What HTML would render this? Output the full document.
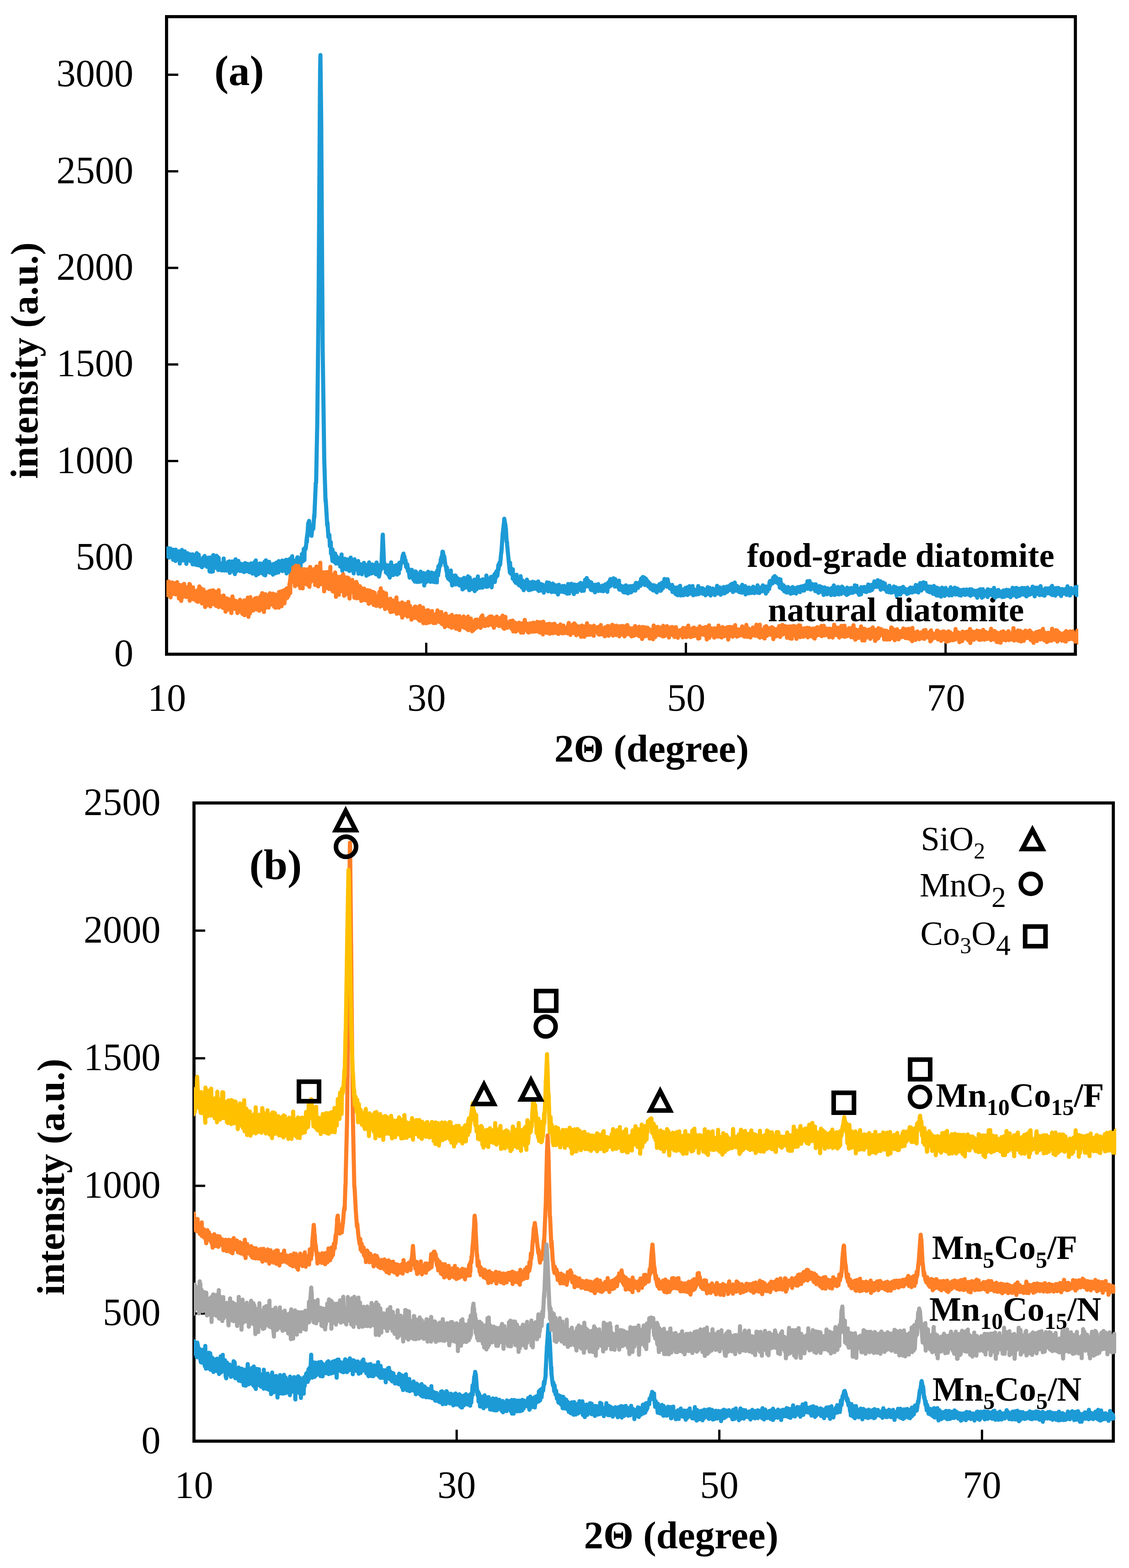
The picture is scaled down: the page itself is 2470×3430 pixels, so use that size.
<!DOCTYPE html>
<html><head><meta charset="utf-8"><title>XRD patterns</title>
<style>
html,body{margin:0;padding:0;background:#fff}
svg{display:block}
text{font-family:"Liberation Serif","DejaVu Serif",serif;fill:#000}
.t{font-size:84.3px}
.b{font-weight:bold}
.c{fill:none;stroke-width:9.0;stroke-linejoin:round;stroke-linecap:round}
.ax{fill:none;stroke:#000;stroke-width:6.8;stroke-linejoin:miter}
.tk{stroke:#000;stroke-width:5;fill:none}
.m{fill:none;stroke:#000;stroke-width:10;stroke-linejoin:miter}
</style></head><body>
<svg width="2470" height="3430" viewBox="0 0 2470 3430">
<rect width="2470" height="3430" fill="#fff"/>
<rect class="ax" x="364.4" y="36.4" width="1988.2999999999997" height="1394.6999999999998"/>
<path class="tk" d="M364.4 1219.8h25.6 M364.4 1008.5h25.6 M364.4 797.2h25.6 M364.4 586.0h25.6 M364.4 374.7h25.6 M364.4 163.4h25.6 M932.5 1431.1v-25 M1500.6 1431.1v-25 M2068.7 1431.1v-25"/>
<text class="b" x="1634" y="1240" font-size="75">food-grade diatomite</text>
<text class="b" x="1680" y="1358.5" font-size="75">natural diatomite</text>
<clipPath id="ca"><rect x="364.0" y="36.4" width="1994.9999999999998" height="1394.6999999999998"/></clipPath>
<g clip-path="url(#ca)"><polyline class="c" stroke="#1C9AD6" points="352.4,1209.9 352.8,1218.5 353.1,1217.6 353.5,1206.3 355.6,1197.7 355.9,1219.8 356.3,1209 357.3,1207.2 358,1215 359.1,1214.1 359.4,1204 360.1,1212.2 360.8,1197.2 362.2,1199.9 362.6,1209.9 363.6,1204.8 365.4,1216.6 365.7,1208.6 367.1,1217.4 368.5,1199.3 368.9,1211.4 369.9,1219.8 371.7,1202.6 372,1215.3 372.7,1200 373.8,1216.8 374.8,1214.2 375.2,1206.3 376.9,1219.5 378,1216.7 378.3,1220.9 378.7,1224.4 379,1202.6 381.1,1205.1 381.5,1217.1 383.9,1227.1 384.3,1202.5 384.6,1210.4 385.3,1224.5 386,1209.6 387.4,1210 387.8,1217.3 389.9,1223.1 390.6,1206.1 390.9,1224.2 392.7,1206.5 393.4,1232.8 393.7,1210.8 394.1,1212 394.8,1211 396.2,1223.8 396.9,1222.8 397.2,1214.2 397.9,1203.1 398.6,1222.4 399.7,1221 400,1226.1 402.5,1210.8 402.8,1214.7 403.2,1217.7 404.2,1206 405.3,1225.9 406,1214.8 406.3,1214.4 407.7,1233.3 408.1,1214.2 409.1,1223.4 409.5,1223.4 410.5,1210.3 412.3,1224.6 412.6,1226 414.7,1217.9 415.4,1221.4 415.8,1225.2 416.1,1212.8 416.5,1227.4 418.6,1218.4 418.9,1215.2 421,1212.6 421.4,1234.5 421.7,1212.9 422.1,1226.1 422.8,1213.7 423.5,1229.8 424.9,1224.7 425.2,1225.9 427.3,1217.1 428,1235.5 428.4,1230.8 430.5,1209.9 431.2,1218.5 431.5,1220.7 432.2,1215.6 433.3,1236.6 434.3,1224.2 434.7,1213.5 436.4,1230.1 437.5,1225.1 437.8,1225.3 438.9,1238.1 439.2,1224.2 440.6,1234.1 441,1224.7 441.7,1240.7 442.4,1223.5 443.4,1230.2 443.8,1224.2 444.1,1238.1 444.5,1219.8 446.6,1220.8 446.9,1232.5 447.6,1216.2 448.7,1233.1 449.7,1232.2 450.1,1227.8 451.8,1222.6 452.5,1239.7 452.9,1232 453.2,1228 455.3,1219.9 455.7,1239.1 456,1227.1 456.4,1220.1 458.5,1250 459.2,1233.3 459.5,1229.1 460.2,1219.4 461.6,1242.3 462.3,1232.9 462.7,1250.8 463.4,1226 465.5,1233.8 465.8,1249.8 466.5,1214.3 468.6,1239.2 469,1239 471.1,1231.2 471.4,1242 471.8,1235 472.1,1233.3 473.5,1215.7 474.9,1241.2 475.3,1237.3 476,1218.3 477.4,1246.9 478.1,1227.4 478.4,1220.6 479.5,1241.6 481.2,1232.7 481.6,1238 483.3,1241.1 484.4,1232.4 484.7,1247.8 486.5,1231.8 487.2,1238.6 487.5,1241 488.9,1247.8 489.3,1221.8 490.3,1240.3 490.7,1234.3 491.4,1248 492.8,1233.1 493.5,1236.7 493.8,1232.8 495.9,1247.9 496.6,1246.8 497,1242.4 498.4,1244.8 499.1,1228.9 499.8,1229.4 500.1,1239.8 501.9,1228 502.6,1253.2 502.9,1229.3 503.3,1251 504.7,1229.7 506.1,1237.5 506.4,1229.4 507.5,1228.2 508.9,1248.5 509.2,1236.6 509.6,1234.8 511.3,1251 512.4,1243.7 512.7,1227.5 513.8,1255.8 515.2,1223.6 515.5,1244.9 515.9,1251 517.3,1230.2 518.7,1240.1 519,1245.8 520.1,1247.6 521.5,1227 521.8,1240.1 522.2,1234.4 522.9,1233.2 525,1249 525.3,1242.6 526,1232.9 526.4,1248.9 528.1,1234.7 528.5,1236 530.9,1248.5 531.3,1239.8 533,1233.6 533.4,1251.3 534.1,1240.9 534.4,1232.9 535.1,1250.5 536.2,1231.8 537.2,1236 537.6,1249.7 539,1236.1 540.4,1244.8 540.7,1246.4 541.4,1233.6 543.5,1250.1 543.9,1249.9 546,1251.8 546.7,1239 547,1243 547.4,1247.1 548.8,1232.6 549.8,1237.2 550.2,1234.5 552.3,1254.8 553,1252 553.3,1245.5 555.4,1252.4 556.1,1230.2 556.5,1248.7 556.8,1253.8 559.3,1231.6 559.6,1225.9 560.3,1258.5 562.4,1254.1 562.8,1235 563.8,1233.7 564.5,1256.1 565.6,1243.5 565.9,1242 567.3,1253.1 568.7,1232.5 569.1,1250.4 570.8,1234.3 571.2,1253.6 571.9,1241.9 572.2,1241.4 572.6,1250.7 572.9,1233.2 574.7,1239.5 575,1244.1 576.4,1238.1 577.5,1257.4 577.8,1239.1 578.2,1244.4 578.9,1228.5 580.3,1258.4 581,1250.2 581.3,1240.6 581.7,1225.7 584.1,1249.5 584.5,1251.5 586.6,1233.8 587.3,1242.3 587.6,1238.8 588.7,1229 590.4,1252.8 590.8,1239.3 591.1,1233.8 591.8,1252.4 593.6,1239.1 593.9,1251.5 596.4,1238.5 596.7,1241.6 597.1,1257 598.8,1233.4 599.9,1237.3 600.2,1242.8 600.9,1235.4 603,1253.9 603.4,1236.6 603.7,1250.2 604.8,1230.7 606.2,1240.4 606.5,1248 607.2,1232.8 609,1252.2 609.3,1246.2 609.7,1227.6 611.8,1245 612.5,1236.7 612.8,1235.1 614.6,1232.6 615.3,1245.3 615.6,1239.6 616,1240.3 617.4,1226.3 617.7,1249.3 618.4,1234.7 618.8,1247.4 620.2,1227.9 621.6,1247.3 621.9,1230.7 623.3,1242.7 624.4,1225.5 624.7,1229.8 625.1,1230.6 626.5,1224.4 626.8,1254.2 627.9,1245.7 628.2,1245.2 628.9,1227.5 631,1245 631.4,1227.6 632.4,1251.2 634.2,1222.3 634.5,1238.2 634.9,1227.3 636.6,1240.5 637.3,1229.4 637.7,1240.1 639.1,1216.8 639.8,1249.4 640.5,1233.5 640.8,1240.7 643.3,1226.5 643.6,1234.8 644,1240.2 645.4,1250.5 646.8,1233 647.1,1234.2 647.8,1243.4 649.2,1223.4 649.9,1229.4 650.3,1219.4 651,1218.9 652.4,1236.8 653.1,1231 653.4,1232.7 653.8,1238.5 655.9,1222.7 656.2,1230.2 656.6,1225.8 657.6,1239.7 658,1220.7 659.4,1226.4 659.7,1225.8 660.1,1229.1 660.4,1212 662.2,1213.1 662.5,1218.4 662.9,1227.5 664.6,1200.6 665.3,1210.8 665.7,1219.9 666,1224.9 666.4,1200.7 668.5,1201.4 668.8,1195.9 669.2,1197.9 671.3,1175.4 671.6,1184.8 672,1169.4 672.3,1174.9 674.4,1143.8 674.8,1144.8 675.1,1146.5 676.2,1139.5 677.9,1157.2 678.3,1159.9 680,1153.6 680.4,1168 681.1,1160.1 681.4,1172.1 684.2,1149.2 684.6,1152.5 685.3,1157 687.4,1126.1 687.7,1131.7 690.5,1065.4 690.9,1056.2 691.6,1056.2 693.7,944.4 694,934.3 696.8,680.1 697.2,632.9 700,192.4 700.3,156.9 701,120.5 702.8,269.2 703.1,327.1 705.9,759.7 706.3,788.5 709.1,985.3 709.4,1005.4 712.2,1096 712.6,1093.2 715.4,1139.8 715.7,1149.2 716.4,1143.4 718.5,1174.6 718.9,1174 720.6,1169.9 721.7,1195 722,1189.5 723.8,1185.9 724.1,1210.9 724.8,1199 725.2,1206.6 727.3,1227 727.6,1202.4 728,1211.3 728.3,1208.3 728.7,1207.8 731.1,1228.9 731.5,1223.4 733.2,1210.6 734.3,1219.4 734.6,1218.6 735,1232.8 736.4,1216.9 737.4,1222.4 737.8,1223.8 738.1,1231.6 738.8,1219.7 740.6,1226.4 740.9,1232.3 743,1234.8 743.7,1221.3 744.1,1239.2 745.5,1224.1 746.5,1238 746.9,1231.9 747.2,1213 749,1248.6 749.7,1241.5 750,1239 750.4,1224.2 752.8,1233.2 753.2,1232.4 754.6,1222.2 756,1238.2 756.3,1235.1 757.4,1245.4 758.4,1225.8 759.1,1236.7 759.5,1230.3 760.2,1240.6 761.6,1223.7 762.3,1231.1 762.6,1244.9 763,1230.8 764,1249 765.4,1242.6 765.8,1245.8 766.1,1248 767.2,1219.8 768.6,1237.9 768.9,1234.9 770.3,1226.1 770.7,1242.2 771.7,1233.8 772.1,1235.6 772.8,1230.8 773.8,1254.3 774.9,1235.4 775.2,1232.2 775.6,1223.4 778,1242.2 778.4,1243.1 779.4,1245.9 781.2,1232.6 781.5,1244.8 783.6,1227.2 784.3,1254.9 784.7,1253.3 786.8,1235.4 787.5,1246.5 787.8,1234.2 789.6,1248.2 790.3,1242.5 790.6,1234.8 791.7,1256.2 793.4,1246.2 793.8,1248.6 796.2,1231.3 796.6,1239.5 796.9,1247 798.7,1250.6 799,1240.2 799.7,1243.3 800.1,1240 800.4,1236.1 801.5,1259.4 802.9,1257.9 803.2,1240.1 805.3,1237.5 806,1256.8 806.4,1243.4 807.4,1230.3 808.1,1254.4 809.2,1248.8 809.5,1247.6 811.3,1236 811.6,1254.5 812.3,1254.4 812.7,1254.3 814.1,1234.8 815.5,1252.4 815.8,1248.6 816.9,1237 817.2,1253.1 818.6,1246.5 819,1247.5 819.7,1235.7 820,1253.3 821.8,1238.3 822.1,1256.1 823.9,1230.4 824.6,1256.7 824.9,1255.8 825.3,1245.1 826.3,1236.9 827.4,1258 828.1,1257.7 828.4,1247.7 828.8,1237 829.1,1261.2 831.2,1251.6 831.6,1244.9 831.9,1236.1 833,1246.7 834,1245.3 834.4,1240.1 837.2,1171.2 837.5,1169.5 840.3,1237.6 840.7,1230.8 842.4,1243.3 843.5,1242.8 843.8,1242.4 844.2,1252.2 846.6,1238.7 847,1254.3 848,1236.6 849.8,1257.8 850.1,1246.4 851.5,1238.4 852.6,1263.5 852.9,1257.7 853.3,1253.6 855,1259.3 855.7,1230.3 856.1,1256.7 856.4,1242.4 858.5,1241.2 858.9,1255.6 859.2,1249.2 859.6,1246.5 860.6,1257.7 862.4,1238.1 862.7,1246.6 863.4,1253.6 864.1,1238.5 865.5,1247.6 865.9,1238.1 867.3,1236.2 868.7,1256.9 869,1253.2 869.4,1238.6 871.8,1248.1 872.2,1248.2 872.5,1254.2 873.6,1231.1 875,1241 875.3,1245 877.1,1230.8 877.8,1232.5 878.1,1231.3 878.5,1231.6 880.9,1216.4 881.3,1215.3 882.7,1210.9 883.7,1218.6 884.1,1217.3 884.4,1220.3 884.8,1217.3 886.9,1233 887.2,1225.6 887.6,1228.5 888.3,1239.8 890.4,1234.7 890.7,1243.6 891.1,1234.7 892.5,1249.6 893.5,1243.9 893.9,1246.1 896.3,1263.6 896.7,1251.7 897,1257.1 898.1,1248.4 898.4,1260 899.8,1256.9 900.2,1251.6 900.9,1246.5 902.3,1262.6 903,1255.7 903.3,1261.9 904.7,1268.6 905.8,1252.5 906.1,1263.7 906.5,1252.2 907.5,1272.3 908.9,1250.1 909.3,1259.5 909.6,1269.9 910.3,1251.2 912.1,1273 912.4,1262.7 912.8,1260.5 914.5,1271 914.9,1255.6 915.6,1265 915.9,1272.7 916.3,1260.2 918.7,1266.4 919.1,1268.1 919.8,1272.3 920.1,1250.6 921.5,1258.9 921.9,1265.1 924.3,1269.7 924.7,1256.2 925,1260.7 925.4,1267 926.1,1253.5 927.8,1257.2 928.2,1280.7 929.2,1254.5 931,1260.2 931.3,1274 932,1255.6 934.1,1263.9 934.5,1257.6 936.6,1250.7 937.3,1271.3 937.6,1258.1 938.3,1254 939.7,1262.2 940.4,1259.1 940.8,1262.4 941.8,1272.8 943.6,1256 943.9,1252.4 946.7,1272.3 947.1,1256.4 947.4,1253.6 948.1,1269.1 949.9,1267.7 950.2,1273.4 953,1253.5 953.4,1263.9 955.8,1273.9 956.2,1248.6 956.5,1257 958.6,1258.8 959,1238.8 959.3,1251.4 959.7,1251.6 961.8,1235.1 962.5,1238.2 962.8,1232.5 963.9,1236.5 964.2,1224.1 965.3,1231 965.6,1218.8 966,1224.5 968.1,1206.7 968.4,1207.1 968.8,1213.6 969.1,1207.2 971.6,1224.4 971.9,1217 974.7,1238.5 975.1,1239.3 975.8,1238.6 976.8,1249.4 977.9,1241.6 978.2,1260.3 979.3,1249.8 980,1265.2 981,1257.8 981.4,1259.1 982.4,1267.4 983.5,1252.2 984.2,1262.3 984.5,1267.9 985.2,1270 986.3,1248 987.3,1264.5 987.7,1267.6 989.1,1280.6 990.5,1259.6 990.8,1271.5 991.5,1277.5 993.3,1266.3 993.6,1268.8 994,1261.9 995.7,1258.7 996.4,1278.5 996.8,1259.5 997.1,1266 997.8,1262.9 999.6,1273.6 999.9,1263.9 1000.3,1271.6 1000.6,1277.8 1003.1,1266.4 1003.4,1275.3 1004.5,1268.7 1005.2,1280.7 1006.2,1280.5 1006.6,1272.8 1007.6,1279.4 1008.3,1270.2 1009,1273.1 1009.4,1275.8 1010.1,1266.9 1011.8,1289.3 1012.2,1280.6 1012.5,1273.7 1015,1286.9 1015.3,1264.1 1015.7,1283.7 1016.7,1273.2 1018.5,1274.7 1018.8,1272.9 1020.9,1266.1 1021.6,1285.3 1022,1281.7 1022.3,1283.4 1023.8,1260.8 1024.8,1267.3 1025.2,1264.4 1026.6,1291.1 1027.6,1263.4 1028,1277.4 1028.3,1282.7 1028.7,1267.5 1030.8,1283 1031.1,1277.5 1031.5,1281.3 1031.8,1288.4 1032.5,1271.3 1034.3,1275.7 1034.6,1282.6 1035,1273.9 1036.4,1285.2 1037.4,1282.4 1037.8,1267.9 1038.5,1292.9 1040.6,1281.2 1040.9,1275.9 1042.3,1267.8 1042.7,1289 1043.7,1283.4 1044.1,1277.2 1045.5,1260.9 1046.5,1282.8 1046.9,1273 1047.2,1275.7 1049,1271.5 1049.3,1285.8 1049.7,1271.9 1050,1277.2 1050.7,1273 1051.8,1284.8 1052.8,1281.4 1053.2,1268.7 1055.3,1285.5 1056,1267.2 1056.3,1269.4 1057,1282.6 1059.1,1273.7 1059.5,1277.3 1060.5,1279 1060.9,1270.9 1062.3,1272.2 1062.6,1281 1063.7,1283.7 1064,1258.9 1065.4,1276.6 1065.8,1277.6 1066.8,1283.3 1067.9,1267.4 1068.6,1270.6 1068.9,1270.7 1070.3,1279.4 1071,1266.3 1071.7,1272.7 1072.1,1272.2 1073.5,1262.3 1073.8,1274.9 1074.9,1274.3 1075.2,1270.3 1075.6,1284.7 1077.7,1260.9 1078,1274.4 1078.4,1263.1 1079.1,1272.1 1081.2,1260.3 1081.5,1264.3 1082.2,1255.8 1082.6,1272.9 1084.3,1260 1084.7,1253 1085,1262.8 1086.1,1249.8 1087.5,1249.9 1087.8,1251 1088.2,1259.3 1090.3,1235.7 1090.6,1245.9 1091,1242.9 1092.7,1230.7 1093.4,1236.5 1093.8,1229.8 1094.1,1235 1096.6,1208.4 1096.9,1209.2 1099.7,1168.8 1100.1,1165 1102.9,1140.8 1103.2,1134.8 1106,1149.9 1106.4,1156.1 1106.7,1155.7 1108.5,1185.6 1109.2,1185.5 1109.5,1191.3 1112.3,1220.9 1112.7,1224.7 1115.5,1252.5 1115.8,1231 1117.6,1255 1118.6,1243.7 1119,1255.6 1121.4,1249.9 1121.8,1266 1122.1,1245.5 1122.5,1266.2 1124.9,1258.3 1125.3,1268.5 1125.6,1261.8 1126,1271.8 1128.1,1266.1 1128.4,1275 1130.2,1257.2 1131.2,1273.5 1131.6,1273.5 1132.3,1264.9 1133,1277.2 1134.4,1273.3 1134.7,1274.4 1135.1,1265.4 1135.4,1280.2 1137.2,1276 1137.5,1274.1 1137.9,1281.2 1138.9,1260.5 1140.3,1271 1140.7,1278.3 1141.4,1284.9 1142.8,1269.5 1143.5,1278.1 1143.8,1273.5 1145.6,1290.9 1146.6,1278.1 1147,1275.7 1147.3,1288.2 1149.8,1272 1150.1,1277.8 1151.5,1285.2 1152.6,1268 1152.9,1279.6 1153.3,1272.8 1154.3,1284.9 1154.7,1272 1156.1,1273.1 1156.4,1290.5 1157.5,1277.3 1157.8,1291 1159.2,1286.2 1159.6,1274.5 1160.3,1286.8 1161.3,1274.1 1162.4,1276.8 1162.7,1274.5 1163.4,1289.4 1165.5,1272.6 1165.9,1282.7 1168,1273.5 1168.3,1288.1 1168.7,1279.3 1169,1283.6 1170.4,1287.3 1171.5,1274.2 1171.8,1283.2 1172.2,1277.7 1173.2,1275.7 1175,1286 1175.3,1289.1 1176.4,1290.3 1177.4,1271.9 1178.1,1283.9 1178.5,1280.4 1178.8,1292.7 1179.9,1278.2 1180.9,1280.6 1181.3,1282.5 1182.7,1277.4 1183.7,1291.5 1184.1,1283 1184.4,1285.6 1186.9,1287.2 1187.2,1279.1 1187.6,1288.7 1189.3,1281.8 1189.7,1296.4 1190.4,1287.6 1190.7,1283 1192.5,1291 1193.2,1280.8 1193.5,1290 1193.9,1284.5 1194.2,1289.1 1196.7,1273.9 1197,1285.5 1199.1,1293.5 1199.5,1280.5 1199.8,1282.4 1200.2,1283.5 1201.2,1274.8 1202.6,1290.9 1203,1284.9 1203.3,1291.8 1204.4,1292.1 1205.4,1279.4 1206.1,1289.7 1206.5,1285.8 1206.8,1295.1 1209.3,1276.5 1209.6,1279.1 1211.7,1291.1 1212.4,1285.2 1212.8,1294.7 1214.2,1279.9 1215.6,1284.9 1215.9,1288.6 1217.7,1295.9 1218.7,1286.6 1219.1,1283.3 1220.5,1280 1220.8,1300.4 1221.9,1292.8 1222.2,1282 1222.9,1279.2 1224.3,1289.6 1224.7,1286.9 1225,1294 1225.4,1294.6 1226.8,1286.3 1227.8,1286.8 1228.2,1287.3 1229.9,1294.4 1230.6,1282 1231,1287.6 1231.3,1291.5 1232,1291.9 1234.1,1281.7 1234.5,1284.2 1234.8,1283.7 1235.2,1295.8 1237.3,1292 1237.6,1286.6 1240.4,1298.6 1240.8,1283.1 1241.5,1291.3 1242.9,1277.5 1243.6,1288 1243.9,1287.7 1245,1298.3 1246,1285.8 1246.7,1286.7 1247.1,1287.4 1248.5,1291.3 1249.9,1276.9 1250.2,1292.1 1251.3,1293 1252.3,1285.9 1253,1286 1253.4,1289.1 1255.5,1299.6 1256.2,1278.7 1256.5,1284.7 1258.6,1279.3 1259,1288.1 1259.3,1284.1 1259.7,1292 1261.8,1279.8 1262.5,1295 1262.8,1286.5 1263.9,1281.6 1264.2,1290.7 1265.6,1289.8 1266,1278.2 1268.1,1289.9 1268.4,1285.7 1268.8,1284.4 1270.2,1275.1 1271.6,1290.5 1271.9,1280.6 1272.3,1292.7 1274.7,1282.8 1275.1,1288 1275.8,1276.3 1277.2,1292.2 1277.9,1282.9 1278.2,1284.7 1278.6,1285.6 1280,1268.4 1281,1282.2 1281.4,1269.1 1283.1,1281.6 1283.5,1264.5 1284.2,1275.9 1284.5,1282.4 1287,1269.8 1287.3,1277.9 1287.7,1276.1 1289.1,1273.8 1290.5,1283.9 1290.8,1284.9 1291.5,1273.6 1292.6,1290.2 1293.6,1274.1 1294,1279.7 1295,1278.4 1295.4,1291.1 1296.8,1280.7 1297.1,1287.7 1297.5,1279.1 1298.5,1288.1 1299.9,1281.2 1300.3,1286.7 1301.7,1295.7 1302.7,1279.2 1303.1,1286.8 1303.4,1282.5 1304.5,1280.4 1304.8,1289.9 1306.2,1281.6 1306.6,1287.3 1308.7,1277.7 1309,1292.7 1309.4,1286.9 1309.7,1285 1310.1,1283.1 1311.5,1290.6 1312.2,1285.3 1312.5,1288.1 1314.6,1292.5 1315,1282.4 1315.3,1285.7 1315.7,1286.1 1316.4,1292.5 1317.8,1281 1318.5,1284.3 1318.8,1286.1 1319.9,1293.3 1320.2,1283 1321.6,1285.7 1322,1287.3 1322.3,1289.1 1324.1,1278.4 1324.8,1280.3 1325.1,1290.1 1327.9,1276.8 1328.3,1286.2 1328.6,1294.5 1330.4,1275 1331.1,1279.7 1331.4,1273.7 1332.8,1283.8 1334.2,1279.2 1334.6,1268.2 1335.6,1266.8 1336,1281.6 1337.4,1268 1337.7,1266.7 1338.8,1272.6 1340.5,1267.8 1340.9,1272.5 1341.9,1278.2 1342.3,1265.1 1343.7,1272.8 1344,1274.4 1345.1,1283.2 1346.1,1266.9 1346.8,1280.3 1347.2,1273.8 1347.9,1280.3 1350,1272.5 1350.3,1281.3 1350.7,1271.3 1352.8,1285.4 1353.1,1281.2 1353.5,1273.6 1354.2,1270.2 1354.9,1289.7 1355.9,1283.6 1356.3,1284.5 1357.3,1281.1 1359.1,1289 1359.4,1281.7 1360.8,1291.8 1362.2,1283 1362.6,1289.9 1363.6,1283.3 1364.3,1295.7 1365.4,1294.6 1365.7,1282.5 1367.1,1295.7 1368.5,1287.4 1368.9,1291 1369.2,1280.5 1369.6,1296.3 1371.7,1289.4 1372,1282.3 1373.8,1298 1374.8,1289 1375.2,1290.2 1377.3,1282.6 1377.6,1295.4 1378,1287.1 1378.3,1288 1380.1,1282.1 1380.4,1295.8 1381.1,1286.3 1381.5,1284.9 1383.9,1292.7 1384.3,1282.4 1384.6,1287.9 1385.3,1281.6 1387.1,1290.8 1387.4,1287.5 1387.8,1284.7 1389.9,1291.9 1390.2,1278.8 1390.6,1279.1 1390.9,1275.4 1391.3,1288.1 1391.6,1274.9 1393.7,1285.9 1394.1,1276.3 1395.8,1286.1 1396.5,1280 1396.9,1278.3 1398.6,1282.2 1399,1273.8 1399.7,1277.5 1400,1277.2 1401.4,1281.4 1402.5,1265.8 1402.8,1273.9 1403.2,1269.1 1404.2,1274.6 1406,1262.3 1406.3,1270.1 1407.4,1277.4 1408.8,1262.9 1409.1,1273.1 1409.5,1267.1 1410.9,1279.8 1412.3,1273 1412.6,1267.5 1413,1265.6 1415.4,1275.9 1415.8,1270.1 1418.2,1282.7 1418.6,1273.2 1418.9,1283 1420.3,1277.8 1421.4,1285.1 1421.7,1280.1 1422.1,1276.8 1423.1,1287.9 1424.9,1280.1 1425.2,1282.3 1426.6,1280.4 1428,1290.8 1428.4,1286.4 1428.7,1291.6 1429.8,1280 1431.2,1287.4 1431.5,1284.5 1431.9,1281 1434.3,1292.9 1434.7,1290.3 1435.4,1282.2 1436.8,1295.8 1437.5,1286.7 1437.8,1284.6 1438.9,1281.6 1439.9,1291.1 1440.3,1283.8 1440.6,1286.8 1442,1288.5 1442.7,1277.8 1443.4,1280.7 1443.8,1282.8 1444.8,1292.4 1445.5,1280.8 1446.6,1288.6 1446.9,1290.6 1448,1274.7 1449.7,1277.5 1450.1,1283.3 1450.4,1286.5 1452.5,1272.5 1452.9,1274.7 1453.2,1273.8 1453.6,1266.6 1456,1267.6 1456.4,1271.8 1457.4,1267.5 1458.8,1283.4 1459.2,1270.7 1459.5,1271.4 1459.9,1277.9 1460.6,1267.3 1462.3,1276.4 1462.7,1280 1463.4,1277.3 1465.5,1287.2 1465.8,1282.1 1466.5,1282 1468.3,1288.9 1468.6,1288.1 1469,1288.3 1470.4,1279.5 1471.4,1295.1 1471.8,1291.9 1472.1,1293.9 1473.2,1294.5 1474.6,1286.7 1474.9,1286.9 1475.3,1284.9 1477.7,1299.1 1478.1,1293.3 1478.4,1288.8 1479.1,1299.9 1480.5,1285.3 1481.2,1291.2 1481.6,1290.8 1482.3,1302.1 1483.7,1286.2 1484,1290.5 1484.4,1293.6 1484.7,1296.5 1486.5,1282.9 1487.2,1290.5 1487.5,1290.7 1487.9,1281.5 1488.9,1302.5 1490.3,1294.4 1490.7,1290.8 1492.4,1300.4 1493.5,1294 1493.8,1297.2 1494.2,1289.4 1494.5,1302.2 1496.6,1292.8 1497,1290.8 1497.7,1300.8 1499.4,1286.1 1499.8,1286.3 1500.1,1291.2 1501.2,1296.9 1502.2,1286.5 1502.9,1293.6 1503.3,1288.6 1503.6,1284.8 1504,1301.5 1506.1,1294.7 1506.4,1296.9 1506.8,1299.7 1508.2,1282.3 1509.2,1293.7 1509.6,1293.1 1512,1297.8 1512.4,1287 1512.7,1294.7 1514.1,1299.3 1515.2,1282 1515.5,1295.3 1515.9,1294.3 1516.6,1302.2 1517.6,1291.1 1518.7,1297 1519,1296.2 1520.4,1290 1521.1,1300.5 1521.8,1294.9 1522.2,1299.5 1524.3,1300.2 1524.6,1292.6 1525,1292.7 1525.3,1292.1 1526.4,1297.7 1527.4,1282.1 1527.8,1286.5 1528.1,1299.8 1530.2,1285.8 1530.9,1294.2 1531.3,1296.8 1532.3,1288.7 1532.7,1297.2 1534.1,1292 1534.4,1291 1536.5,1286.5 1536.9,1298.7 1537.2,1293.6 1537.6,1293.2 1538.6,1287.8 1539,1297.5 1540.4,1291.8 1540.7,1292.9 1543.2,1302.2 1543.5,1290.1 1543.9,1299 1544.2,1299.6 1546,1288.9 1546.7,1289.8 1547,1292.5 1547.4,1299.6 1548.1,1284.6 1549.8,1287.4 1550.2,1298.3 1551.6,1299.6 1552.3,1285.7 1553,1290.3 1553.3,1293.1 1554.7,1302.7 1556.1,1288.6 1556.5,1295.8 1557.5,1297.7 1559.3,1287.5 1559.6,1294.5 1561,1288.8 1561.7,1295.4 1562.4,1290.7 1562.8,1294.7 1563.8,1301.7 1565.6,1288.5 1565.9,1294.3 1568,1298.5 1568.7,1281.4 1569.1,1294.2 1570.8,1289.2 1571.2,1298.1 1571.5,1294.8 1571.9,1290.4 1572.6,1296.9 1574.7,1285 1575,1296.4 1576.8,1301.1 1577.8,1287.4 1578.2,1293.1 1578.9,1298.4 1579.6,1288.4 1581,1294.7 1581.3,1293.4 1583.1,1284 1583.4,1296.5 1584.1,1294.1 1584.5,1291.6 1584.8,1298.1 1586.6,1286 1587.3,1289.6 1587.6,1292.4 1589,1295.5 1590.4,1282.9 1590.8,1288.3 1591.1,1294.3 1593.2,1283 1593.6,1286.4 1593.9,1289.7 1596,1290.9 1596.4,1281.1 1596.7,1285.7 1597.1,1286 1597.8,1290.5 1598.8,1278.8 1599.9,1284.2 1600.2,1282.6 1601.6,1276.9 1603,1287.8 1603.4,1295.1 1605.5,1278.8 1606.2,1282.9 1606.5,1277.4 1607.6,1274.2 1608.6,1289.1 1609.3,1280.2 1609.7,1288.9 1610.4,1292.2 1612.1,1281.4 1612.5,1289.5 1612.8,1287.1 1613.9,1291.6 1614.6,1285.9 1615.3,1288.3 1615.6,1286.3 1617,1295.1 1617.4,1284.5 1618.4,1286.5 1618.8,1287 1619.8,1295.8 1620.5,1285.8 1621.6,1291.3 1621.9,1286.8 1623.3,1296.5 1623.7,1279.2 1624.7,1289.3 1625.1,1286.9 1625.8,1281.8 1627.9,1291.6 1628.2,1283.8 1630,1281.9 1631,1300.3 1631.4,1293.8 1631.7,1297.5 1633.1,1286.3 1634.2,1286.8 1634.5,1296 1635.9,1297.7 1636.6,1285.7 1637.3,1294 1637.7,1292.1 1638,1285.3 1639.1,1297.8 1640.5,1288.4 1640.8,1288 1641.9,1296.9 1642.2,1287.9 1643.6,1296 1644,1290.1 1644.3,1297 1645.7,1285.7 1646.8,1291.6 1647.1,1290.5 1647.5,1283.6 1649.9,1295.6 1650.3,1288.6 1650.6,1297.4 1652,1287.4 1653.1,1295.5 1653.4,1285.8 1654.1,1293.9 1656.2,1292.2 1656.6,1294.9 1657.3,1280.4 1658.3,1296.8 1659,1284.2 1659.4,1296.7 1661.5,1297.2 1662.2,1289.8 1662.5,1285.4 1663.9,1294.3 1665.3,1290.5 1665.7,1292.9 1667.4,1293.3 1667.8,1285.3 1668.5,1287.9 1668.8,1280.5 1669.5,1293 1671.6,1287.2 1672,1290.8 1674.4,1282.9 1674.8,1290 1675.1,1286.1 1675.5,1298.4 1676.2,1283.4 1677.9,1287.3 1678.3,1284.7 1679,1293.6 1679.7,1282.7 1681.1,1288 1681.4,1282.6 1682.8,1288.2 1683.5,1273.4 1684.2,1277.3 1684.6,1271.1 1684.9,1280.8 1687,1270.6 1687.4,1275.7 1687.7,1276.1 1689.1,1269.1 1690.2,1276.2 1690.5,1272.5 1690.9,1269.4 1691.2,1271.6 1691.6,1263.3 1693.7,1263.6 1694.1,1265.8 1694.8,1260.2 1696.5,1273.5 1696.9,1272.6 1697.2,1265.4 1697.9,1262.8 1698.3,1272.4 1699.7,1270.6 1700,1269.9 1701.4,1266.5 1702.1,1276.3 1702.8,1271.7 1703.2,1276.4 1703.9,1266.4 1706,1285.4 1706.3,1275 1707.4,1267.4 1708.4,1281.1 1709.1,1275.6 1709.5,1283.6 1710.2,1278.3 1711.6,1289 1712.3,1288.6 1712.6,1284.4 1714.4,1280.3 1715.4,1293 1715.8,1293.1 1716.8,1285 1717.2,1294.3 1718.6,1286.6 1718.9,1287.9 1719.6,1284.7 1721,1296.1 1721.7,1291.1 1722.1,1295.1 1723.5,1284 1723.8,1296.1 1724.9,1293.9 1725.2,1286.9 1725.6,1285.2 1727.3,1294.9 1728,1292.6 1728.4,1290.8 1729.8,1298.8 1730.5,1288.7 1731.2,1290.5 1731.5,1297.8 1734,1284.1 1734.3,1292.3 1734.7,1297.4 1736.4,1285.8 1737.5,1290.1 1737.8,1290 1738.2,1295.1 1740.3,1288.4 1740.6,1294.9 1741,1289.4 1741.7,1298.4 1743.4,1285.2 1743.8,1290.8 1744.8,1292.5 1745.9,1284.3 1746.6,1288 1746.9,1285.1 1748.3,1293.7 1749.7,1287.3 1750.1,1295.3 1751.8,1282.9 1752.9,1288.8 1753.2,1289 1754.6,1282.7 1755.7,1291.7 1756,1285.6 1756.4,1291.7 1756.7,1282 1759.2,1291.8 1759.5,1283.4 1759.9,1288.3 1761.6,1280.3 1762.3,1286.1 1762.7,1282.2 1763.4,1280.2 1765.1,1287.7 1765.5,1281 1765.8,1280.6 1766.5,1271.5 1766.9,1288 1768.6,1284.1 1769,1273.2 1769.7,1281.4 1771.1,1270.9 1771.8,1279.5 1772.1,1281.9 1773.5,1289.5 1773.9,1279.4 1774.9,1279.4 1775.3,1277.3 1776,1277.3 1776.3,1287 1778.1,1284.6 1778.4,1287.1 1779.8,1280 1780.2,1288.2 1781.2,1281.3 1781.6,1284.2 1781.9,1278.5 1783.7,1293.1 1784.4,1282.6 1784.7,1278.2 1785.4,1291.7 1787.2,1285 1787.5,1285.7 1788.6,1284.3 1790.3,1296.7 1790.7,1293 1791.4,1296 1792.8,1282 1793.5,1290.9 1793.8,1289 1795.2,1285.3 1795.6,1291.9 1796.6,1287.5 1797,1288.7 1797.3,1283.9 1798.4,1295.2 1799.8,1293.4 1800.1,1292.1 1801.9,1301.4 1802.2,1287 1802.9,1292.4 1803.3,1285.4 1804.3,1285 1805,1294.6 1806.1,1288.3 1806.4,1288.5 1809.2,1300.1 1809.6,1290.8 1810.6,1286.9 1811.3,1296.8 1812.4,1290.8 1812.7,1293.3 1813.1,1296.1 1815.5,1288.5 1815.9,1291 1818,1301.8 1818.3,1288.5 1818.7,1292.3 1819,1299.8 1820.1,1286 1821.8,1293.3 1822.2,1291.6 1822.5,1295.3 1824.3,1280.6 1825,1295.1 1825.3,1291 1825.7,1301.4 1827.8,1286.2 1828.1,1288.2 1828.5,1300.2 1829.5,1287 1830.9,1290.1 1831.3,1291.4 1832.3,1297 1833,1284 1834.1,1295.1 1834.4,1296.5 1835.1,1300.4 1835.8,1285.2 1837.2,1285.9 1837.6,1291 1840.4,1299.2 1840.7,1293.3 1842.1,1283.3 1843.5,1295.9 1843.9,1286.2 1844.2,1285.3 1844.9,1293.8 1846.7,1289.4 1847,1294.1 1847.7,1290.1 1849.1,1298.5 1849.8,1295.2 1850.2,1295.5 1852.3,1301.4 1852.6,1288 1853,1292.2 1853.3,1285.5 1856.1,1299.3 1856.5,1295.6 1858.6,1287.4 1858.9,1296.5 1859.3,1289.4 1859.6,1291.2 1860.7,1296.8 1862.1,1286.3 1862.4,1288.1 1862.8,1292.7 1863.5,1286.7 1863.8,1297 1865.6,1293.6 1865.9,1294.6 1866.6,1296.3 1867.3,1287.9 1868.7,1291.7 1869.1,1290.2 1869.4,1294.4 1870.1,1280.4 1871.9,1287.4 1872.2,1292.4 1874,1281.5 1874.7,1295.1 1875,1287.5 1876.8,1296.9 1877.8,1293.2 1878.2,1289.7 1879.6,1301.2 1880.3,1288.1 1881,1289.1 1881.3,1290.7 1883.8,1299.9 1884.1,1284.4 1884.5,1286.2 1885.5,1294.3 1886.6,1286.1 1887.3,1288.8 1887.6,1290.1 1888,1284.7 1889.7,1293.4 1890.4,1291.2 1890.8,1285.1 1891.1,1284 1893.6,1294.6 1893.9,1292.9 1894.3,1284.5 1895.7,1295.1 1896.7,1288.7 1897.1,1286.9 1898.5,1287.7 1899.5,1278.6 1899.9,1278.8 1900.2,1290.1 1900.9,1292.4 1902,1280.7 1903,1288.3 1903.4,1292.6 1904.1,1279.7 1906.2,1282.4 1906.5,1288.5 1907.2,1279.4 1907.6,1290.5 1909.3,1286.8 1909.7,1284.6 1912.1,1275.2 1912.5,1284.5 1912.8,1271.8 1914.9,1283 1915.6,1279.1 1916,1277.1 1917.7,1283.8 1918.1,1274.3 1918.4,1283.7 1918.8,1274.8 1920.2,1269.2 1920.9,1278.9 1921.6,1273.7 1921.9,1272.1 1922.6,1270.5 1923.3,1284.4 1924.7,1283.2 1925.1,1274.8 1926.1,1271.6 1926.8,1290 1927.9,1284.8 1928.2,1283.6 1928.9,1285.8 1929.3,1278.8 1931,1280.5 1931.4,1283.6 1932.1,1274.3 1933.8,1286.7 1934.2,1282.4 1934.5,1282.4 1934.9,1289.2 1935.9,1276.5 1937.3,1288.6 1937.7,1283.3 1940.1,1294.6 1940.5,1287 1940.8,1288.3 1941.2,1291.8 1942.9,1285.7 1943.6,1290.2 1944,1287.4 1945,1295.6 1945.7,1281.2 1946.8,1289.9 1947.1,1289.9 1948.2,1285.9 1949.6,1296.4 1949.9,1294.7 1950.3,1290.4 1951,1288.2 1952,1296.1 1953.1,1292.7 1953.4,1292.7 1955.5,1282.9 1956.2,1294.5 1956.6,1289.6 1959,1295.5 1959.4,1284.4 1959.7,1294 1960.1,1290.3 1961.8,1303.3 1962.2,1292 1962.5,1288.1 1963.2,1286.6 1963.6,1300 1965.3,1287.3 1965.7,1290.2 1967.4,1289.5 1968.1,1295.6 1968.5,1292.7 1968.8,1288.8 1969.2,1286.1 1969.5,1300.7 1971.6,1294.9 1972,1293.9 1973,1288 1973.7,1295.7 1974.8,1291.1 1975.1,1292.1 1975.8,1283.7 1976.5,1294.7 1977.9,1292.1 1978.3,1290.9 1979,1295.3 1980.7,1288.1 1981.1,1290 1981.4,1293.2 1983.2,1291.3 1984.2,1299.3 1984.6,1294.3 1985.6,1297.3 1987.4,1288.8 1987.7,1294.1 1988.8,1297.5 1990.2,1286.5 1990.5,1292.7 1990.9,1288.1 1991.9,1285.3 1993.3,1295.7 1993.7,1291.7 1994,1289.6 1995.4,1296.2 1996.5,1285.7 1996.8,1295.4 1997.2,1293.6 1998.9,1294.7 1999.3,1287.8 2000,1291.2 2000.3,1286 2002.4,1293.7 2003.1,1282.3 2003.5,1279.6 2004.2,1294.4 2005.9,1291.6 2006.3,1285.4 2008,1281.5 2009.1,1296.2 2009.4,1286.1 2010.1,1291.9 2010.5,1279.3 2012.2,1287.7 2012.6,1284 2013.3,1275.3 2013.6,1290.7 2015.4,1276.9 2015.7,1291.7 2017.5,1278.3 2018.5,1286.6 2018.9,1278.5 2020.3,1273.7 2021.7,1287.6 2022,1280.7 2024.5,1287.9 2024.8,1275.2 2025.2,1284.2 2025.9,1280.3 2027.6,1287.5 2028,1282 2028.3,1290.9 2029,1293.4 2030.8,1283.1 2031.1,1287.5 2031.5,1287.4 2033.2,1283.1 2033.6,1295.4 2034.3,1292.7 2034.6,1284.3 2036.4,1283.3 2037.4,1295.6 2037.8,1290.1 2038.5,1293.4 2040.2,1285.7 2040.6,1287.8 2040.9,1298.7 2043,1281.8 2043.7,1296.7 2044.1,1288.9 2045.1,1287.4 2045.8,1300.2 2046.5,1294.8 2046.9,1289.1 2049,1302.6 2049.7,1285.6 2050,1295.3 2050.7,1287.4 2052.8,1302.9 2053.2,1287.3 2056,1296.6 2056.3,1297 2056.7,1291.2 2058.8,1305.2 2059.1,1294.7 2059.5,1290.5 2060.5,1298.7 2060.9,1285.5 2062.3,1294.4 2062.6,1297.2 2063,1289 2065.4,1297 2065.8,1290.3 2066.5,1303.5 2068.2,1289.1 2068.6,1294.6 2068.9,1286.1 2071.4,1300.2 2071.7,1296.9 2072.1,1296.9 2073.8,1299.3 2074.5,1291.1 2074.9,1291.8 2075.2,1294.7 2076.3,1302.5 2077.7,1290.1 2078,1298.3 2078.4,1297.1 2079.8,1284.7 2081.2,1290.8 2081.5,1295.3 2082.2,1302.3 2084.3,1289.7 2084.7,1294.7 2085,1299.4 2087.1,1287.3 2087.5,1295.8 2087.8,1295.4 2088.9,1285.4 2090.3,1300.6 2090.6,1296.2 2091.3,1288.2 2093.1,1299.8 2093.4,1292.4 2093.8,1297 2094.1,1287.6 2094.8,1298.3 2096.6,1289.1 2096.9,1295 2098,1293.9 2098.3,1302 2099.7,1301.6 2100.1,1301.5 2102.5,1302.8 2102.9,1290.8 2103.2,1295.3 2103.6,1291.2 2104.6,1301 2106,1296.4 2106.4,1296.8 2107.8,1297.4 2108.1,1289.8 2109.2,1295.3 2109.5,1292.8 2110.6,1290.8 2111.6,1301.5 2112.3,1297.5 2112.7,1295.5 2113.7,1297.8 2114.8,1289.4 2115.5,1294.3 2115.8,1291.2 2116.5,1290.1 2118.3,1300.7 2118.6,1293.5 2119,1292.8 2120.7,1300.4 2121.8,1288.9 2122.1,1296.9 2123.2,1303.3 2124.9,1290.5 2125.3,1292.3 2126,1289.4 2126.7,1300.8 2128.1,1296 2128.4,1299.3 2129.1,1292.5 2131.2,1300.3 2131.6,1295.2 2132.6,1292.1 2133.3,1301.9 2134,1301.7 2134.4,1295.1 2135.4,1293.9 2136.5,1299.3 2137.2,1295.3 2137.5,1293.2 2137.9,1307.5 2138.9,1291.5 2140.3,1291.9 2140.7,1296 2141,1293.3 2143.5,1301.8 2143.8,1294.8 2144.2,1288.9 2146.3,1302.6 2146.6,1296.5 2147,1294.8 2147.7,1291.9 2148,1307.5 2149.8,1292.3 2150.1,1288.7 2151.2,1305.3 2152.9,1293.2 2153.3,1296.7 2154,1293.7 2154.3,1300.7 2156.1,1298 2156.4,1299 2158.5,1302.5 2159.2,1292 2159.6,1297 2160.6,1306.1 2161,1289 2162.4,1293.2 2162.7,1301.9 2165.5,1293.2 2165.9,1297.6 2167.3,1290.4 2168,1301.3 2168.7,1291.3 2169,1294.2 2169.7,1291.4 2171.8,1303 2172.2,1298.2 2174.3,1300.2 2174.6,1286 2175,1295.9 2175.3,1297.9 2177.1,1307.4 2177.8,1293.1 2178.1,1292.5 2178.5,1291.7 2180.2,1302.9 2180.9,1300.5 2181.3,1293.8 2182,1291.3 2183.7,1304.4 2184.1,1295.7 2184.4,1290.4 2187.2,1300.4 2187.6,1294.5 2187.9,1303.7 2188.3,1293.9 2190.4,1300.9 2190.7,1297.8 2192.5,1295.5 2192.8,1306.2 2193.5,1298.2 2193.9,1295.3 2195.3,1291.5 2196.3,1302.6 2196.7,1299 2197,1302.6 2197.4,1305.4 2199.1,1292.2 2199.8,1301.6 2200.2,1297.9 2201.9,1290.1 2202.3,1300.2 2203,1295.4 2203.3,1290.4 2204,1303.7 2206.1,1296.7 2206.5,1292.4 2207.2,1290.8 2209.3,1304.9 2209.6,1297.2 2210.7,1306.4 2212.1,1293.4 2212.4,1298.1 2212.8,1293.4 2213.8,1300.8 2215.2,1285.8 2215.6,1294.7 2215.9,1294.5 2216.6,1302.2 2217.3,1288.3 2218.7,1294.9 2219.1,1287.6 2220.1,1287 2221.2,1299.3 2221.5,1294.5 2221.9,1292.5 2223.6,1285.9 2224,1305.8 2224.7,1295 2225,1304.5 2225.4,1290.3 2227.8,1299.9 2228.2,1296.5 2228.5,1288.1 2230.3,1303.5 2231,1288.1 2231.3,1295 2232,1301.8 2234.1,1288.9 2234.5,1290.5 2235.9,1286.1 2236.2,1300 2237.3,1296.6 2237.6,1296 2239.7,1300.9 2240.1,1286.6 2240.4,1294.7 2240.8,1293.1 2241.1,1286.5 2241.8,1296.7 2243.6,1293.1 2243.9,1295.2 2245.3,1304.6 2246.7,1293.7 2247.1,1292.7 2247.8,1285.4 2248.5,1302.3 2249.9,1295.1 2250.2,1290.1 2251.3,1298.5 2253,1289.2 2253.4,1300.6 2256.2,1292.8 2256.5,1299.1 2259,1283.2 2259.3,1286.1 2259.7,1294.7 2261.1,1296.9 2261.8,1289.1 2262.5,1292.3 2262.8,1288.6 2263.5,1304.5 2264.6,1285.4 2265.3,1292.6 2265.6,1294.5 2267,1297.8 2268.1,1285.8 2268.4,1289.8 2268.8,1287.5 2269.8,1299.4 2271.6,1288.7 2271.9,1299.7 2272.6,1285.6 2274.7,1301.9 2275.1,1290.4 2276.5,1282.1 2277.2,1296.5 2277.9,1292.5 2278.2,1289.3 2278.9,1301 2279.3,1288.9 2281,1295.8 2281.4,1297.2 2282.8,1291.5 2283.5,1302.5 2284.2,1296.4 2284.5,1299 2285.2,1303.1 2287.3,1286.9 2287.7,1292.4 2289.4,1288.8 2290.5,1298.1 2290.8,1293.2 2291.2,1294.3 2291.5,1287.2 2293.6,1288.8 2294,1294.1 2294.7,1297.8 2296.1,1288.3 2296.8,1290.2 2297.1,1296.1 2298.2,1285.6 2299.6,1300.3 2299.9,1293 2300.3,1288.5 2301.7,1281.6 2302,1301.8 2303.1,1294.3 2303.4,1288.3 2303.8,1296.8 2305.2,1288.3 2306.2,1293.6 2306.6,1292.2 2308.7,1303 2309,1286.7 2309.4,1294 2310.1,1298.3 2310.8,1286.3 2312.2,1290.3 2312.5,1290.7 2315,1299.3 2315.3,1285.9 2315.7,1296.5 2316.4,1299.4 2317.1,1287.7 2318.5,1295.2 2318.8,1290.8 2320.9,1290.4 2321.6,1303.8 2322,1294.4 2323.4,1288.4 2323.7,1295.1 2324.8,1295.1 2325.1,1292.4 2327.6,1298.4 2327.9,1292.7 2328.3,1298.3 2329.3,1289.1 2331.1,1293.7 2331.4,1289.5 2331.8,1288.5 2333.2,1301.3 2334.2,1295.5 2334.6,1293.6 2335.3,1282.6 2337,1297.1 2337.4,1296.9 2337.7,1294 2339.1,1302.1 2339.5,1289.6 2340.5,1291.4 2340.9,1302.6 2343,1286.5 2343.7,1296.5 2344,1293.1 2344.4,1293.8 2345.8,1288.6 2346.8,1292.2 2347.2,1296.3 2347.9,1297.7 2349.6,1288.4 2350,1296.2 2350.3,1287.7 2351.4,1286.4 2352.8,1295.6 2353.1,1284.2 2355.9,1302 2356.3,1301.7 2358.7,1283.6 2359.1,1298.4 2359.4,1289.7 2361.5,1301.5 2361.9,1289.2 2362.2,1290.7 2362.6,1288.7 2364,1297.5 2364.7,1297.4"/>
<polyline class="c" stroke="#FF7F27" points="352.4,1286.6 352.8,1295.2 353.1,1292.7 353.5,1292.6 353.8,1299.9 354.9,1276 355.9,1286.5 356.3,1290.7 356.6,1271.2 357.7,1301.1 359.1,1291.7 359.4,1292.1 361.9,1280.8 362.2,1292.9 362.6,1273.7 362.9,1293.4 365.4,1282.6 365.7,1287.7 366.1,1301.8 366.8,1282.5 368.5,1284.4 368.9,1271.9 371.7,1301.4 372,1297 373.1,1306.8 374.8,1276.2 375.2,1281.7 376.6,1273.9 378,1294.9 378.3,1299.5 379.7,1280.3 381.1,1294.9 381.5,1296.6 382.2,1276.1 383.9,1300.2 384.3,1287.2 384.6,1288.9 386,1299.2 387.4,1273.6 387.8,1286.2 388.5,1285.8 389.9,1300.2 390.6,1289.9 390.9,1296.5 391.3,1309.1 392.3,1279.6 393.7,1292.2 394.1,1284.3 395.5,1281.1 396.5,1314.5 396.9,1288.3 397.2,1289.1 397.9,1280 398.6,1307.1 399.7,1283.5 400,1298.7 402.5,1299.5 402.8,1277.3 403.2,1284.1 404.9,1303.6 406,1301.9 406.3,1298.5 406.7,1286 407.4,1306 409.1,1287.6 409.5,1296.7 410.5,1284.3 411.6,1304 412.3,1303.2 412.6,1305.5 414.4,1277.5 415.1,1314 415.4,1288 415.8,1278.9 416.5,1309.7 418.6,1304.2 418.9,1297.1 421,1292.8 421.4,1307.7 421.7,1297 422.1,1293.4 422.4,1284.9 423.1,1311.1 424.9,1303.9 425.2,1292.8 427.7,1310.3 428,1304.1 428.4,1293.7 429.8,1315.1 430.8,1293 431.2,1298 431.5,1295.8 432.9,1316.5 433.3,1290.1 434.3,1305.9 434.7,1299.2 435.7,1308 436.1,1282.8 437.5,1287.4 437.8,1300.3 438.9,1313.9 439.6,1287.1 440.6,1308.7 441,1317 441.7,1320 443.4,1293.1 443.8,1313.4 445.2,1289.8 446.2,1319.5 446.6,1298.2 446.9,1298.7 448,1295.3 448.7,1327.8 449.7,1303.2 450.1,1306.9 452.5,1295.3 452.9,1324.2 453.2,1304 453.6,1316.1 455,1297 456,1315.3 456.4,1312.7 457.8,1293 458.5,1321.9 459.2,1315.9 459.5,1307.8 460.2,1326.4 462,1292 462.3,1311.1 462.7,1297.7 463,1292.5 463.4,1320.8 465.5,1312.6 465.8,1312 466.5,1291.6 467.9,1321.6 468.6,1318.6 469,1318.6 470.4,1294.2 471.8,1299.6 472.1,1309.6 472.5,1325.2 473.5,1306.6 474.9,1310.8 475.3,1318.7 476,1294 478.1,1327.9 478.4,1291 478.8,1327.7 481.2,1317.2 481.6,1314.5 481.9,1323.8 484.4,1305.3 484.7,1314.3 485.8,1303.9 487.2,1329.6 487.5,1312.4 489.3,1302.6 490.3,1327.3 490.7,1309.4 493.5,1338.1 493.8,1323.3 495.9,1309 496.3,1329.7 496.6,1311.3 497,1322.2 497.3,1309.8 498,1333.7 499.8,1324.1 500.1,1315.6 501.5,1311.1 501.9,1329 502.9,1325.9 503.3,1313.4 506.1,1340.9 506.4,1319.2 507.1,1329.1 508.5,1304.7 509.2,1314.4 509.6,1309.8 510.6,1329.8 512.4,1326.1 512.7,1327.5 513.1,1332 515.5,1314.2 515.9,1323.9 516.2,1331 517.3,1315.9 518.7,1328.7 519,1325.6 519.4,1341 520.4,1320.8 521.8,1330.8 522.2,1323.8 523.6,1337.3 525,1311.9 525.3,1333.3 527.4,1322.5 527.8,1338.7 528.1,1330.2 528.5,1331 529.2,1325.3 530.2,1342.8 530.9,1331.7 531.3,1325.1 532.3,1339.7 534.1,1313.5 534.4,1335.9 534.8,1345.8 536.9,1321.3 537.2,1326 537.6,1338.3 538.3,1318.7 538.6,1339.6 540.4,1320.7 540.7,1314.3 542.1,1307.3 543.5,1349.3 543.9,1338.9 546,1318.4 546.7,1342.1 547,1325.4 547.7,1306.2 548.8,1336.9 549.8,1314 550.2,1329 551.9,1330.1 552.6,1314 553,1323.1 553.3,1319.1 553.7,1335.5 554.4,1312.5 556.1,1314.1 556.5,1321.9 557.9,1323.5 558.2,1308.8 559.3,1320.6 559.6,1325.3 561,1333.3 562.1,1307.9 562.4,1324.8 562.8,1330.7 565.6,1312.2 565.9,1322 567.3,1336 567.7,1307.5 568.7,1319.9 569.1,1322 569.8,1330.2 570.8,1303 571.9,1304.8 572.2,1311.2 573.6,1297.4 574.3,1333.2 574.7,1313.6 575,1320.8 576.8,1309.7 577.5,1338.7 577.8,1319 578.2,1330.9 580.6,1299.7 581,1329.7 581.3,1321.7 582.7,1307.8 583.4,1322.9 584.1,1314.8 584.5,1310.7 584.8,1326.3 586.2,1302.2 587.3,1322.6 587.6,1329 590.4,1297.8 590.8,1308.8 591.5,1319.2 592.9,1307.7 593.6,1311.3 593.9,1307.1 594.3,1322.6 596.7,1316.3 597.1,1298.8 599.9,1327.6 600.2,1304.9 602.3,1300.4 602.7,1329.6 603,1310.2 603.4,1310.6 603.7,1305.6 605.5,1327.8 606.2,1311.9 606.5,1306.4 607.6,1311.8 609,1300.4 609.3,1310.6 609.7,1329.3 610.4,1295.1 612.5,1301.6 612.8,1294.8 613.5,1312.9 614.2,1294.3 615.6,1306.5 616,1326.1 617.7,1292.8 618.4,1305.2 618.8,1292.9 619.8,1314.5 620.2,1292.2 621.6,1294.2 621.9,1297 622.3,1319.7 623,1290.5 624.7,1310.4 625.1,1297.2 626.8,1307.6 627.2,1286.9 627.9,1299.4 628.2,1306 628.9,1307.3 631,1289.3 631.4,1302.7 633.5,1276.4 634.2,1282.2 634.5,1269.1 634.9,1297.2 635.6,1258.9 637.3,1270.4 637.7,1263.2 638,1269.8 638.7,1254.3 640.5,1258.1 640.8,1258.3 641.9,1241.2 642.6,1274 643.6,1262 644,1251.8 645.4,1282.2 646.8,1258.8 647.1,1237.5 647.8,1270.9 649.9,1265.1 650.3,1272.4 653.1,1238.3 653.4,1243.2 653.8,1280.3 656.2,1264.2 656.6,1277.8 656.9,1286.6 658,1252.1 659.4,1260.1 659.7,1269.9 660.8,1245.1 662.2,1287 662.5,1265.3 663.9,1253.6 665,1276.6 665.3,1256.4 665.7,1262.4 666,1245.2 668.1,1267 668.5,1246.1 668.8,1259 669.9,1247.2 670.6,1278.2 671.6,1257.7 672,1273.5 672.3,1245.6 673.4,1279.5 674.8,1256.4 675.1,1274.3 676.5,1255.2 676.9,1283.6 677.9,1268.7 678.3,1242.2 678.6,1240.2 679.7,1272.6 681.1,1254.2 681.4,1251.2 682.8,1267 684.2,1247.8 684.6,1249.8 685.6,1245.4 687.4,1271.2 687.7,1260.3 689.5,1279.7 690.5,1245.1 690.9,1246 692.3,1239.2 693.7,1278.4 694,1260.3 695.1,1246.4 696.1,1282.8 696.8,1263.6 697.2,1257.9 697.9,1240.4 698.6,1268.8 700,1268.8 700.3,1268.8 700.7,1230.9 701.7,1278.1 702.8,1276 703.1,1265.4 704.9,1271.6 705.2,1251.8 705.9,1271.4 706.3,1274.6 708.4,1262.2 709.1,1293.5 709.4,1257 710.1,1251.9 712.2,1286.5 712.6,1282.3 714.3,1251.5 715.4,1269.6 715.7,1268.3 716.4,1251.7 717.5,1279.8 718.5,1270.2 718.9,1263.1 719.6,1288.5 721,1252.2 721.7,1283.9 722,1264.8 722.7,1240 723.1,1280 724.8,1259.9 725.2,1263 727.3,1258 727.6,1293.5 728,1274.7 728.3,1261.1 729.7,1294 730.1,1257.3 731.1,1282.3 731.5,1291.3 733.2,1252.3 734.3,1269.2 734.6,1279.8 735,1305.4 735.7,1271.7 737.4,1278.2 737.8,1285.8 739.2,1261.7 740.6,1276.1 740.9,1272.9 741.3,1301.1 742.3,1266.7 743.7,1268.7 744.1,1291.2 745.1,1261.6 746.5,1285.7 746.9,1293 748.6,1271.1 749.7,1271.3 750,1279 750.7,1256.2 752.8,1303.2 753.2,1267.2 754.9,1290.9 755.3,1262.7 756,1279.2 756.3,1275.4 757.4,1300 759.1,1279.3 759.5,1291.8 760.9,1263.4 762.3,1287.3 762.6,1280.8 763,1265.6 764.7,1309.3 765.4,1277.3 765.8,1270.9 766.1,1297.9 768.6,1290.2 768.9,1288.6 770.7,1268.5 771,1294.2 771.7,1291.7 772.1,1277.8 774.9,1297.4 775.2,1307.6 778,1285.4 778.4,1302.8 779.4,1273.1 779.8,1308.7 781.2,1286.6 781.5,1277.8 783.3,1308.2 784.3,1297.2 784.7,1288.2 786.8,1304.3 787.5,1282.4 787.8,1307.7 788.9,1285.8 790.3,1314.4 790.6,1296.8 791,1305.9 793.1,1287.8 793.4,1300.9 793.8,1308.2 795.9,1289.8 796.6,1296.9 796.9,1287.7 797.3,1312.8 799.7,1298.7 800.1,1303.7 800.4,1293.7 802.5,1313.7 802.9,1298.5 803.2,1296.1 804.3,1291 805,1314.1 806,1310.9 806.4,1294.6 806.7,1320.8 809.2,1303.6 809.5,1292 812,1318.2 812.3,1303.3 812.7,1308.3 814.4,1318.4 814.8,1297.3 815.5,1299.7 815.8,1299.7 816.2,1294.7 817.6,1323.3 818.6,1312 819,1311.5 819.7,1296.9 820.4,1315.6 821.8,1311 822.1,1324.4 823.2,1325.4 823.5,1304 824.9,1311.2 825.3,1311.5 827,1316.3 827.7,1306.6 828.1,1310.7 828.4,1309.7 829.1,1323.8 829.8,1294.9 831.2,1311.1 831.6,1327 833,1287 834,1308.5 834.4,1305.2 835.4,1320.8 836.5,1294.9 837.2,1311.6 837.5,1311.6 837.9,1295.1 838.6,1325.3 840.3,1321.6 840.7,1320.1 841.7,1305.6 842.4,1332.3 843.5,1326.7 843.8,1315.2 844.5,1298.1 846.3,1325.4 846.6,1316.2 847,1328.2 849.8,1312.2 850.1,1322.7 852.2,1333.9 852.6,1318.8 852.9,1320 853.3,1329.5 854,1309.8 854.3,1338.9 856.1,1323.5 856.4,1317.1 857.5,1325.7 857.8,1316.7 859.2,1318.9 859.6,1321 859.9,1338 860.3,1313.7 862.4,1317.8 862.7,1326.8 865.2,1320.4 865.5,1337.3 865.9,1333.5 867.3,1306.9 868,1342.6 868.7,1325.4 869,1334.1 870.1,1323.8 870.8,1340.9 871.8,1324.6 872.2,1333.6 872.9,1320 874.3,1337.8 875,1328.1 875.3,1335.7 875.7,1324.3 877.4,1343.8 877.8,1338.9 878.1,1330.6 879.5,1317.8 879.9,1351 880.9,1337.6 881.3,1322.3 883.4,1342.4 884.1,1329.7 884.4,1327.5 884.8,1320.7 885.8,1345.4 887.2,1331.4 887.6,1323.4 890.4,1346.7 890.7,1343.6 891.4,1348.7 893.2,1316.7 893.5,1346.1 893.9,1338.1 894.6,1326.6 895.6,1345.7 896.7,1332.5 897,1325.2 898.1,1348.8 899.8,1339.7 900.2,1355.4 902.3,1331.7 903,1339.4 903.3,1336.4 905.1,1351.8 905.4,1334.8 906.1,1344 906.5,1329.7 906.8,1351.1 907.9,1326.9 909.3,1327 909.6,1335.4 911.7,1352.3 912.4,1350 912.8,1331.4 913.1,1331 913.5,1352.4 915.6,1347.2 915.9,1355.1 917.7,1357.6 918.4,1325.6 918.7,1344.6 919.1,1345.6 920.1,1336.1 920.8,1358 921.5,1354 921.9,1348.5 922.6,1338.9 924.3,1353.3 924.7,1341.5 925,1343.7 925.4,1329.3 926.1,1363.2 927.8,1342.3 928.2,1343.9 929.2,1337.6 930.6,1362.9 931,1347.2 931.3,1346.1 932.4,1335.7 933.1,1363.2 934.1,1341.2 934.5,1353.5 935.9,1362.1 936.6,1334.7 937.3,1354.5 937.6,1353.8 939.7,1339.4 940.1,1361.4 940.4,1343.8 940.8,1359.3 941.5,1342 943.6,1343.6 943.9,1342.3 945,1336.7 946.7,1356.5 947.1,1353.6 948.5,1363 949.5,1348.7 949.9,1356.7 950.2,1350.4 952.7,1345 953,1362.8 953.4,1356.9 953.7,1343.2 954.1,1361.1 956.2,1358.6 956.5,1359.1 956.9,1335.3 959.3,1339 959.7,1347.3 962.1,1361 962.5,1354.6 962.8,1355.3 964.2,1359.6 965.3,1338.8 965.6,1357.7 966.3,1344.1 967,1365.3 968.4,1349.6 968.8,1354.3 969.1,1347.5 971.2,1366 971.6,1359.3 971.9,1360.2 972.3,1352.4 973,1371.7 974.7,1363.8 975.1,1342.2 977.9,1368.3 978.2,1356.9 979.3,1349.3 980,1364.1 981,1352.7 981.4,1368.3 982.1,1370.2 983.1,1348.4 984.2,1358.9 984.5,1366.7 985.9,1350.6 987.3,1354.3 987.7,1370.3 988,1373.2 988.4,1345 990.5,1362 990.8,1353.6 991.2,1349.7 992.6,1370 993.6,1353.6 994,1363.8 994.7,1349.3 996.4,1366.6 996.8,1365 997.1,1375 998.2,1347.6 999.9,1355.6 1000.3,1363.7 1001.7,1375.6 1002.4,1350.2 1003.1,1371.9 1003.4,1360.3 1004.8,1347.7 1005.2,1378.4 1006.2,1354.7 1006.6,1365 1008.7,1371.5 1009,1351.3 1009.4,1355.9 1009.7,1353.8 1012.2,1371.2 1012.5,1359.6 1014.3,1348.4 1015,1369.2 1015.3,1357.5 1015.7,1372.3 1016,1373.4 1017.4,1352.7 1018.5,1364.2 1018.8,1366.5 1019.9,1354.6 1021.3,1375.9 1021.6,1365.1 1022,1366.7 1023.8,1348.7 1024.5,1378.5 1024.8,1378.1 1025.2,1363.6 1026.9,1353.1 1027.3,1364 1028,1356.5 1028.3,1356.1 1029.7,1368.8 1030.1,1353.2 1031.1,1367.3 1031.5,1370.9 1031.8,1362.5 1032.5,1380.7 1034.3,1364.1 1034.6,1367.2 1035,1379.2 1035.7,1360.2 1037.4,1370 1037.8,1366.6 1038.1,1376.1 1039.9,1355.8 1040.6,1373.2 1040.9,1361.9 1042.7,1372.8 1043.4,1355.3 1043.7,1358.7 1044.1,1360.8 1046.2,1356.4 1046.9,1370.7 1047.2,1367.9 1049.3,1369.7 1049.7,1357.3 1050,1362.7 1051.4,1373.4 1052.1,1350.8 1052.8,1368.3 1053.2,1348.8 1054.9,1368.3 1055.3,1346.2 1056,1355 1056.3,1354.8 1058.4,1368.9 1059.1,1364.5 1059.5,1355.7 1061.2,1369.6 1061.9,1353.9 1062.3,1356.2 1062.6,1362.6 1063,1364.1 1064.4,1355 1065.4,1360.5 1065.8,1359.3 1067.9,1353.8 1068.2,1368.3 1068.6,1359.4 1068.9,1350.9 1069.3,1363.7 1071.4,1348.8 1071.7,1358.2 1072.1,1357.7 1073.5,1348.7 1074.5,1366.4 1074.9,1363 1075.2,1348.4 1076.3,1365.2 1078,1357 1078.4,1359.9 1080.5,1373.2 1080.8,1351.4 1081.2,1360 1081.5,1359.1 1081.9,1351.8 1083.6,1362.4 1084.3,1355.5 1084.7,1357.9 1086.4,1367.3 1086.8,1348.7 1087.5,1353.4 1087.8,1353.3 1090.6,1365.1 1091,1359.1 1091.7,1369.5 1092.4,1353.7 1093.4,1363.1 1093.8,1352.6 1094.8,1363.7 1095.2,1351.5 1096.6,1363 1096.9,1367.3 1098.3,1369.7 1099.4,1346.8 1099.7,1362.4 1100.1,1366.7 1101.1,1373.6 1102.9,1354.2 1103.2,1375.5 1105.7,1349.4 1106,1367.1 1106.4,1358.9 1108.5,1367.3 1109.2,1361.8 1109.5,1364.2 1109.9,1373.2 1110.6,1363 1112.3,1368.2 1112.7,1363.4 1114.1,1369.8 1115.1,1359.1 1115.5,1367.1 1115.8,1364 1117.2,1358.6 1118.3,1373.7 1118.6,1367.3 1119,1375.4 1121.4,1357.5 1121.8,1377.4 1122.1,1370 1122.8,1381.3 1123.5,1364 1124.9,1371.7 1125.3,1369.7 1126.3,1361.6 1128.1,1381.6 1128.4,1368.6 1129.1,1364.2 1131.2,1379.9 1131.6,1368.3 1133.3,1373.8 1134.4,1365.7 1134.7,1365.7 1135.1,1362.1 1135.4,1374.7 1137.2,1369.2 1137.5,1374 1139.3,1363.7 1139.6,1383.7 1140.3,1375.7 1140.7,1375.5 1142.4,1363.5 1143.1,1380 1143.5,1373.2 1143.8,1374.4 1144.5,1383.9 1146.3,1363.2 1146.6,1370.4 1147,1365.6 1147.3,1378.7 1148,1355.9 1149.8,1367.9 1150.1,1366.2 1151.5,1376.1 1151.9,1364.1 1152.9,1368.6 1153.3,1368.2 1153.6,1364.5 1155,1383.1 1156.1,1368.5 1156.4,1377.8 1157.1,1383.6 1159.2,1365.1 1159.6,1363.6 1162.4,1381.5 1162.7,1370.7 1163.1,1363.4 1164.8,1381.8 1165.5,1372.7 1165.9,1370.3 1166.9,1362 1168.7,1381.4 1169,1381.6 1169.4,1381.8 1169.7,1368.3 1171.8,1368.7 1172.2,1370.1 1173.2,1368.2 1174.3,1381.1 1175,1374.9 1175.3,1360.2 1177.8,1381.3 1178.1,1368.2 1178.5,1373.5 1179.5,1368.7 1180.6,1383.6 1180.9,1371.2 1181.3,1361.6 1181.6,1380.4 1184.1,1368 1184.4,1378.4 1185.1,1381.5 1185.8,1360.9 1187.2,1368.1 1187.6,1387.8 1188.6,1359.9 1190.4,1371.1 1190.7,1377.4 1191.8,1369 1192.1,1378.6 1193.5,1372.6 1193.9,1371.4 1194.9,1367.9 1195.6,1384.2 1196.7,1382.4 1197,1365.3 1197.7,1381.8 1199.8,1377 1200.2,1385.2 1201.6,1364.6 1203,1385.8 1203.3,1386.2 1206.1,1367.9 1206.5,1372.1 1207.9,1365.5 1208.9,1383.8 1209.3,1371.9 1209.6,1380.8 1210,1385.2 1212.4,1366.2 1212.8,1380.2 1213.1,1364.5 1215.6,1382.9 1215.9,1384.3 1217.3,1369 1218.7,1377.5 1219.1,1369.7 1221.5,1386.8 1221.9,1382.4 1222.2,1369.2 1222.9,1379.4 1224.7,1377.1 1225,1373.1 1226.1,1366 1226.4,1383.6 1227.8,1382.5 1228.2,1375.2 1229.2,1385.3 1230.3,1370.7 1231,1376.6 1231.3,1375.8 1232.7,1368.5 1233.8,1385.2 1234.1,1378 1234.5,1381.3 1234.8,1374.8 1235.2,1383.5 1237.3,1380.7 1237.6,1375.4 1239.4,1372.7 1240.1,1382.8 1240.4,1378.1 1240.8,1379.3 1241.5,1385.5 1243.6,1365.3 1243.9,1375.4 1244.3,1362.7 1246.7,1384.8 1247.1,1386.9 1248.1,1388.9 1249.9,1368 1250.2,1369.4 1251.3,1382.6 1253,1371.3 1253.4,1366.3 1254.4,1384.8 1256.2,1363.7 1256.5,1378.9 1257.6,1384.5 1258.6,1366.3 1259.3,1381.1 1259.7,1372.3 1260.7,1389.6 1262.1,1371.3 1262.5,1372.6 1262.8,1379.9 1263.5,1385.6 1263.9,1369.9 1265.6,1371.6 1266,1373.7 1268.4,1388.1 1268.8,1370.3 1271.2,1393.1 1271.6,1379.7 1271.9,1391.3 1273.3,1368.4 1274.7,1377.2 1275.1,1385 1277.5,1372.5 1277.9,1393.1 1278.2,1374.7 1278.6,1370.6 1280.7,1389.9 1281,1379.3 1281.4,1383.1 1282.8,1387.5 1284.2,1363.5 1284.5,1383.6 1285.2,1388.7 1286.6,1372.1 1287.3,1374.9 1287.7,1378.7 1288.4,1370.3 1289.8,1388.6 1290.5,1377.7 1290.8,1386.1 1291.5,1369.8 1293.6,1377 1294,1379.8 1294.7,1387.8 1296.4,1371.9 1296.8,1373 1297.1,1378.9 1298.9,1390.7 1299.2,1368.7 1299.9,1378.8 1300.3,1380.3 1301.7,1373.7 1303.1,1382.6 1303.4,1373.5 1304.1,1372.6 1305.2,1382.7 1306.2,1378.1 1306.6,1377.2 1308,1371.5 1309,1387.1 1309.4,1375.9 1309.7,1380.6 1311.1,1388.3 1311.8,1376.3 1312.2,1387.2 1312.5,1381.5 1313.6,1384.3 1314.3,1367.2 1315.3,1373.5 1315.7,1385.9 1316.7,1387.7 1317.1,1377.8 1318.5,1383 1318.8,1377.2 1320.2,1375.7 1321.6,1387.7 1322,1379.4 1323,1391.9 1324.1,1372 1324.8,1380.4 1325.1,1373.3 1325.5,1373.1 1327.9,1389.3 1328.3,1382.4 1329.7,1369.3 1330.4,1384.5 1331.1,1374.6 1331.4,1390.8 1334.2,1370.8 1334.6,1382.2 1336,1373.9 1336.3,1387.1 1337.4,1383.1 1337.7,1381.6 1339.5,1366.7 1340.2,1384.3 1340.5,1374.1 1340.9,1390.3 1341.9,1368.3 1343.7,1372.9 1344,1383.1 1346.5,1370.2 1346.8,1385.4 1347.2,1386.6 1347.9,1389.2 1348.6,1368.7 1350,1381.7 1350.3,1376.7 1350.7,1383 1353.1,1373.6 1353.5,1381.6 1354.9,1391.9 1355.9,1375.6 1356.3,1369.7 1359.1,1388 1359.4,1382.8 1361.2,1386.9 1361.9,1369.3 1362.2,1383.7 1362.6,1376.7 1363.6,1385.7 1364.7,1374.7 1365.4,1376.3 1365.7,1379.6 1366.1,1392 1368.5,1369.8 1368.9,1386.6 1369.9,1372.1 1370.3,1388 1371.7,1378.1 1372,1385 1372.4,1367.2 1374.8,1385 1375.2,1382.2 1376.6,1373.5 1377.3,1387.7 1378,1374.8 1378.3,1375.5 1380.4,1386.4 1381.1,1374.7 1381.5,1392.1 1382.2,1376.8 1384.3,1380 1384.6,1374.6 1387.1,1390.7 1387.4,1381.3 1387.8,1389.2 1389.5,1369.6 1390.6,1381 1390.9,1381.1 1392.3,1388.5 1393.7,1373.8 1394.1,1380.7 1395.1,1374.5 1396.2,1386.9 1396.5,1381.1 1396.9,1377.3 1397.9,1391.6 1398.3,1371.1 1399.7,1379.6 1400,1380.1 1401.4,1383.8 1402.1,1372.6 1402.8,1377.3 1403.2,1387.8 1404.6,1397.7 1406,1371.5 1406.3,1379.9 1406.7,1394.2 1407.4,1373.8 1409.1,1378.4 1409.5,1372.7 1410.5,1372.2 1411.6,1391 1412.3,1377.6 1412.6,1376.2 1413,1391.4 1414.4,1373.8 1415.4,1381.4 1415.8,1387.5 1416.5,1373.1 1417.5,1388.5 1418.6,1376.6 1418.9,1377.4 1419.3,1375.9 1421.4,1396.8 1421.7,1379.1 1422.1,1378.4 1423.5,1395 1424.5,1377.8 1424.9,1378.7 1425.2,1385.5 1427,1379.9 1427.3,1393.7 1428,1385.9 1428.4,1377.4 1428.7,1398.2 1430.1,1368.2 1431.2,1373.8 1431.5,1389.7 1432.2,1377.2 1433.3,1393.6 1434.3,1379.8 1434.7,1378.7 1435.4,1389.9 1436.4,1372 1437.5,1375.9 1437.8,1384.8 1438.5,1385.6 1439.2,1371.2 1440.3,1381.8 1440.6,1377 1442,1389.2 1443.4,1372.8 1443.8,1379.8 1445.2,1374.8 1446.6,1390.3 1446.9,1380.5 1447.3,1388.2 1448.3,1377.8 1449.7,1382.2 1450.1,1380.2 1450.4,1392.2 1450.8,1369 1452.9,1385.4 1453.2,1386.2 1453.9,1391.4 1454.3,1372.3 1456,1375.9 1456.4,1382.1 1458.1,1388.1 1459.2,1369.7 1459.5,1373.9 1461.6,1389.8 1462,1372.8 1462.3,1383.3 1462.7,1385.7 1463.4,1394.6 1464.1,1375.9 1465.5,1378.5 1465.8,1379.1 1467.6,1385.2 1468.6,1372 1469,1384.9 1470,1371.5 1471.8,1389.5 1472.1,1384.5 1472.8,1388 1473.2,1375.9 1474.9,1380.1 1475.3,1372.9 1475.6,1393.5 1478.1,1389.1 1478.4,1387.9 1478.8,1372 1481.2,1391.1 1481.6,1380.8 1482.6,1380.3 1483,1395.2 1484,1384.3 1484.4,1382.4 1485.1,1379.3 1485.8,1390.3 1487.2,1387 1487.5,1388.5 1487.9,1389.2 1488.9,1378.3 1490.3,1382.6 1490.7,1385.3 1492.8,1377.9 1493.5,1394.3 1493.8,1383.5 1494.2,1373.7 1495.9,1392.9 1496.6,1382.1 1497,1390 1499.4,1374.3 1499.8,1381.3 1500.1,1388.6 1501.5,1393.7 1501.9,1374.1 1502.9,1386.8 1503.3,1373.3 1505,1389.7 1505.7,1368.6 1506.1,1379.3 1506.4,1381.5 1507.1,1391.7 1508.9,1379.5 1509.2,1380.5 1509.6,1379.7 1510.6,1375.4 1511,1393.6 1512.4,1382.7 1512.7,1390.1 1513.4,1377.8 1514.5,1390.8 1515.5,1383.5 1515.9,1383.2 1516.9,1391.8 1517.3,1372.9 1518.7,1373.2 1519,1383.3 1519.4,1381.8 1519.7,1390.8 1521.8,1390 1522.2,1384.2 1522.9,1389.1 1524.3,1378 1525,1380 1525.3,1375.3 1527.4,1396.8 1527.8,1382.1 1528.1,1385.3 1529.9,1396.2 1530.9,1370.2 1531.3,1384 1531.6,1375.1 1533.4,1387.9 1534.1,1381.3 1534.4,1374.7 1537.2,1388.3 1537.6,1380.3 1537.9,1388.1 1539,1373 1540.4,1381.5 1540.7,1381.4 1541.4,1376 1543.2,1390.3 1543.5,1382.1 1543.9,1371.6 1546.3,1398.8 1546.7,1386.8 1547,1381.4 1547.7,1385.8 1548.1,1375.5 1549.8,1383 1550.2,1376.5 1551.2,1368 1551.9,1394.9 1553,1379.5 1553.3,1385.1 1554,1389.7 1555.4,1374.4 1556.1,1388.8 1556.5,1378.2 1559.3,1390.2 1559.6,1383.4 1562.1,1374.4 1562.4,1394.7 1562.8,1384.7 1565.2,1389.4 1565.6,1375.1 1565.9,1375.4 1566.6,1375 1568.4,1392.3 1568.7,1383.2 1569.1,1380.8 1569.4,1375.3 1571.2,1388.1 1571.5,1383.8 1571.9,1368.6 1572.2,1392.4 1574.7,1377.7 1575,1385.2 1576.1,1375.9 1577.1,1391 1577.8,1387.2 1578.2,1377.1 1578.5,1394.5 1580.6,1371.7 1581,1386 1581.3,1376.2 1583.4,1391.8 1584.1,1377.2 1584.5,1381.5 1585.2,1391.4 1585.9,1373.7 1587.3,1376.9 1587.6,1375.2 1589,1387.6 1590.4,1373.9 1590.8,1384.3 1591.5,1372.1 1593.2,1399 1593.6,1391.8 1593.9,1381.7 1594.3,1394.3 1595.3,1371.4 1596.7,1380.9 1597.1,1384.5 1597.4,1371.4 1598.5,1388.9 1599.9,1387.2 1600.2,1379.3 1600.9,1372.1 1603,1392.8 1603.4,1388.4 1604.8,1390 1605.8,1376.8 1606.2,1382.6 1606.5,1375.8 1608.3,1367.5 1609,1388.7 1609.3,1377.4 1609.7,1384.2 1610,1377.5 1612.1,1392.6 1612.5,1384.6 1612.8,1383.6 1614.2,1376.7 1614.6,1391.6 1615.3,1384.3 1615.6,1383 1616.3,1389.9 1617.4,1379.7 1618.4,1380.3 1618.8,1380.9 1619.1,1390.1 1621.6,1374.8 1621.9,1386.5 1623.7,1370.2 1624.4,1389.9 1624.7,1381.3 1625.1,1387.5 1626.5,1391.2 1626.8,1376.3 1627.9,1387.3 1628.2,1386.5 1628.6,1392.8 1630,1376.3 1631,1376.9 1631.4,1389.8 1632.8,1366.9 1634.2,1393.1 1634.5,1380.2 1636.3,1393.1 1637,1377.4 1637.3,1384.1 1637.7,1375 1639.8,1391.5 1640.5,1383.8 1640.8,1383.6 1641.9,1394.4 1642.6,1377.5 1643.6,1380.7 1644,1380.7 1644.3,1390.6 1646.4,1375.3 1646.8,1376.5 1647.1,1372.8 1649.2,1386.7 1649.9,1379.2 1650.3,1380 1650.6,1378.7 1651.7,1390.7 1653.1,1385.1 1653.4,1377.2 1654.8,1366.5 1655.2,1388.6 1656.2,1385.4 1656.6,1381.4 1657.3,1376.4 1658.7,1392.2 1659,1382.9 1659.4,1386.2 1661.5,1390.6 1662.2,1366.5 1662.5,1394.7 1662.9,1375.8 1665.3,1382.2 1665.7,1383.8 1668.1,1377.5 1668.5,1391.2 1668.8,1382.4 1670.6,1394.9 1671.6,1375.3 1672,1385.6 1672.7,1396.6 1673,1371.4 1674.8,1385.4 1675.1,1380.9 1676.2,1369.8 1677.6,1390.8 1677.9,1390.8 1678.3,1385.1 1679,1375.4 1681.1,1386.1 1681.4,1379.5 1681.8,1373.9 1682.1,1385.9 1684.2,1377.9 1684.6,1382 1686,1388.8 1686.3,1376.5 1687.4,1380.7 1687.7,1384.2 1688.4,1372 1689.8,1388.7 1690.5,1384.2 1690.9,1374.7 1691.2,1373.5 1691.9,1398 1693.7,1378.3 1694.1,1389.7 1694.4,1376.2 1696.9,1378 1697.2,1378.7 1697.6,1391.9 1698.6,1376.1 1699.7,1384.2 1700,1380.5 1701.4,1376.4 1702.8,1389 1703.2,1379.9 1704.6,1369.4 1704.9,1392.1 1706,1381.7 1706.3,1377 1706.7,1393.4 1709.1,1383.4 1709.5,1377.5 1710.9,1388.6 1711.6,1367 1712.3,1371.9 1712.6,1375.8 1714.4,1386.9 1715.4,1373.4 1715.8,1385.2 1717.5,1369.5 1718.6,1378.1 1718.9,1386.3 1721.4,1375.8 1721.7,1395.1 1722.1,1387 1723.5,1370.5 1724.5,1390 1724.9,1378.8 1725.2,1381.8 1726.6,1373.2 1728,1396.5 1728.4,1379.9 1729.4,1369.9 1730.5,1392.6 1731.2,1392.4 1731.5,1380.5 1732.2,1397.3 1733.6,1376.7 1734.3,1387.5 1734.7,1382.7 1736.4,1369.1 1737.1,1382.8 1737.5,1382.7 1737.8,1389.8 1740.6,1370.8 1741,1387.8 1741.3,1379 1742.4,1397.5 1743.4,1382 1743.8,1381 1744.8,1388.6 1745.2,1376.2 1746.6,1388.2 1746.9,1381.8 1747.3,1367.9 1749,1392.6 1749.7,1378 1750.1,1393.8 1750.4,1368.4 1752.9,1392.5 1753.2,1383.4 1754.6,1391 1755.7,1375.5 1756,1382.4 1756.4,1385.5 1757.8,1393 1759.2,1374.5 1759.5,1379.2 1760.9,1388.4 1762.3,1383.1 1762.7,1383.1 1764.1,1390.8 1765.5,1373.2 1765.8,1383.5 1766.2,1376.9 1767.2,1394.3 1768.6,1392.2 1769,1383.7 1769.7,1392.4 1770.7,1373.8 1771.8,1378.4 1772.1,1385.7 1772.8,1376.5 1774.6,1391.4 1774.9,1383.2 1775.3,1382.4 1776.3,1378.1 1776.7,1390.7 1778.1,1386.3 1778.4,1385.1 1779.1,1374.7 1779.8,1394.9 1781.2,1381.1 1781.6,1386.8 1782.3,1396.9 1783,1375.7 1784.4,1378.5 1784.7,1377.7 1785.1,1391.6 1787.2,1372.6 1787.5,1389.5 1788.2,1372.1 1790.3,1381.6 1790.7,1378.5 1791,1389.1 1793.1,1373.3 1793.5,1389.1 1793.8,1385.9 1795.6,1373.9 1796.6,1390.5 1797,1368.9 1797.7,1391.6 1799.8,1380.1 1800.1,1386.7 1800.8,1388.2 1802.2,1369.1 1802.9,1378.7 1803.3,1376.2 1804,1390.1 1805,1375.4 1806.1,1379.4 1806.4,1384.4 1808.2,1387.4 1808.5,1375.1 1809.2,1386.4 1809.6,1383.6 1809.9,1377.1 1811,1389.2 1812.4,1386.9 1812.7,1386.7 1813.8,1393.8 1815.2,1375 1815.5,1386.8 1815.9,1382.3 1816.9,1378.7 1818,1385.8 1818.7,1380.7 1819,1376.4 1821.8,1394.7 1822.2,1383.7 1822.9,1384.7 1825,1366.6 1825.3,1383.3 1827.1,1373.3 1828.1,1388.9 1828.5,1385.4 1829.2,1372.2 1830.9,1381 1831.3,1385.2 1832,1379.7 1832.7,1390.6 1834.1,1384.6 1834.4,1391.1 1836.2,1394.8 1836.5,1373.1 1837.2,1377.5 1837.6,1383.8 1838.3,1392.4 1839.7,1373.5 1840.4,1381.9 1840.7,1369 1843.5,1386.1 1843.9,1380.6 1844.2,1369.3 1845.3,1392.2 1846.7,1373.8 1847,1374.2 1847.7,1368.8 1848.4,1393.1 1849.8,1386.5 1850.2,1377.4 1850.9,1388.5 1851.2,1377.2 1853,1387.8 1853.3,1389.5 1854,1391.5 1856.1,1375.8 1856.5,1383.4 1857.5,1373.9 1858.2,1389.8 1859.3,1379.4 1859.6,1387.4 1860.7,1374.3 1862.1,1394 1862.4,1380.3 1862.8,1379.3 1864.5,1382.5 1865.2,1372.5 1865.6,1379.7 1865.9,1376.6 1867.3,1367.6 1868.7,1392.9 1869.1,1396 1870.8,1377 1871.2,1399.2 1871.9,1386 1872.2,1381.4 1872.6,1377.3 1874.3,1388.9 1874.7,1386.6 1875,1388.1 1875.4,1378.4 1875.7,1395.5 1877.8,1386.8 1878.2,1386.5 1878.5,1395.3 1879.6,1379.2 1881,1384.5 1881.3,1376.7 1881.7,1389.5 1883.8,1370.2 1884.1,1386.3 1884.5,1393.2 1886.2,1378.1 1886.6,1401.1 1887.3,1385.8 1887.6,1389.2 1888,1399.2 1888.3,1375.4 1890.4,1386.2 1890.8,1381.9 1891.1,1401.1 1891.8,1375.6 1893.6,1384.7 1893.9,1392 1894.6,1395.2 1895.3,1381.6 1896.7,1384.1 1897.1,1389.2 1899.2,1392.4 1899.9,1377.3 1900.2,1385.8 1900.9,1390.9 1902,1380 1903,1382.4 1903.4,1395.3 1903.7,1397.4 1904.8,1376.3 1906.2,1384 1906.5,1384.2 1909,1393.3 1909.3,1372.6 1909.7,1387.9 1912.1,1389.7 1912.5,1377.2 1912.8,1384.4 1914.6,1402.1 1915.6,1396.4 1916,1398.5 1918.4,1377.5 1918.8,1393.2 1919.5,1397.3 1921.6,1374.1 1921.9,1395.5 1922.6,1380.5 1924.7,1390 1925.1,1390.4 1927.2,1376 1927.9,1383.8 1928.2,1386.7 1929.3,1381.3 1930.3,1389.3 1931,1384 1931.4,1387.4 1933.5,1378.9 1934.2,1398.8 1934.5,1391.9 1935.6,1398.2 1937,1379.9 1937.3,1396.7 1937.7,1385.1 1939.4,1379.7 1940.1,1399 1940.5,1388.6 1940.8,1381.1 1941.2,1394.8 1943.6,1389.9 1944,1387 1945.4,1383.6 1946.1,1399 1946.8,1393.9 1947.1,1396.2 1949.9,1372.5 1950.3,1381.4 1950.6,1395.8 1952.7,1375.1 1953.1,1380.3 1953.4,1382.4 1955.2,1396.8 1956.2,1389.3 1956.6,1385.5 1957.3,1400.4 1958,1382.7 1959.4,1393 1959.7,1387.5 1960.1,1377.6 1961.1,1394.2 1962.2,1382.6 1962.5,1376.6 1964.3,1398.1 1965.3,1386.6 1965.7,1385.9 1966,1398.5 1966.7,1380.4 1968.5,1391.7 1968.8,1387.4 1969.9,1390.7 1971.3,1380.7 1971.6,1389.2 1972,1385.1 1972.3,1394.1 1974.8,1383 1975.1,1381 1975.5,1388.2 1976.2,1374.8 1977.9,1387.2 1978.3,1391 1980,1383.2 1980.4,1395.5 1981.1,1388.5 1981.4,1380.8 1982.1,1376.4 1983.9,1392.6 1984.2,1390.8 1984.6,1390.9 1985.3,1396.3 1986,1385.5 1987.4,1388.9 1987.7,1391 1988.1,1375.6 1988.8,1391.6 1990.5,1390.7 1990.9,1381.1 1991.2,1398.1 1993,1380.3 1993.7,1389.6 1994,1389.4 1995.4,1402.6 1996.1,1373.5 1996.8,1383.7 1997.2,1390.1 1997.5,1391.2 1997.9,1385.6 2000,1388.1 2000.3,1396.8 2002.8,1399.9 2003.1,1384.4 2003.5,1388.2 2004.2,1382.9 2005.6,1396.4 2005.9,1384.5 2006.3,1387.2 2007,1381.3 2008,1393.8 2009.1,1383.4 2009.4,1385.7 2011.2,1398.4 2012.2,1391.6 2012.6,1393.4 2015,1383.3 2015.4,1384.9 2015.7,1387.8 2017.5,1384.7 2018.5,1395.4 2018.9,1384.9 2019.6,1396.9 2021,1379 2021.7,1389.8 2022,1394.7 2022.4,1397.5 2024.8,1378.1 2025.2,1393 2025.5,1394.5 2026.9,1383.8 2028,1390.2 2028.3,1393.7 2029.4,1394 2029.7,1386.1 2031.1,1389.6 2031.5,1390.3 2032.9,1395.5 2033.6,1382.6 2034.3,1385.6 2034.6,1390.5 2035.3,1403 2036.7,1379.1 2037.4,1400.8 2037.8,1383 2038.5,1391.9 2040.6,1388.1 2040.9,1391.3 2041.6,1396.4 2043.7,1386.1 2044.1,1390.5 2044.4,1390.4 2045.5,1395.2 2046.5,1391.8 2046.9,1390.5 2049,1393.8 2049.7,1379.8 2050,1383.9 2051.8,1379.7 2052.1,1398.7 2052.8,1386.8 2053.2,1397.6 2055.3,1383.7 2056,1387.1 2056.3,1386.6 2058.1,1382.9 2058.8,1401.8 2059.1,1387.3 2059.5,1390 2060.9,1397.6 2061.6,1387.9 2062.3,1396.8 2062.6,1391.2 2063,1381.2 2064,1398.5 2065.4,1389.9 2065.8,1381.5 2066.8,1394.8 2068.6,1393.8 2068.9,1395.3 2070.3,1403.8 2070.7,1386.4 2071.7,1396.1 2072.1,1393.9 2072.8,1402.6 2074.9,1381 2075.2,1401 2076.3,1402.2 2078,1387.4 2078.4,1384.2 2078.7,1383 2080.5,1397.3 2081.2,1388.8 2081.5,1391.7 2082.9,1400.3 2083.6,1386.5 2084.3,1394.6 2084.7,1397 2086.1,1400.4 2087.1,1385.7 2087.5,1387.6 2087.8,1395.7 2089.2,1388.3 2090.3,1394.4 2090.6,1375.9 2091,1398.5 2093.4,1394.9 2093.8,1389.7 2094.8,1393.5 2096.2,1383.2 2096.6,1393.1 2096.9,1389.6 2098,1384.4 2099,1404.7 2099.7,1391.8 2100.1,1385.6 2102.9,1399.8 2103.2,1390.7 2105,1402.3 2105.7,1381.8 2106,1392 2106.4,1387 2106.7,1382.4 2107.4,1394.1 2109.2,1386.5 2109.5,1389.6 2110.9,1396.8 2112,1382.8 2112.3,1396.5 2112.7,1394.3 2115.5,1381.9 2115.8,1392 2118.3,1400.8 2118.6,1386.6 2119,1393.1 2120,1393.7 2121.4,1378.2 2121.8,1388.2 2122.1,1376.1 2122.8,1406.6 2124.9,1386.9 2125.3,1384.3 2126.3,1398.6 2127.7,1381.6 2128.1,1390.1 2128.4,1391.9 2130.2,1399.7 2130.5,1384.4 2131.2,1388.1 2131.6,1392.8 2131.9,1386.4 2134,1390.9 2134.4,1382 2135.8,1396.1 2137.2,1392.1 2137.5,1379.6 2140,1398.1 2140.3,1393 2140.7,1387.9 2142.4,1380.5 2142.8,1399.8 2143.5,1394.9 2143.8,1382.6 2146.6,1399.4 2147,1388.9 2148,1386.6 2148.7,1396.6 2149.8,1392.7 2150.1,1393 2150.8,1377.8 2151.9,1394.1 2152.9,1393.9 2153.3,1392.4 2153.6,1399.2 2156.1,1382.2 2156.4,1390.7 2157.8,1386.4 2158.9,1398.1 2159.2,1394.7 2159.6,1393.7 2160.3,1396.3 2161.3,1384.7 2162.4,1395.6 2162.7,1395.9 2165.2,1389.4 2165.5,1393.1 2165.9,1382.1 2168,1400.2 2168.3,1375.6 2168.7,1393.3 2169,1380.3 2169.7,1392.3 2171.8,1389.6 2172.2,1391 2173.2,1382 2175,1398.9 2175.3,1392.3 2175.7,1380.2 2176.4,1396.9 2177.8,1393.8 2178.1,1395.3 2179.9,1383.4 2180.6,1404.3 2180.9,1393.7 2181.3,1393.1 2182.3,1389.1 2183.7,1404.4 2184.1,1392.3 2184.4,1386.3 2184.8,1384.9 2187.2,1405.2 2187.6,1394.4 2189,1405.9 2190.4,1382.5 2190.7,1393.2 2191.8,1397.7 2193.2,1385.9 2193.5,1390.1 2193.9,1395.8 2194.2,1399.7 2194.9,1381.1 2196.7,1395.4 2197,1391.4 2199.5,1384.3 2199.8,1399.7 2200.2,1400.9 2202.3,1388.2 2203,1389.6 2203.3,1391 2204.4,1392 2206.1,1380.7 2206.5,1387.9 2207.5,1400.2 2207.9,1385 2209.3,1390.3 2209.6,1392.6 2210,1385.5 2212.1,1398.7 2212.4,1390.4 2212.8,1394.6 2215.2,1398.3 2215.6,1382.6 2215.9,1390.5 2217.3,1374 2218.7,1401.3 2219.1,1394.8 2219.8,1396.5 2220.8,1386.6 2221.5,1392.1 2221.9,1382.5 2224,1398.7 2224.7,1388.9 2225,1383.5 2227.1,1379.1 2227.5,1401.6 2227.8,1389.6 2228.2,1400.5 2228.5,1384.7 2231,1389.8 2231.3,1385.8 2232,1379.9 2233.8,1403.3 2234.1,1395.3 2234.5,1392.6 2235.2,1400 2236.6,1382.7 2237.3,1389.8 2237.6,1388.2 2239.7,1401.8 2240.1,1386 2240.4,1394.4 2240.8,1392.3 2242.2,1397.3 2243.2,1379.6 2243.6,1385.7 2243.9,1387.5 2244.3,1393.9 2245,1383.4 2246.7,1389 2247.1,1394.2 2248.8,1387.6 2249.2,1395.7 2249.9,1389.3 2250.2,1380.7 2251.6,1394.2 2252.7,1379.3 2253,1393.8 2253.4,1390.4 2255.1,1400.2 2255.8,1382.6 2256.2,1393.6 2256.5,1384.5 2257.9,1396.8 2259.3,1385.6 2259.7,1387.5 2261.1,1406.2 2261.4,1387 2262.5,1392.3 2262.8,1387.6 2263.5,1393.4 2265.3,1387.5 2265.6,1383.8 2268.1,1382.4 2268.4,1402.2 2268.8,1392.3 2269.5,1393.4 2270.9,1388.7 2271.6,1390.1 2271.9,1390.6 2272.6,1394.8 2273.3,1380.8 2274.7,1387.7 2275.1,1393 2275.8,1398.9 2276.1,1382 2277.9,1387.1 2278.2,1388.3 2278.9,1379.8 2279.3,1395.5 2281,1380.4 2281.4,1393 2281.7,1375.7 2284.2,1400.6 2284.5,1389.9 2285.2,1383.8 2287.3,1396 2287.7,1384.9 2289.8,1404.5 2290.5,1388.2 2290.8,1404.2 2292.9,1383.9 2293.6,1390.4 2294,1397.4 2295,1400 2296.8,1389.7 2297.1,1401.5 2297.8,1384.3 2299.9,1385.5 2300.3,1399 2300.6,1401.4 2301.7,1375.6 2303.1,1390.3 2303.4,1389.4 2304.8,1385.5 2305.5,1394.7 2306.2,1391.1 2306.6,1390.5 2307.3,1399.2 2308.7,1386.4 2309,1397 2309.4,1397.3 2309.7,1378.6 2311.8,1397.3 2312.2,1391.3 2312.5,1394.5 2312.9,1379.4 2313.2,1403.4 2315.3,1383.6 2315.7,1397.1 2317.1,1383.7 2317.4,1397.8 2318.5,1387.8 2318.8,1390 2320.2,1399.5 2320.6,1386.3 2321.6,1388.4 2322,1394.8 2322.7,1386.3 2323,1401.5 2324.8,1397 2325.1,1395.2 2326.5,1397.6 2327.6,1384.9 2327.9,1395.2 2328.3,1388 2329,1402.4 2330.4,1382.9 2331.1,1397.9 2331.4,1403 2331.8,1403.5 2332.5,1380.6 2334.2,1398.2 2334.6,1398.1 2336.3,1388.7 2337.4,1391.3 2337.7,1390.6 2339.1,1398.7 2340.2,1383.7 2340.5,1397.9 2340.9,1381.3 2342.3,1396 2343.7,1394.9 2344,1392.7 2344.4,1397.4 2346.8,1387.4 2347.2,1381.1 2348.9,1399.1 2350,1394.2 2350.3,1387.3 2352.4,1403.6 2352.8,1402.3 2353.1,1389.1 2353.5,1397.6 2355.9,1388.8 2356.3,1390.9 2357,1379.6 2357.3,1398.5 2359.1,1395.7 2359.4,1394.4 2359.8,1406.2 2362.2,1383.4 2362.6,1389.8 2362.9,1394.7 2364.7,1385.1"/></g>
<text class="t" x="292" y="1457.1" text-anchor="end">0</text>
<text class="t" x="292" y="1245.8" text-anchor="end">500</text>
<text class="t" x="292" y="1034.5" text-anchor="end">1000</text>
<text class="t" x="292" y="823.2" text-anchor="end">1500</text>
<text class="t" x="292" y="612.0" text-anchor="end">2000</text>
<text class="t" x="292" y="400.7" text-anchor="end">2500</text>
<text class="t" x="292" y="189.4" text-anchor="end">3000</text>
<text class="t" x="365.1" y="1554.8" text-anchor="middle">10</text>
<text class="t" x="933.2" y="1554.8" text-anchor="middle">30</text>
<text class="t" x="1501.3" y="1554.8" text-anchor="middle">50</text>
<text class="t" x="2069.4" y="1554.8" text-anchor="middle">70</text>
<text class="t b" x="1425.5" y="1666" text-anchor="middle" style="font-size:85px">2Θ (degree)</text>
<text class="t b" transform="translate(81.8 788.6) rotate(-90)" text-anchor="middle">intensity (a.u.)</text>
<text class="b" x="469" y="186" font-size="93">(a)</text>
<rect class="ax" x="424.4" y="1756.5" width="2011.2999999999997" height="1396.0"/>
<path class="tk" d="M424.4 2873.3h24.5 M424.4 2594.1h24.5 M424.4 2314.9h24.5 M424.4 2035.7h24.5 M999.1 3152.5v-25 M1573.7 3152.5v-25 M2148.4 3152.5v-25"/>
<text class="b" x="2047.5" y="2420.8" font-size="74.2">Mn<tspan dy="18.5" font-size="50">10</tspan><tspan dy="-18.5">Co</tspan><tspan dy="18.5" font-size="50">15</tspan><tspan dy="-18.5">/F</tspan></text>
<text class="b" x="2039" y="2754" font-size="74.2">Mn<tspan dy="18.5" font-size="50">5</tspan><tspan dy="-18.5">Co</tspan><tspan dy="18.5" font-size="50">5</tspan><tspan dy="-18.5">/F</tspan></text>
<text class="b" x="2033" y="2888.5" font-size="74.2">Mn<tspan dy="18.5" font-size="50">10</tspan><tspan dy="-18.5">Co</tspan><tspan dy="18.5" font-size="50">15</tspan><tspan dy="-18.5">/N</tspan></text>
<text class="b" x="2040" y="3063.5" font-size="74.2">Mn<tspan dy="18.5" font-size="50">5</tspan><tspan dy="-18.5">Co</tspan><tspan dy="18.5" font-size="50">5</tspan><tspan dy="-18.5">/N</tspan></text>
<clipPath id="cb"><rect x="424.0" y="1756.5" width="2017.9999999999998" height="1396.0"/></clipPath>
<g clip-path="url(#cb)">
<polyline class="c" stroke="#1C9AD6" points="412.4,2949.8 412.7,2962 413.1,2927 413.4,2963.9 415.5,2954.8 415.9,2952.2 416.6,2928 418,2969.1 418.7,2935.1 419,2959.6 420.1,2937.3 421.8,2962.8 422.2,2937.7 423.6,2933.4 423.9,2956.7 425,2950.9 425.3,2940 426.7,2959.4 427.8,2939.3 428.1,2947.6 428.5,2936.7 430.6,2968.9 430.9,2941.4 431.3,2967.1 431.6,2936.9 434.1,2950.9 434.4,2951.9 435.1,2969.4 437.2,2951.2 437.6,2969.5 439.3,2979.8 440,2961.5 440.4,2968.3 440.7,2957.7 441.1,2980.5 443.5,2967.2 443.9,2952.8 445.3,2981.5 446.7,2970.2 447,2983.8 448.4,2989.2 449.1,2944.2 449.8,2977.9 450.2,2983.9 450.5,2993.9 451.2,2967.7 453,2990.7 453.3,2968 453.7,2967 455.8,2993.2 456.1,2986.8 456.5,2986.8 456.8,2992.9 457.2,2959.1 459.3,2968 459.6,2977 460,2960.5 460.7,2996.5 462.4,2989.6 462.8,2986 463.1,2991.3 463.8,2969.4 465.6,2980.9 465.9,2983.3 467,3001.3 467.3,2972.8 468.7,2977.1 469.1,2985 469.4,2978.9 469.8,2995.3 471.5,2986.2 471.9,2987.7 473.6,2999.1 474.3,2972.3 474.7,2982.8 475,2990.1 477.1,2978.4 477.5,2999.6 477.8,2986.2 478.2,2977.7 479.2,3005.6 479.9,2971.9 481,2996.5 481.3,2993.6 482.7,2967.1 484.1,3001.9 484.5,2980.1 486.6,2993.1 487.3,2963.7 487.6,2991.7 489,2980.7 489.4,2998.4 490.4,2995.8 490.8,2992.7 492.2,2975.4 493.6,3008.5 493.9,3011.6 495,3015 496.4,2980.5 496.7,2980.9 497.1,2997.2 498.1,3000.4 499.9,2987.2 500.2,2999.3 501.6,3006.9 502,2985 503,2998.2 503.4,3006.7 503.7,2987.1 505.1,3011.8 506.2,2989.5 506.5,3006.8 508.3,3008.7 508.6,2990.7 509.3,3000 509.7,2999.2 511.1,2977.7 511.8,3010.7 512.5,2993.3 512.8,3009.2 513.5,2980.6 514.6,3014.7 515.3,2993.5 515.6,3001.1 517,2999.8 517.4,3015 518.4,3003.1 518.8,3000.9 520.5,3012.9 520.9,2999.8 521.6,3011.6 521.9,2991.4 522.6,3020.2 524.7,2997.4 525.1,3000 525.4,2998.3 527.2,3021.3 527.9,3008.1 528.2,2994.1 530,3013.3 531,3009.3 531.4,3009.1 533.1,3030.3 533.8,2995.9 534.2,3003.3 534.5,2998.4 535.6,2997.9 537,3026.4 537.3,3018.1 537.7,3031.2 538,3003 540.5,3022 540.8,3012.6 541.2,3014 541.9,2984 543.6,3005.4 544,3028.1 546.4,3006.9 546.8,3014 547.1,3002.3 548.9,3026.4 549.9,3009.1 550.3,3000.8 551.3,2992.3 552.4,3028 553.1,3012.9 553.4,3019.7 554.5,3030.9 555.2,2989.3 556.2,3024.2 556.6,3015.3 557.3,3034.1 559,3024.7 559.4,3004 559.7,3038.4 561.5,2994.6 562.2,3003.5 562.5,3006.4 562.9,2997.8 563.6,3022.6 565.3,3010.1 565.7,3004.7 566.4,2995.2 567.4,3030.1 568.5,3008.1 568.8,3027.5 569.9,3006.5 570.6,3033.2 571.6,3024.8 572,3019.4 572.7,3028.1 574.4,3010.2 574.8,3025.2 575.1,3014.5 576.9,3037.8 577.2,2996.2 577.9,3035.5 578.3,3023.1 580,3012 580.7,3035.4 581.1,3024.3 581.4,3016.3 583.9,3038.2 584.2,3022.2 584.6,3027.1 585.3,3004.8 587.4,3037.1 587.7,3023.9 588.8,3040.7 590.2,3012.9 590.5,3022.5 590.9,3022.7 592.6,3009.6 593,3049.6 593.7,3032 594,3013.7 595.4,3002.5 595.8,3038.6 596.8,3016 597.2,3029.8 598.2,3045.8 599.6,3017.3 600,3027.7 600.3,3038 600.7,3042.4 602.1,3010.6 602.8,3031.4 603.1,3023.8 603.8,3010 604.5,3042 605.9,3020.7 606.3,3030.5 607,3057.1 608,3013.2 609.1,3032.7 609.4,3015.1 611.2,3048.2 612.2,3042.5 612.6,3008.1 614,3040 615.4,3018.4 615.7,3041.9 616.1,3025.1 616.8,3048.1 618.5,3030.2 618.9,3030 619.9,3048.6 621.3,3007.6 621.7,3039.8 622,3032.5 623.8,3045.9 624.8,3013.3 625.2,3035.7 625.5,3047.3 626.6,3016.7 628,3028.5 628.3,3037.6 629,3021 629.4,3038.3 631.1,3037.4 631.5,3031 633.9,3018 634.3,3052 634.6,3011.2 635,3047.9 637.4,3036.9 637.8,3025.4 638.5,3021.1 639.9,3044 640.6,3023.5 640.9,3020.9 643.4,3012.4 643.7,3038.2 644.1,3041.5 645.1,3023.5 646.2,3061.3 646.5,3030.6 646.9,3024.1 647.6,3020.4 649.7,3045.5 650,3038.3 652.1,3010.7 652.5,3043.8 652.8,3029.9 653.2,3040.1 655.6,3048.3 656,3014.2 656.3,3024.4 657.4,3020.4 658.4,3057.9 659.1,3029.1 659.5,3037.6 661.6,3044.3 662.3,3023 662.6,3019.4 664.4,3048.6 665.1,3012.7 665.4,3024.8 665.8,3019.7 666.5,3032.1 668.6,3012 668.9,3022.8 669.6,3005.1 671.7,3010.3 672.1,3002.4 673.1,3023 674.9,2995.2 675.2,2998 675.6,3017.5 677.3,2991.8 678,2998.9 678.4,2993.9 679.1,2999.1 680.8,2963.5 681.2,2986 681.5,2980.5 682.9,3013.5 684,2979.5 684.3,3000.7 684.7,2987.4 686.4,3005.2 687.5,2982.1 687.8,2999.9 688.2,3011.9 689.9,2980.8 690.3,3003.3 690.6,3005.2 692.4,3008.1 693.1,2983.3 693.4,2996.9 693.8,2998.3 695.2,3005 695.5,2982.5 696.6,3002 696.9,2991.3 697.3,2979.9 698.7,3003.8 699.7,2985.7 700.1,3002.8 701.1,3010.2 702.2,2979.2 702.9,3008.9 703.2,2994 704.6,2982.4 705.3,3010.8 706,3010.5 706.4,2994.9 707.1,3002 708.5,2984.9 709.2,3000.1 709.5,3003.1 710.6,2986.9 712.3,2997 712.7,3003.9 715.5,2980 715.8,2995.3 717.9,2997.5 718.3,2977.8 718.6,2986.5 719,3005.7 720.4,2983.3 721.8,3002.9 722.1,2997.1 723.2,3004.4 724.9,2980.7 725.3,3003.5 725.6,3004.1 728.1,2978.5 728.4,2987.4 729.8,3002.6 730.9,2982.7 731.2,2988.5 731.6,2999.6 731.9,2977.3 733.3,3000 734,2989.1 734.4,3001.5 734.7,2979.4 736.5,3013.7 737.2,2985 737.5,2974.5 739.6,2997.8 740.3,2989.5 740.7,2974 741.7,2996.6 743.5,2994.9 743.8,2994.1 744.2,2998.7 745.2,2979.7 746.6,2990.1 747,2998 748,3000.8 749.1,2982.8 749.8,2989.4 750.1,2994.6 751.5,3001.8 752.9,2979.1 753.3,2997.2 755,2973.6 756.1,2988.5 756.4,2981.1 758.9,3001.5 759.2,2993.3 759.6,2976.5 761.7,2976.1 762,2998.6 762.4,2986.7 762.7,2995.2 764.5,2996.3 765.5,2971.6 765.9,2980.1 766.9,2991.7 767.6,2978.4 768.7,2987.9 769,2987.8 770.4,2979.1 771.8,3006.1 772.2,2983.6 772.9,2975.4 773.6,2998.7 775,2990.8 775.3,2977 777.8,2997.9 778.1,2979.6 779.2,2998.8 780.9,2997.2 781.3,2991.3 782,2991.8 782.7,2978.2 784.1,2989.5 784.4,2994.4 784.8,3004.9 786.2,2981.8 787.2,2991.2 787.6,2984.9 789,3003.3 789.3,2982 790.4,2985.2 790.7,2991.4 792.5,2977.1 792.8,2998.4 793.5,2995.2 793.9,2994 794.9,2974 796,2996.7 796.7,2988.3 797,2994 798.8,2982.9 799.1,2999.4 799.8,2990.2 800.2,2996.5 801.2,2986.5 801.6,3004.2 803,2993.3 803.3,2993.8 803.7,2985.4 806.1,3010.4 806.5,2985.5 808.6,2984.3 809.3,3008.9 809.6,3002.5 811,2983.9 812.4,3010.1 812.8,2993.6 813.5,2989 814.5,3004.9 815.6,2997.4 815.9,3008.8 816.6,3010.6 818.4,2991.4 818.7,2998.9 819.1,2987 820.8,3007 821.5,3000.5 821.9,2996.6 822.2,2988.6 823.3,3004.6 824.7,2995.5 825,2990 825.4,3007.2 827.1,2979.7 827.8,2997 828.2,3003.3 828.5,2990.9 829.6,3011.5 831,3005.7 831.3,3011 832.4,3014.1 832.7,2987.9 834.1,3002.6 834.5,3002.6 834.8,2995.2 836.9,3014.1 837.3,3007.5 837.6,3008.1 840.1,3013.2 840.4,2997.7 840.8,3002.2 841.8,2997.6 843.6,3018.3 843.9,3023.8 844.3,2999 846.7,3006.1 847.1,2998.5 848.8,2993 849.9,3014.8 850.2,3010.7 850.9,2992.3 853,3016.8 853.4,3014.2 854.1,3000.8 855.8,3019.1 856.2,3015.2 856.5,3006.2 857.9,3021.7 858.6,3003.6 859.3,3015.6 859.7,3011.8 860.7,3004.4 861.4,3018.5 862.5,3012.9 862.8,3013.2 863.9,3026.3 864.2,3013.1 865.3,3018.4 865.6,3025.9 866.3,3011.8 868.4,3017.1 868.8,3020.7 869.1,3012.6 871.6,3027.7 871.9,3019 873.3,3004.9 874.7,3024.2 875.1,3019.9 875.4,3028.8 876.8,3007.8 877.9,3025 878.2,3021.6 879.3,3034.5 879.6,3009 881,3033.6 881.4,3025.2 881.7,3040.7 883.5,3015.9 884.2,3030.8 884.5,3020.3 885.6,3034.2 887.3,3030.7 887.7,3023 888,3006.3 890.5,3041.4 890.8,3030.1 891.2,3037.4 892.6,3020.6 893.6,3021.7 894,3027.6 895.4,3016.6 896.1,3043.2 896.8,3023.9 897.1,3039.4 897.8,3028 899.9,3035.5 900.3,3034.5 901.3,3041.2 902.4,3024.4 903.1,3035.6 903.4,3033.5 904.8,3021.9 905.5,3042.1 906.2,3033.2 906.6,3039.3 907.6,3029.6 908.7,3040.8 909,3039.7 909.4,3035.4 909.7,3050.1 911.5,3026.8 912.2,3037.2 912.5,3038 913.6,3047.2 914.3,3029.8 915.3,3047 915.7,3042.9 917.4,3030.5 918.5,3049.9 918.8,3035.2 920.2,3033.6 921.6,3053.2 922,3040.9 922.3,3027.8 924.1,3049.1 924.8,3042.9 925.1,3055 925.8,3032.3 927.9,3037.5 928.3,3045.2 928.6,3033.1 929.3,3052.2 931.1,3042.2 931.4,3054 931.8,3036.4 932.1,3056.6 934.2,3046.9 934.6,3049.9 934.9,3038 937,3050.8 937.4,3043.2 937.7,3051.5 938.4,3056.9 940.5,3039.1 940.9,3053.3 942.3,3056.8 943.7,3032.2 944,3045.8 945.1,3058.5 946.1,3043.4 946.8,3046.6 947.2,3053.3 949.3,3059.6 949.6,3045.6 950,3050.3 950.3,3051.6 951.7,3048.8 952.1,3064 952.8,3057.9 953.1,3049.5 955.2,3047.1 955.9,3059.7 956.3,3050.2 958.4,3065.2 959.1,3058.4 959.4,3062.7 961.2,3057.2 962.2,3067.3 962.6,3055.8 964,3065.7 964.7,3044.2 965.4,3053.2 965.7,3044.8 967.5,3043.6 968.5,3071.7 968.9,3057.3 970.3,3055 970.6,3062 971.7,3059.4 972,3053.3 972.4,3070 972.7,3051.4 974.8,3061.4 975.2,3065.8 975.5,3071.1 976.6,3043.2 978,3059.2 978.3,3057.9 978.7,3046.6 980.1,3065.4 981.1,3060.2 981.5,3055.2 983.2,3052.7 984.3,3070 984.6,3051.7 985,3066.8 986.4,3048.8 987.4,3054.5 987.8,3067.1 989.9,3055.7 990.2,3070.1 990.6,3056.8 990.9,3050.9 991.6,3074.2 992,3050.9 993.7,3052.6 994.1,3067.5 995.5,3072.4 996.5,3048.3 996.9,3064.2 999,3053.9 999.7,3072.5 1000,3053.6 1002.1,3069.8 1002.8,3065.3 1003.2,3053.8 1003.9,3066.6 1004.9,3049.9 1006,3060.4 1006.3,3076 1007.7,3053.7 1009.1,3078.7 1009.5,3060.9 1010.2,3053.4 1010.9,3078.7 1012.3,3066.2 1012.6,3066 1013.3,3053.2 1015.1,3074.1 1015.4,3062.5 1015.8,3052.7 1017.9,3069.6 1018.6,3064.3 1018.9,3060.1 1019.3,3049.7 1020.3,3064.5 1021.7,3058.9 1022.1,3055.1 1023.5,3072.5 1024.9,3054 1025.2,3064.1 1026.3,3064.2 1027.3,3051.4 1028,3052.2 1028.4,3055.4 1028.7,3075 1030.8,3048.7 1031.2,3067.6 1031.5,3050 1031.9,3058.2 1034,3030.1 1034.3,3051 1034.7,3033.7 1035.4,3040.8 1037.5,3011.5 1037.8,3015.2 1039.6,3000.9 1040.3,3005.2 1040.6,3009.8 1041,3006.8 1043.4,3037.9 1043.8,3046.4 1044.1,3040.3 1044.8,3052.1 1046.6,3045.5 1046.9,3065.9 1048,3048.4 1049.7,3054.4 1050.1,3076.5 1052.2,3055.6 1052.9,3076.6 1053.2,3063.4 1054.3,3055.4 1055.3,3075.9 1056,3070.8 1056.4,3069.9 1057.8,3080.5 1058.1,3057.9 1059.2,3065.7 1059.5,3073.9 1060.2,3052.3 1062.3,3072.4 1062.7,3055.9 1063.4,3076.5 1065.5,3058.8 1065.8,3070.8 1066.2,3060.8 1066.9,3071.5 1068.6,3063.9 1069,3056.3 1069.7,3075 1071.8,3074.7 1072.1,3083.1 1073.9,3068.1 1074.9,3073.9 1075.3,3082.7 1076,3083.8 1078.1,3059 1078.4,3069.7 1079.5,3062.1 1080.9,3085 1081.2,3073.9 1081.6,3074.1 1082.3,3067 1083.3,3082 1084,3074 1084.4,3079.3 1085.1,3059.6 1085.4,3085.3 1087.2,3084.7 1087.5,3073.3 1089.6,3076.9 1090.3,3065.1 1090.7,3069.6 1091,3079.6 1092.4,3062 1093.5,3076.1 1093.8,3081 1095.2,3067.7 1095.9,3083.7 1096.6,3072.7 1097,3074.8 1098,3086.9 1099.4,3064.8 1099.8,3083.3 1100.1,3082.9 1100.5,3089.3 1102.6,3068 1102.9,3074.8 1103.3,3069 1104.7,3079.8 1106.1,3076.6 1106.4,3077 1108.2,3086.8 1108.9,3063.5 1109.2,3076.1 1109.6,3072.9 1110.3,3080.7 1111.3,3065.3 1112.4,3077 1112.7,3082.2 1114.1,3065.1 1115.5,3074.7 1115.9,3073.1 1117.6,3087.3 1118,3072.9 1118.7,3077.4 1119,3081.9 1119.4,3062.5 1120.1,3092.2 1121.8,3089.9 1122.2,3075.6 1123.6,3092.3 1125,3062.6 1125.3,3075.8 1125.7,3085.5 1126,3069.4 1127.8,3077.3 1128.1,3079.9 1130.6,3064 1130.9,3087.2 1131.3,3078.9 1133,3083.1 1134.1,3063.9 1134.4,3070.2 1136.5,3067.5 1137.2,3087.1 1137.6,3072.4 1137.9,3064 1139.3,3086.3 1140.4,3083 1140.7,3075.7 1142.5,3085.3 1142.8,3062.3 1143.5,3068.3 1143.9,3070.5 1144.9,3063.2 1145.6,3081.1 1146.7,3066.4 1147,3074.8 1148.1,3076.7 1149.8,3070.7 1150.2,3073.9 1151.2,3064.5 1151.6,3075.3 1153,3066 1153.3,3065.2 1154.4,3076.7 1155.4,3058.4 1156.1,3064.2 1156.5,3078.5 1157.9,3066 1158.2,3083.8 1159.3,3081.1 1159.6,3069.6 1160,3055 1162.4,3076.1 1162.8,3072.8 1163.1,3064.2 1163.8,3078.1 1165.6,3065 1165.9,3067.1 1166.6,3058.4 1168.4,3071.6 1168.7,3063 1169.1,3066.8 1169.4,3056.5 1170.1,3078.8 1171.5,3063.4 1171.9,3069.9 1173.6,3054.2 1174.7,3057.3 1175,3054.5 1177.1,3066.2 1177.8,3062.7 1178.2,3065.8 1178.9,3043.6 1181,3057.9 1181.3,3041.3 1181.7,3063.2 1183.4,3039.2 1184.1,3050 1184.5,3047.8 1184.8,3056.4 1186.9,3036.8 1187.3,3039.7 1187.6,3041.3 1188.3,3042.2 1190.1,3022.4 1190.4,3027.1 1190.8,3028.2 1193.6,3010.3 1193.9,2999 1196.7,2943.1 1197.1,2940.3 1199.9,2898.1 1200.2,2900 1203,2938.5 1203.4,2945.5 1205.8,2996 1206.2,2991.1 1206.5,3004.8 1209,3026.6 1209.3,3025.7 1209.7,3030.7 1210.7,3024.6 1212.5,3043.6 1212.8,3042.2 1213.2,3030.4 1215.3,3050.5 1215.6,3049.5 1216.7,3042.3 1218.4,3059.8 1218.8,3050.5 1221.6,3067.7 1221.9,3052.1 1222.3,3068.5 1224.7,3063.4 1225.1,3056.3 1225.4,3053.7 1227.2,3072.3 1227.9,3066.6 1228.2,3073.1 1229.3,3055.6 1231,3080.6 1231.4,3063.6 1232.1,3055.5 1232.8,3074.6 1234.2,3070.2 1234.5,3080.7 1235.6,3060.3 1237.3,3070.8 1237.7,3073.3 1238.4,3075.7 1238.7,3062 1240.5,3071.6 1240.8,3072.2 1241.2,3083.2 1241.5,3065.9 1243.6,3076.2 1244,3069 1244.3,3088.5 1246.8,3076.9 1247.1,3078.7 1248.9,3091.5 1249.2,3068.4 1249.9,3082.7 1250.3,3073.6 1251,3067.6 1252,3086.4 1253.1,3080.6 1253.4,3087.5 1254.8,3094.8 1255.9,3067.1 1256.2,3086 1256.6,3086.5 1258.7,3071.2 1259,3081 1259.4,3094.2 1262.2,3072.7 1262.5,3079.4 1263.9,3070.6 1264.3,3092 1265.3,3081.5 1265.7,3078.8 1266.7,3087.7 1267.8,3064.9 1268.5,3073.2 1268.8,3079.8 1269.2,3074.6 1269.5,3089.2 1271.6,3084.1 1272,3083.9 1272.7,3085.1 1274.1,3065.4 1274.8,3079.7 1275.1,3095.3 1277.9,3072.8 1278.3,3081.6 1279.3,3099.8 1279.7,3078.9 1281.1,3081.6 1281.4,3078.8 1282.1,3088 1283.9,3072.6 1284.2,3078.5 1284.6,3095.1 1284.9,3077.5 1287.4,3083.6 1287.7,3078.2 1288.1,3086.6 1290.5,3080.2 1290.9,3069.4 1293.3,3093 1293.7,3082.3 1294,3090 1294.4,3070.7 1295.1,3093.6 1296.8,3082.3 1297.2,3083.8 1297.5,3075.6 1298.6,3089.5 1300,3079.5 1300.3,3075.9 1301.4,3097.3 1302.4,3075.5 1302.8,3083.6 1303.1,3089.7 1305.6,3076.3 1305.9,3090.6 1306.3,3078.3 1307.3,3094.5 1309.1,3088.6 1309.4,3076.6 1312.2,3093.4 1312.6,3093.4 1312.9,3068.7 1315.4,3081.2 1315.7,3070.5 1316.4,3091.4 1318.5,3087 1318.9,3089 1319.2,3082 1321,3097.7 1321.7,3084.8 1322,3093.6 1324.5,3078.3 1324.8,3088 1325.2,3090.6 1326.6,3069.5 1327.3,3092.7 1328,3082.8 1328.3,3084.9 1328.7,3076.3 1330.1,3095.6 1331.1,3088 1331.5,3082.8 1332.2,3075.4 1333.9,3095.7 1334.3,3087 1334.6,3087.7 1335.7,3077.5 1337.4,3078.4 1337.8,3081.6 1338.8,3081 1340.6,3098.9 1340.9,3087.8 1343,3080.1 1343.7,3095 1344.1,3080.1 1344.8,3091.3 1346.2,3078.3 1346.5,3086.8 1346.9,3090.9 1347.9,3094.9 1349,3082.4 1349.7,3090 1350,3087.3 1351.4,3100.2 1351.8,3084.7 1352.8,3088.8 1353.2,3092 1353.9,3077.9 1355.3,3096.4 1356,3087.3 1356.3,3090.6 1357,3091.3 1358.8,3075.8 1359.1,3084.1 1359.5,3083.2 1360.2,3100.9 1361.2,3080.7 1362.3,3083.8 1362.6,3086 1364.7,3076.8 1365.4,3097.3 1365.8,3076.5 1366.5,3096.1 1368.6,3086.2 1368.9,3075.4 1369.6,3094.2 1371.7,3086.6 1372.1,3079.8 1374.5,3096.9 1374.9,3083.4 1375.2,3080.5 1375.6,3080.2 1378,3094.4 1378.4,3081.6 1378.7,3096 1380.8,3075.3 1381.2,3085.9 1381.5,3084.9 1383.6,3082.2 1384.3,3090.6 1384.7,3088.2 1385,3082 1387.1,3092.1 1387.5,3090.2 1387.8,3104.2 1389.2,3084.7 1390.3,3095.7 1390.6,3087.4 1393.1,3084.3 1393.4,3097.4 1393.8,3087.4 1395.5,3078.6 1396.2,3092.5 1396.6,3081.1 1396.9,3081.6 1397.6,3099.6 1398.3,3079.4 1399.7,3085.4 1400.1,3094.2 1401.5,3081.6 1402.2,3094.7 1402.9,3083.4 1403.2,3093.5 1405,3082.9 1406,3084.3 1406.4,3072.8 1407.4,3092 1409.2,3084.2 1409.5,3079.7 1410.9,3075.5 1411.6,3090.1 1412.3,3082.7 1412.7,3069.7 1414.1,3084.8 1415.5,3075.1 1415.8,3069.1 1416.2,3080.6 1417.2,3068.8 1418.6,3071.9 1419,3067.2 1420.4,3071.7 1421.1,3059.3 1421.8,3062 1422.1,3062.1 1422.8,3062.1 1424.9,3051.3 1425.3,3050.2 1425.6,3054.5 1426.7,3044.8 1428.1,3052 1428.4,3049.2 1430.5,3061.2 1430.9,3048.2 1431.2,3057.5 1431.6,3061.8 1433.3,3077.4 1434.4,3065 1434.7,3071.6 1435.1,3066.8 1435.4,3075.6 1437.2,3071.8 1437.5,3075 1438.9,3090.4 1439.3,3070.6 1440.3,3076.9 1440.7,3082.2 1443.1,3076.6 1443.5,3091.5 1443.8,3085.8 1444.5,3091.9 1446.3,3078 1446.6,3086.8 1447,3088.8 1448,3073.2 1449.8,3094.3 1450.1,3090.2 1451.5,3097.1 1451.9,3075.6 1452.9,3094.1 1453.3,3091.4 1454.3,3093.6 1455.7,3083.8 1456.1,3085.6 1456.4,3088 1457.8,3080.2 1458.2,3096.8 1459.2,3086.6 1459.6,3087.1 1460.6,3095.8 1461.3,3077.3 1462.4,3092 1462.7,3094.3 1464.8,3086.8 1465.2,3095.2 1465.5,3093.7 1465.9,3081.7 1467.3,3077.9 1468,3102.5 1468.7,3092.1 1469,3102.3 1470.4,3084.7 1471.8,3091.1 1472.2,3088.2 1472.9,3077 1473.2,3096.8 1475,3090.2 1475.3,3094.7 1476.4,3087.7 1478.1,3099.1 1478.5,3104.6 1480.9,3088.4 1481.3,3099.5 1483,3085 1483.7,3102.8 1484.1,3098.2 1484.4,3098 1485.1,3103.9 1485.5,3089.2 1487.2,3090.3 1487.6,3095 1488.3,3098 1489.3,3081.2 1490.4,3093 1490.7,3088.6 1492.8,3088.1 1493.2,3098.4 1493.5,3094.7 1493.9,3097.3 1496.7,3085.6 1497,3092.9 1497.4,3100.3 1498.4,3090.6 1499.8,3094.4 1500.2,3105.6 1501.2,3086.2 1503,3101.9 1503.3,3093.3 1504.4,3085.4 1505.4,3097.5 1506.1,3090.6 1506.5,3092.4 1507.2,3098.8 1508.9,3081 1509.3,3096 1509.6,3092.9 1510.3,3090.7 1512.4,3099.5 1512.8,3092.5 1514.5,3102.7 1514.9,3089.7 1515.6,3095.9 1515.9,3101.2 1518.7,3086.8 1519.1,3103 1520.1,3078 1521.9,3093.6 1522.2,3095.2 1522.9,3086.7 1524,3107.6 1524.7,3090.1 1525,3092.8 1525.4,3084.6 1526.8,3105.2 1527.8,3093.7 1528.2,3095.3 1529.2,3091.9 1531,3104.4 1531.3,3096.8 1532,3102.3 1533.1,3086.7 1534.1,3093.9 1534.5,3086.1 1536.9,3106.9 1537.3,3087.3 1537.6,3086.2 1539,3085.8 1540.1,3102.1 1540.4,3100.4 1540.8,3083.7 1541.1,3099.4 1543.6,3095.1 1543.9,3091.1 1545.7,3084.9 1546,3099.2 1546.7,3093.1 1547.1,3094.7 1548.1,3083.6 1549.9,3098.3 1550.2,3103.2 1551.3,3103.9 1552.3,3082.5 1553,3091.5 1553.4,3097.7 1553.7,3099.4 1556.2,3086.7 1556.5,3088.2 1557.9,3084.1 1559.3,3105.3 1559.7,3098 1560.4,3102.9 1561.8,3089.3 1562.5,3093.1 1562.8,3090.6 1563.2,3104.2 1565.6,3095.2 1566,3085.9 1568.1,3098 1568.4,3091 1568.8,3090.3 1569.1,3102.9 1571.6,3088.2 1571.9,3086.4 1574.7,3101.1 1575.1,3097.6 1576.5,3090.2 1577.5,3108.7 1577.9,3092.1 1578.2,3091.8 1578.9,3103.9 1579.3,3086.3 1581,3098.7 1581.4,3086.6 1583.5,3083.7 1584.2,3102.1 1584.5,3094.6 1586.3,3084.9 1587.3,3098.7 1587.7,3091.8 1588,3099.4 1589.8,3086 1590.5,3089.2 1590.8,3097.2 1591.5,3087.8 1593.6,3092.5 1594,3090.7 1594.7,3084.7 1596.1,3095.7 1596.8,3095.7 1597.1,3093 1597.8,3098 1598.2,3088.7 1599.9,3090.5 1600.3,3095.1 1602,3087.8 1602.4,3104.7 1603.1,3100.1 1603.4,3088.4 1604.1,3084 1605.5,3100.6 1606.2,3085.7 1606.6,3103.8 1606.9,3090.9 1609.4,3095.5 1609.7,3081.1 1611.1,3100.8 1612.2,3092.3 1612.5,3091.2 1613.2,3100.3 1614.6,3089.3 1615.3,3089.9 1615.7,3094.2 1616.4,3106.7 1616.7,3090.8 1618.5,3092.4 1618.8,3094.7 1619.9,3081.1 1620.2,3103.4 1621.6,3095.1 1622,3089.2 1622.7,3086.5 1623.4,3097.1 1624.8,3088 1625.1,3089.6 1625.5,3084.6 1627.2,3103.3 1627.9,3100.7 1628.3,3093.2 1630.7,3084.8 1631.1,3099.7 1631.4,3091.5 1632.5,3088.4 1634.2,3099.5 1634.6,3093.4 1637,3090.1 1637.4,3100.1 1637.7,3097.7 1639.1,3087.5 1640.5,3102 1640.9,3095.8 1641.2,3090.8 1641.9,3105.2 1643.7,3096.5 1644,3088.6 1645.1,3101.3 1645.8,3084.1 1646.8,3090.5 1647.2,3101.2 1647.5,3089.6 1650,3096.1 1650.3,3087.6 1651.4,3102.7 1652.8,3086.6 1653.1,3091.3 1653.5,3094.6 1654.2,3091.3 1655.2,3097.5 1655.9,3092.6 1656.3,3097.8 1657.7,3084.9 1658,3102.2 1659.1,3099.7 1659.4,3094.7 1659.8,3099.3 1660.5,3087.2 1662.2,3091 1662.6,3091.2 1663.3,3086 1664.3,3098.1 1665.4,3092.8 1665.7,3092.2 1667.1,3102.2 1668.2,3080.4 1668.5,3092 1668.9,3093.6 1670.6,3088.6 1671.3,3105 1671.7,3092.2 1672,3087.3 1673.4,3098.6 1674.1,3083.4 1674.8,3093.2 1675.2,3098.7 1676.6,3101.4 1676.9,3090.3 1678,3092.8 1678.3,3101.9 1679.4,3091.3 1681.1,3092.7 1681.5,3096.6 1681.8,3099.8 1682.9,3086.4 1684.3,3093.7 1684.6,3098.9 1686,3104 1686.7,3085.2 1687.4,3096.7 1687.8,3088.5 1689.5,3104.1 1690.2,3084.3 1690.6,3091.7 1690.9,3106.2 1691.3,3081.4 1693.7,3091.4 1694.1,3098.8 1694.4,3102 1696.5,3087.6 1696.9,3090 1697.2,3090 1698.6,3086.9 1699.3,3098.2 1699.7,3090.7 1700,3089 1701.4,3101.2 1702.1,3083.6 1702.8,3085.3 1703.2,3092.8 1703.9,3086.1 1704.2,3099.8 1706,3094.6 1706.3,3098.1 1708.8,3085.5 1709.1,3106.2 1709.5,3090.7 1711.6,3094.7 1712.3,3084.1 1712.6,3098.6 1715.1,3084 1715.4,3096.1 1715.8,3087.6 1717.2,3086.3 1718.2,3098.1 1718.6,3095.6 1718.9,3085.8 1719.3,3097.9 1721,3080.1 1721.7,3090.7 1722.1,3088 1723.8,3083.9 1724.9,3099.9 1725.2,3084.7 1725.6,3081.8 1727,3093.9 1728,3086.5 1728.4,3088.4 1729.1,3101.5 1730.8,3083.5 1731.2,3087.5 1731.5,3084.2 1732.6,3081 1733.3,3097.7 1734.3,3090.5 1734.7,3087.6 1735,3074.3 1737.1,3095.3 1737.5,3090.8 1737.8,3083.3 1738.9,3098.6 1740.6,3089.1 1741,3090.5 1743.1,3080.1 1743.4,3090.8 1743.8,3078.8 1744.5,3077.7 1744.8,3094.4 1746.6,3087.7 1746.9,3086.8 1748.3,3078.8 1749,3089.1 1749.7,3085.3 1750.1,3084.1 1750.4,3078.6 1751.1,3099.1 1752.9,3088.7 1753.2,3084.2 1754.3,3086 1756,3072.1 1756.4,3085.4 1757.4,3095 1757.8,3077.9 1759.2,3087.2 1759.5,3085.1 1760.2,3089.7 1762.3,3069.8 1762.7,3085.2 1763.4,3077.9 1764.1,3089 1765.5,3081.6 1765.8,3079 1768.3,3089.9 1768.6,3084.9 1769,3087.2 1770.7,3082.6 1771.1,3090.2 1771.8,3086.3 1772.1,3081.5 1773.2,3078.1 1773.9,3093.2 1774.9,3089.9 1775.3,3096.6 1776.3,3077.3 1778.1,3092.5 1778.4,3086.4 1778.8,3076.2 1779.8,3089.3 1781.2,3083.9 1781.6,3095.7 1783,3099.6 1784.4,3078.7 1784.7,3095.6 1786.1,3096.3 1786.5,3078.9 1787.2,3090.3 1787.5,3090.9 1788.2,3083.8 1790.3,3084.2 1790.7,3088.6 1791.4,3082.9 1792.1,3092.8 1793.5,3087.1 1793.8,3088.5 1794.9,3080.8 1796.3,3097.6 1796.6,3091.4 1797,3081.9 1797.3,3092.9 1799.8,3087.2 1800.1,3095 1801.2,3084.8 1802.9,3102.2 1803.3,3093.4 1805,3082.3 1805.4,3096.1 1806.1,3085.6 1806.4,3087.3 1806.8,3096 1808.2,3078.9 1809.2,3088.2 1809.6,3092.2 1810.3,3096.8 1811.3,3078.7 1812.4,3096.4 1812.7,3086.5 1814.5,3078.2 1815.5,3096 1815.9,3103.7 1816.6,3077.9 1818.7,3088 1819,3076.2 1820.1,3095.8 1821.8,3095.7 1822.2,3092.1 1822.5,3087.4 1823.2,3100.7 1825,3088.6 1825.3,3087.9 1826.7,3091.6 1828.1,3081.3 1828.5,3084.4 1828.8,3079.2 1830.9,3090.3 1831.3,3081.8 1831.6,3073.7 1834.1,3088.9 1834.4,3088.8 1836.9,3077.9 1837.2,3088.8 1837.6,3080.7 1837.9,3085 1839.7,3063.5 1840.4,3069.6 1840.7,3064.3 1841.1,3073.1 1843.5,3053.6 1843.9,3057.8 1846.7,3043.4 1847,3045.5 1848.1,3042.5 1849.8,3049 1850.2,3049.6 1852.6,3062.4 1853,3058.2 1853.3,3064.7 1854.4,3060.6 1856.1,3074 1856.5,3070.1 1856.8,3068.2 1859.3,3081.7 1859.6,3086.8 1860.3,3075.2 1861.4,3096.5 1862.4,3081.2 1862.8,3071.4 1865.2,3094 1865.6,3090 1865.9,3083 1867,3099.3 1868,3076.3 1868.7,3090.7 1869.1,3091.7 1870.1,3102.4 1871.2,3086.7 1871.9,3087 1872.2,3093.3 1872.6,3075.8 1874.7,3087.9 1875,3087.2 1875.4,3098.7 1875.7,3083.4 1877.8,3090.8 1878.2,3084.5 1878.5,3100.2 1879.9,3084.5 1881,3095.9 1881.3,3084 1883.1,3081.2 1883.8,3097.8 1884.1,3097 1884.5,3092 1886.2,3086.9 1886.6,3104.8 1887.3,3094.6 1887.6,3090.7 1888,3097.9 1888.7,3082.1 1890.4,3093.3 1890.8,3085.7 1893.2,3100.2 1893.6,3084.9 1893.9,3089.8 1895,3086.2 1896.7,3096.4 1897.1,3096.6 1898.5,3085.8 1898.8,3102.1 1899.9,3090.7 1900.2,3089.7 1900.6,3083.7 1902.7,3096.6 1903,3091.2 1903.4,3086.9 1903.7,3085.8 1904.8,3100.3 1906.2,3085.9 1906.5,3089.1 1907.2,3088 1909.3,3099.1 1909.7,3084.2 1911.8,3102.3 1912.5,3096.5 1912.8,3095.3 1913.2,3082.6 1914.2,3101.2 1915.6,3097.8 1916,3087.4 1917,3084.6 1917.7,3096.3 1918.4,3087.8 1918.8,3090.3 1920.5,3084.1 1921.2,3093.5 1921.6,3092.1 1921.9,3087 1924,3096.4 1924.7,3092.7 1925.1,3089.2 1926.1,3097.4 1927.2,3088.5 1927.9,3095.2 1928.2,3090.5 1929.6,3086.7 1930.7,3101.5 1931,3097.8 1931.4,3093.4 1932.1,3096.9 1932.4,3080.6 1934.2,3095.9 1934.5,3085.5 1935.2,3095.7 1937.3,3088.5 1937.7,3086.6 1938,3086.2 1939.1,3100.1 1940.5,3087.7 1940.8,3097.7 1941.2,3099.5 1942.6,3089.8 1943.6,3096.5 1944,3093.5 1945,3083.7 1946.1,3097 1946.8,3093.2 1947.1,3094.6 1948.5,3099.9 1949.2,3086.3 1949.9,3088.1 1950.3,3092.1 1951.7,3086.7 1953.1,3100.3 1953.4,3090.4 1953.8,3084.1 1955.2,3099.3 1956.2,3089.4 1956.6,3088.2 1956.9,3106 1959.4,3090.3 1959.7,3090 1960.4,3099 1962.2,3092.9 1962.5,3096.4 1964.6,3081.7 1965.3,3097.1 1965.7,3088.6 1966,3088.2 1968.5,3100.8 1968.8,3094.2 1970.2,3081.6 1971.6,3101.9 1972,3096.3 1972.3,3101.7 1974.1,3085 1974.8,3100.5 1975.1,3086.4 1975.8,3103.9 1977.9,3082.9 1978.3,3093.6 1978.6,3101.8 1980.7,3083.2 1981.1,3087.1 1981.4,3093.2 1983.2,3096.7 1983.9,3084.2 1984.2,3089 1984.6,3082.1 1987.4,3101.1 1987.7,3089.7 1988.8,3096.2 1990.5,3087.6 1990.9,3102.3 1991.6,3083.3 1993.7,3088.9 1994,3090 1995.1,3078.9 1995.4,3097.7 1996.8,3091.6 1997.2,3084.3 1999.3,3093.9 1999.6,3079.6 2000,3085.3 2000.3,3087.4 2001,3088.5 2001.7,3074.6 2003.1,3083.2 2003.5,3081.4 2003.8,3073.8 2004.2,3086.3 2005.9,3085 2006.3,3076.5 2006.6,3080 2008.4,3065 2009.1,3068.3 2009.4,3065.8 2012.2,3042.1 2012.6,3040.9 2012.9,3045.7 2015.4,3026 2015.7,3023.3 2016.4,3021.1 2018.5,3032.3 2018.9,3033.6 2019.6,3033.6 2021.7,3058.1 2022,3055.8 2022.4,3055.3 2024.8,3072.8 2025.2,3065.2 2027.6,3085.3 2028,3073.1 2028.3,3077.8 2028.7,3074.6 2031.1,3085.7 2031.5,3092.7 2033.6,3082 2034.3,3088.3 2034.6,3087.8 2035.7,3081.9 2037.1,3095.2 2037.4,3090.2 2037.8,3094.2 2038.5,3083.9 2040.6,3087.2 2040.9,3096.9 2041.3,3098.4 2043.4,3080.3 2043.7,3086.3 2044.1,3095.4 2045.1,3100.9 2046.5,3083.1 2046.9,3090.6 2047.2,3091.8 2048.3,3084.6 2049.3,3100.1 2049.7,3090.4 2050,3090.9 2050.7,3080.3 2052.5,3104 2052.8,3095.9 2053.2,3107.2 2055.3,3085 2056,3099.2 2056.3,3091.4 2059.1,3104.4 2059.5,3091 2060.2,3088.9 2060.9,3102.9 2062.3,3097.3 2062.6,3090.1 2064.4,3096.8 2064.7,3089.2 2065.4,3093.9 2065.8,3097.3 2066.1,3101.4 2067.2,3087.7 2068.6,3097.2 2068.9,3087.5 2069.6,3086.3 2070.7,3100.9 2071.7,3092 2072.1,3104.4 2073.8,3086.9 2074.9,3101.4 2075.2,3090.9 2075.9,3103.9 2076.6,3086.6 2078,3090.9 2078.4,3090.4 2078.7,3103.7 2081.2,3096.9 2081.5,3101.3 2082.2,3088.5 2084.3,3101.7 2084.7,3097.8 2086.4,3095.3 2087.5,3101.8 2087.8,3097.4 2088.2,3085.3 2090.6,3088.5 2091,3093 2092.4,3088.4 2093.1,3100.2 2093.4,3098.4 2093.8,3092.9 2095.9,3090.5 2096.2,3103.1 2096.6,3092.7 2096.9,3096.4 2098.3,3093.1 2099.4,3102.4 2099.7,3096.6 2100.1,3097.3 2100.8,3091.8 2102.2,3107.8 2102.9,3094 2103.2,3093.6 2104.6,3106.1 2106,3091.9 2106.4,3102.3 2108.5,3092.5 2109.2,3098.9 2109.5,3101.5 2110.2,3101.8 2110.6,3091.2 2112.3,3096.6 2112.7,3101.2 2113,3106.7 2114.4,3088.6 2115.5,3093.8 2115.8,3096 2116.2,3089.3 2116.5,3100.1 2118.6,3089.8 2119,3096.9 2119.3,3102.6 2121.4,3089.3 2121.8,3092.7 2122.1,3098 2123.9,3104 2124.2,3094.8 2124.9,3099.5 2125.3,3103 2126.3,3096.8 2128.1,3098.2 2128.4,3092 2130.9,3100.7 2131.2,3095.8 2131.6,3103.5 2131.9,3107.4 2134,3093.6 2134.4,3097.3 2134.7,3099.8 2135.1,3101.5 2136.5,3089 2137.2,3090.1 2137.5,3092.7 2138.6,3087.8 2140,3104.2 2140.3,3091 2140.7,3088.8 2143.1,3105.9 2143.5,3093.9 2143.8,3091.5 2144.2,3104 2145.9,3088.2 2146.6,3098.4 2147,3097.9 2147.7,3090.3 2149.8,3100.1 2150.1,3093.6 2151.2,3099.2 2152.6,3087.6 2152.9,3093.1 2153.3,3090.1 2154.3,3104.9 2155.7,3087.4 2156.1,3101.5 2156.4,3099.3 2156.8,3088.4 2157.8,3102.5 2159.2,3100.4 2159.6,3099.2 2160.6,3103.8 2161,3087.8 2162.4,3097.2 2162.7,3100.7 2164.5,3089.5 2165.5,3092.6 2165.9,3097.6 2166.2,3090.4 2166.9,3102 2168.7,3099 2169,3097 2170.4,3103.5 2171.8,3089.9 2172.2,3099.5 2172.5,3087 2172.9,3101.6 2175,3094.6 2175.3,3098.5 2175.7,3086.1 2177.4,3105.7 2178.1,3096.7 2178.5,3093.1 2179.9,3104.5 2180.6,3091.3 2180.9,3101.9 2181.3,3092.3 2182,3104.8 2182.3,3090.7 2184.1,3098.6 2184.4,3105.8 2187.2,3088 2187.6,3099.9 2190,3102.5 2190.4,3091.3 2190.7,3101.5 2191.1,3105.2 2192.5,3093.9 2193.5,3100.2 2193.9,3102.1 2194.2,3102.2 2196.7,3091.4 2197,3095.1 2198.1,3102.9 2198.4,3091.7 2199.8,3097.8 2200.2,3090.1 2201.2,3098.2 2202.3,3084.8 2203,3096 2203.3,3093.6 2205.4,3100.3 2205.8,3089 2206.1,3090.3 2206.5,3093.7 2207.9,3104.3 2208.2,3091.3 2209.3,3096.5 2209.6,3097.2 2211,3093.6 2211.4,3101.7 2212.4,3097.3 2212.8,3092.1 2213.8,3105.1 2215.2,3088 2215.6,3095 2215.9,3095.1 2216.3,3104.1 2217.3,3094.7 2218.7,3099 2219.1,3102.4 2220.5,3087.3 2221.2,3105.1 2221.9,3093.9 2222.2,3098.4 2222.9,3093.6 2223.6,3101.4 2224.7,3095.6 2225,3094.2 2225.4,3105 2225.7,3085.9 2227.8,3099.9 2228.2,3096.3 2229.2,3108.9 2231,3088.7 2231.3,3094.5 2231.7,3106.6 2232.7,3089.1 2234.1,3101.2 2234.5,3095.2 2236.9,3102.9 2237.3,3088.9 2237.6,3093.7 2239.4,3103.2 2240.4,3096.8 2240.8,3094.5 2241.8,3104.1 2242.5,3091.9 2243.6,3102.1 2243.9,3096 2244.3,3091.2 2245.7,3102.8 2246.7,3093.1 2247.1,3096.4 2247.8,3091.1 2249.2,3100.4 2249.9,3094.5 2250.2,3097.3 2252.7,3087.4 2253,3100.7 2253.4,3095.4 2253.7,3103.7 2255.8,3090.7 2256.2,3099.8 2256.5,3089.1 2257.6,3104.5 2259.3,3090.3 2259.7,3095.1 2260,3089.2 2260.4,3098.7 2262.5,3090.8 2262.8,3102.9 2265.6,3092.1 2266,3094.1 2266.3,3087.6 2266.7,3103.2 2268.4,3096.6 2268.8,3098.2 2270.5,3100.6 2271.2,3087.9 2271.6,3094.2 2271.9,3100.2 2273.3,3093.1 2274,3105.8 2274.7,3096 2275.1,3097.9 2276.1,3090.1 2277.5,3105.1 2277.9,3098.4 2278.2,3096.9 2280,3101.1 2281,3088.3 2281.4,3110.1 2283.5,3093.4 2284.2,3093.7 2284.5,3101.3 2285.2,3103.2 2285.9,3091.3 2287.3,3097.8 2287.7,3091.8 2289.4,3100 2290.5,3090.4 2290.8,3103 2292.6,3088.9 2293.6,3091.7 2294,3091.6 2296.4,3101 2296.8,3088.4 2297.1,3103.3 2297.5,3093.1 2299.9,3094.4 2300.3,3090.2 2302.7,3105.7 2303.1,3100.3 2303.4,3095.4 2304.8,3091.1 2305.9,3101.3 2306.2,3099.8 2306.6,3100.9 2309,3091.1 2309.4,3091.6 2309.7,3104.5 2310.1,3092.2 2310.4,3105.5 2312.2,3099.2 2312.5,3091.3 2314.6,3106.9 2315.3,3093.8 2315.7,3095.1 2316.7,3087.9 2317.8,3107 2318.5,3103.2 2318.8,3105.6 2319.9,3093.2 2321.6,3095.3 2322,3106 2324.4,3091.2 2324.8,3095.7 2325.1,3094.2 2326.9,3092.5 2327.2,3106.5 2327.9,3097.2 2328.3,3098.4 2330.4,3094 2331.1,3100.2 2331.4,3105.7 2332.8,3094 2334.2,3096.3 2334.6,3103.8 2336.3,3087.8 2337.4,3089.3 2337.7,3097.8 2338.1,3089.6 2340.5,3104.5 2340.9,3097.3 2342.3,3099.2 2343,3089.2 2343.7,3098.3 2344,3091.9 2344.4,3101 2345.8,3087.1 2346.8,3094.8 2347.2,3092.2 2350,3106.4 2350.3,3093.5 2352.4,3104.4 2353.1,3088.4 2353.5,3096.1 2354.9,3105.6 2355.2,3094.9 2355.9,3099.2 2356.3,3097 2358,3103.4 2358.4,3087 2359.1,3098.1 2359.4,3101.8 2360.1,3090.2 2362.2,3095.8 2362.6,3109.9 2363.6,3095.3 2365.4,3098.8 2365.7,3100.5 2366.4,3109.9 2367.5,3093.3 2368.5,3096.1 2368.9,3094.9 2369.6,3099.6 2371.7,3093.2 2372,3098.1 2373.4,3089.6 2373.8,3103.6 2374.8,3096.1 2375.2,3097.8 2376.9,3103 2377.6,3090.7 2378,3097.1 2378.3,3092.3 2379.4,3101.3 2380.4,3088 2381.1,3100.6 2381.5,3091.3 2381.8,3104.7 2382.2,3084 2384.3,3103.4 2384.6,3100.9 2385.7,3090.1 2387.4,3093.9 2387.8,3095.7 2389.2,3102.3 2389.5,3091.7 2390.6,3093.7 2390.9,3100.4 2391.6,3104.4 2392.7,3092.3 2393.7,3100.6 2394.1,3100.7 2394.4,3102.4 2396.5,3088 2396.9,3099.7 2397.2,3093.3 2398.6,3091.6 2399,3100.8 2399.7,3096.2 2400,3096.2 2401.1,3104.2 2402.5,3084 2402.8,3098.9 2403.2,3099 2404.2,3086.1 2404.9,3106.4 2406,3098.2 2406.3,3098.2 2407.4,3107.5 2409.1,3085.5 2409.5,3097.2 2410.2,3089.5 2411.9,3105.3 2412.3,3096 2412.6,3092 2413.7,3101.7 2415.4,3101 2415.8,3101.3 2417.5,3104.2 2418.6,3091.5 2418.9,3095.7 2419.6,3093.2 2420.7,3102.4 2421.7,3097 2422.1,3096.1 2423.1,3094.3 2424.2,3099.6 2424.9,3098.9 2425.2,3108 2425.6,3093.7 2428,3100.9 2428.4,3086.5 2431.2,3104 2431.5,3098 2432.2,3101.2 2432.6,3092.6 2434.3,3095.8 2434.7,3095 2435.7,3102.6"/>
<polyline class="c" stroke="#FF7F27" points="412.4,2661.5 412.7,2662.9 413.8,2682 414.1,2660 415.5,2666.5 415.9,2675 416.6,2687.1 418.3,2659.2 418.7,2663.2 419,2668.9 419.7,2662.1 421.5,2686.1 421.8,2672.8 422.2,2665.1 422.9,2684.8 424.3,2654.8 425,2670.8 425.3,2664.9 427.8,2686.6 428.1,2689.5 429.2,2692.7 429.5,2683.1 430.9,2686 431.3,2667.9 432.3,2666.4 433,2693.8 434.1,2686.5 434.4,2680.8 434.8,2678.5 437.2,2699.4 437.6,2693.5 439.7,2682.8 440,2696.6 440.4,2695.8 440.7,2694.8 441.4,2674.1 441.8,2704 443.5,2700.6 443.9,2695.4 446,2688.9 446.3,2706.9 446.7,2703.6 447,2695 449.5,2707.4 449.8,2705.4 450.2,2712.3 451.2,2719.6 453,2698.6 453.3,2701.6 453.7,2691 455.4,2709.7 456.1,2695.8 456.5,2707.2 457.2,2696 458.9,2713.1 459.3,2701.6 459.6,2705.4 461,2701.4 462.1,2717.9 462.4,2717.1 462.8,2706.1 465.2,2729.2 465.6,2704.2 465.9,2711.4 467.3,2719.4 468.7,2699.7 469.1,2714.1 469.4,2703.6 471.5,2725.6 471.9,2714.4 473.3,2707.5 474,2718.9 474.7,2711.1 475,2709.7 476.1,2703.8 477.5,2727.5 477.8,2711.5 478.2,2719.1 479.2,2720.2 480.3,2704.8 481,2709.2 481.3,2720.7 482.7,2721.6 483.4,2709.8 484.1,2714.2 484.5,2715.2 485.5,2724.2 487.3,2712 487.6,2715.2 488,2712 489,2735 490.4,2717.4 490.8,2718.9 491.1,2732.4 493.6,2712 493.9,2727.6 495,2712.9 496,2737 496.7,2722.4 497.1,2723.4 498.5,2726.8 498.8,2716.1 499.9,2718.6 500.2,2712.1 501.6,2728.5 503,2725.9 503.4,2719.9 503.7,2716 504.4,2739 506.2,2721.2 506.5,2732.7 507.6,2712.4 508.6,2741.5 509.3,2727.3 509.7,2716.4 511.4,2708.3 512.1,2730.9 512.5,2718.5 512.8,2727.8 513.5,2732.9 513.9,2714.3 515.3,2726 515.6,2717.2 516.3,2729.6 518.4,2713.6 518.8,2715.5 520.5,2739.5 521.6,2722.2 521.9,2730.4 524.4,2736 524.7,2717.6 525.1,2733.2 525.4,2727.6 526.1,2741.7 527.9,2739.9 528.2,2730.6 528.9,2742 529.6,2719.7 531,2726.7 531.4,2740.2 532.4,2726.6 533.8,2745 534.2,2743.7 534.5,2739 535.6,2711.9 537.3,2751.9 537.7,2728.5 538.4,2722.2 539.1,2742 540.5,2741.8 540.8,2721.5 542.6,2741.5 543.6,2732.5 544,2728.4 544.7,2728.1 546.1,2742.9 546.8,2741.4 547.1,2728 548.9,2746.9 549.2,2726.1 549.9,2740.5 550.3,2735.5 550.6,2727.9 551.7,2750.7 553.1,2731.9 553.4,2737.5 554.1,2751.7 554.5,2730 556.2,2737.3 556.6,2740.2 558.3,2752.7 558.7,2731.4 559,2744.6 559.4,2750.8 559.7,2730.5 561.5,2750.9 562.2,2742.6 562.5,2733.8 563.9,2752.8 564.6,2733.7 565.3,2748.5 565.7,2745 566.4,2737.2 567.1,2753.2 568.5,2740.9 568.8,2737 570.6,2732 571.3,2748.1 571.6,2734.9 572,2736.3 572.3,2733.2 574.1,2759.9 574.8,2740.2 575.1,2741.7 576.5,2731.8 577.2,2752.7 577.9,2748.9 578.3,2746.3 578.6,2754.1 580.7,2742.8 581.1,2743.4 581.4,2752 581.8,2757.5 582.5,2740 584.2,2753.9 584.6,2741.8 584.9,2755.7 585.6,2733.1 587.4,2743.5 587.7,2746.4 589.1,2764.2 589.8,2741.8 590.5,2751.8 590.9,2743 591.9,2735 593,2754.5 593.7,2746.4 594,2752.1 595.1,2759.8 596.5,2741.4 596.8,2755.8 597.2,2755 598.2,2761.8 600,2739.5 600.3,2746.5 600.7,2738.1 601.7,2752.5 602.8,2750 603.1,2736.2 604.5,2764.5 605.2,2735.3 605.9,2747.8 606.3,2752.4 607.7,2735.4 608.4,2761.8 609.1,2760.2 609.4,2763.2 610.8,2750 611.2,2768.2 612.2,2759.6 612.6,2763.2 612.9,2744.1 615.4,2758.5 615.7,2751.7 618.2,2760.3 618.5,2744.9 618.9,2742.4 619.2,2757.6 621.7,2735.7 622,2758.2 622.4,2742.1 624.8,2759.9 625.2,2755.3 626.9,2761 627.6,2746.7 628,2748.6 628.3,2748.1 628.7,2762.5 631.1,2749.9 631.5,2761.3 632.5,2747.4 633.9,2766.1 634.3,2753.1 634.6,2755.7 635.3,2767.5 635.7,2745.2 637.4,2749.9 637.8,2747.2 640.6,2770 640.9,2751.1 641.6,2767 643,2742.1 643.7,2759.3 644.1,2746.2 644.4,2767.5 646.5,2763.8 646.9,2766 647.2,2743 649,2773 649.7,2763.8 650,2758.5 651.1,2750.3 652.1,2777.5 652.8,2751.7 653.2,2749.5 654.6,2765.6 655.6,2747 656,2753.7 656.3,2757.1 656.7,2742.2 657.4,2764.1 659.1,2758.3 659.5,2754.2 660.9,2749 661.6,2769.5 662.3,2756.2 662.6,2752.8 663.7,2745.6 664.4,2768.7 665.4,2752.1 665.8,2756.6 666.8,2739.5 667.5,2756.8 668.6,2752.2 668.9,2771.1 670,2747.5 671.7,2755.3 672.1,2757.5 673.5,2762.6 674.5,2747.5 674.9,2749.9 675.2,2763 676.3,2766.1 677.7,2732.9 678,2742.9 678.4,2742.3 679.4,2737.2 680.5,2754.2 681.2,2743.1 681.5,2733.9 681.9,2745.7 684,2706.9 684.3,2709.3 684.7,2700.7 686.4,2679.5 687.5,2689.4 687.8,2701.5 688.5,2701 690.3,2733.3 690.6,2723 693.4,2749.2 693.8,2748.7 694.5,2763.9 695.5,2742.1 696.6,2755.4 696.9,2743 699.4,2759.1 699.7,2750.7 700.1,2756.7 700.8,2761.1 701.8,2749 702.9,2751.4 703.2,2761.6 704.3,2762.8 704.6,2741.4 706,2754.9 706.4,2744.5 706.7,2755.8 707.4,2742.5 709.2,2752.6 709.5,2742.3 711.3,2765.5 711.6,2741.1 712.3,2749.1 712.7,2748.8 713,2748.6 714.4,2758.5 715.5,2753.4 715.8,2752.2 716.2,2761.3 718.6,2730.9 719,2742.4 720.7,2748.4 721.4,2734.5 721.8,2747.5 722.1,2757 724.9,2729 725.3,2750.8 727,2731.8 728.1,2736.9 728.4,2745.5 730.5,2720.3 731.2,2730 731.6,2723 732.3,2730.6 733.7,2707.3 734,2719.7 734.4,2701.3 734.7,2713.2 737.2,2676.7 737.5,2666.6 738.9,2659.1 740.3,2675.8 740.7,2679.4 742.8,2698.3 743.5,2691.2 743.8,2697.9 744.9,2680.2 746.6,2691.4 747,2691.1 747.7,2695.9 749.8,2676.6 750.1,2677.1 752.6,2645.9 752.9,2647.6 753.3,2641.5 754,2646.2 755.7,2591.5 756.1,2593 756.4,2568.2 759.2,2455.8 759.6,2430.7 762.4,2160.4 762.7,2113.6 765.5,1843.4 765.9,1847.8 768.7,2124.8 769,2170.8 771.8,2429.4 772.2,2454.1 775,2589 775.3,2597.2 775.7,2597 777.8,2636.7 778.1,2643.5 780.9,2683.2 781.3,2677.7 781.6,2677.2 784.1,2702.4 784.4,2705.3 786.9,2721.7 787.2,2710.3 787.6,2712 788.3,2710.3 789,2733.6 790.4,2721.9 790.7,2731.8 791.4,2721.1 792.1,2738.3 793.5,2729.2 793.9,2737.5 795.6,2728.9 796.3,2746.2 796.7,2744.5 797,2746.4 798.8,2736.4 799.1,2751.1 799.8,2741.3 800.2,2749.5 800.5,2760.7 803,2735.6 803.3,2748.1 804.4,2757.6 805.1,2738.9 806.1,2752.2 806.5,2758.3 806.8,2747.3 808.2,2761.3 809.3,2752.7 809.6,2754.3 810,2756.3 810.3,2742.7 812.4,2756.3 812.8,2754 814.5,2752.5 814.9,2761.8 815.6,2758.8 815.9,2762.5 816.6,2748.3 817.3,2770.1 818.7,2759.2 819.1,2765.2 820.1,2745.7 821.5,2764.4 821.9,2767 824.3,2747.4 824.7,2758.2 825,2758.4 826.1,2751.4 827.8,2771.4 828.2,2764.2 830.6,2756.8 831,2767.7 831.3,2763.4 832.4,2774.1 833.1,2756.7 834.1,2758.1 834.5,2764.7 835.9,2756.1 836.2,2772.4 837.3,2760.7 837.6,2771.6 839.4,2762.7 839.7,2775.3 840.4,2771.6 840.8,2756.4 841.1,2755.1 841.5,2777.2 843.6,2765 843.9,2778.6 845.3,2758.8 845.7,2782.6 846.7,2766 847.1,2766.7 848.1,2772.2 849.9,2756.9 850.2,2768.2 851.3,2785.3 851.6,2762.5 853,2776.7 853.4,2770.6 854.1,2778.2 855.1,2760.4 856.2,2775.8 856.5,2780.4 856.9,2765.1 859.3,2765.4 859.7,2772.1 860,2760.1 862.1,2783.4 862.5,2764.6 862.8,2781.6 864.6,2765.4 865.3,2777 865.6,2775.3 868.4,2765.8 868.8,2779.7 869.1,2788.4 870.9,2766.9 871.6,2774.2 871.9,2767.7 873.7,2782.1 874.7,2772.4 875.1,2769.9 875.4,2767.5 875.8,2783.9 877.9,2772.3 878.2,2768.5 878.9,2765.7 881,2785.9 881.4,2773 882.4,2779.7 882.8,2756.5 884.2,2773.2 884.5,2772 885.2,2779.1 887,2765.3 887.3,2771.8 887.7,2766.4 889.8,2780.2 890.5,2774.6 890.8,2775.1 891.2,2781 893.6,2766.8 894,2762.1 894.3,2775.9 896.8,2770.8 897.1,2765.1 898.2,2778.1 899.9,2755.2 900.3,2763.3 903.1,2729.8 903.4,2725.4 906.2,2761.5 906.6,2766.8 907.3,2759.5 908.7,2775.4 909,2770.9 909.4,2772.8 911.5,2760.3 911.8,2781.9 912.2,2768.4 912.5,2786.8 913.9,2769.6 915.3,2775 915.7,2776.1 916.4,2783.5 918.5,2769 918.8,2772 919.2,2773.1 920.6,2759.3 921.6,2772.7 922,2773.7 923,2787.7 924.4,2768.7 924.8,2774.2 925.1,2770.3 925.8,2779.2 926.2,2768.4 927.9,2772.2 928.3,2774 929.3,2783.1 930.7,2763.8 931.1,2775.6 931.4,2768.6 931.8,2784.3 933.9,2764 934.2,2776.6 934.6,2778.1 934.9,2778.1 936.7,2768.4 937.4,2774.8 937.7,2768.9 938.4,2776.2 940.5,2763.8 940.9,2768.3 941.2,2773.7 943.3,2743.5 943.7,2755.3 944,2771.9 946.8,2742.5 947.2,2741.5 948.2,2750.6 949.3,2737.9 950,2739.8 950.3,2744.9 950.7,2738.1 952.4,2755.1 952.8,2751.9 953.1,2743.6 955.9,2768.1 956.3,2765.8 957,2754.8 958.7,2779.1 959.1,2760.7 959.4,2778.6 961.5,2759.8 962.2,2765.4 962.6,2772.6 963.6,2769.9 964.7,2786.2 965.4,2775 965.7,2778.8 967.1,2765 968.5,2785.3 968.9,2788.6 969.9,2772 971.7,2794.4 972,2775.1 973.4,2765.4 974.5,2790.6 974.8,2780 975.2,2773.7 975.9,2785.8 976.2,2772.2 978,2777.3 978.3,2785.2 979,2792.3 980.8,2774.8 981.1,2790.7 981.5,2769 983.2,2796 984.3,2779.2 984.6,2778.8 985,2790.8 985.7,2777.8 987.4,2789.4 987.8,2775.4 988.8,2775 989.5,2792.1 990.6,2782.3 990.9,2784.6 992.3,2782.1 993.4,2794.2 993.7,2793.1 994.1,2787.1 995.1,2769.2 995.5,2789.7 996.5,2784.7 996.9,2776 998.3,2797.8 999.7,2778.6 1000,2786.9 1000.7,2775.7 1001.4,2796.4 1002.8,2786.5 1003.2,2780.7 1004.9,2779.9 1005.6,2794.5 1006,2781.2 1006.3,2781 1008.4,2778.4 1009.1,2791.7 1009.5,2789.8 1010.2,2792.3 1011.2,2775.4 1012.3,2782.7 1012.6,2782.3 1013,2778.8 1015.1,2790.2 1015.4,2778.9 1015.8,2791.5 1016.5,2777 1017.2,2798.4 1018.6,2787.5 1018.9,2780.8 1020.3,2786.7 1021.7,2780.5 1022.1,2777.5 1022.8,2790.5 1024.2,2777.2 1024.9,2778.9 1025.2,2775.3 1026.6,2766.5 1028,2790.2 1028.4,2771.5 1029.1,2781.4 1029.4,2760.3 1031.2,2761.5 1031.5,2748.4 1032.2,2752.8 1034.3,2721.6 1034.7,2720.1 1037.5,2677.5 1037.8,2666.2 1038.5,2659.2 1040.3,2677.2 1040.6,2692.4 1043.4,2747.8 1043.8,2743.9 1045.2,2769.3 1046.6,2766.2 1046.9,2771 1047.3,2759.6 1049.4,2782.2 1049.7,2779.5 1050.1,2780.3 1051.1,2771.8 1051.5,2788.9 1052.9,2774.3 1053.2,2777.8 1054.3,2777.5 1056,2788.9 1056.4,2789.4 1058.5,2794.4 1058.8,2780.1 1059.2,2786.3 1059.5,2789.2 1059.9,2777.6 1062.3,2795 1062.7,2780.2 1063.4,2796.5 1065.5,2784.4 1065.8,2789.5 1068.3,2806.5 1068.6,2789.5 1069,2786.5 1070.4,2780.8 1071.8,2801.1 1072.1,2789.5 1074.2,2787.4 1074.9,2805 1075.3,2784.6 1076.3,2800.6 1078.1,2799.2 1078.4,2788.1 1079.1,2798.4 1080.2,2786.5 1081.2,2791.4 1081.6,2795.7 1083,2801.8 1083.7,2786.9 1084,2801.4 1084.4,2796.3 1084.7,2782.1 1086.1,2807.7 1087.2,2791.8 1087.5,2789.6 1088.2,2788.1 1090.3,2801.1 1090.7,2794 1092.1,2783.7 1093.5,2797.7 1093.8,2791.8 1095.9,2805 1096.6,2786 1097,2798.8 1097.7,2788.2 1098.4,2804.5 1099.8,2798.3 1100.1,2790.2 1101.9,2785.7 1102.2,2807.6 1102.9,2792.1 1103.3,2795.5 1104,2794.6 1104.3,2803.6 1106.1,2797.8 1106.4,2788.5 1108.5,2805.2 1108.9,2786.1 1109.2,2798.2 1109.6,2792.5 1110.3,2800.6 1111.7,2784.4 1112.4,2789.5 1112.7,2794.7 1113.4,2798.3 1115.2,2783.9 1115.5,2796.8 1115.9,2788.7 1117.3,2800.4 1118.7,2797.1 1119,2788.9 1120.8,2781.7 1121.5,2808.8 1121.8,2789.8 1122.2,2798.6 1123.9,2788.2 1124.3,2804.9 1125,2801.8 1125.3,2786.5 1126,2784.1 1126.4,2799.6 1127.8,2795.4 1128.1,2795.7 1128.8,2789.2 1129.5,2800.3 1130.9,2797.1 1131.3,2787.8 1131.6,2805.1 1133,2784.8 1134.1,2795.3 1134.4,2785.1 1137.2,2810.2 1137.6,2801.5 1138.3,2777.7 1140.4,2791.8 1140.7,2800.4 1142.5,2782.7 1143.5,2793.7 1143.9,2794.4 1144.9,2788.2 1146.3,2797.4 1146.7,2790.7 1147,2789.1 1148.4,2776.8 1149.1,2792.8 1149.8,2782.9 1150.2,2783.2 1150.5,2792.7 1152.6,2772 1153,2790.4 1153.3,2795.7 1155.1,2773.1 1156.1,2778.9 1156.5,2777.9 1157.9,2780.2 1158.2,2761 1159.3,2773.6 1159.6,2763.8 1160.3,2767.2 1161.4,2741.9 1162.4,2753 1162.8,2742.7 1163.5,2745.5 1165.6,2713.1 1165.9,2715.9 1168,2685.1 1168.7,2686 1169.1,2682.7 1170.1,2675.2 1171.5,2686.2 1171.9,2688.9 1174.7,2712.9 1175,2718 1177.8,2741.1 1178.2,2734 1181,2759.2 1181.3,2762.1 1182.7,2747.4 1184.1,2748.4 1184.5,2755.4 1185.9,2739.5 1187.3,2744.6 1187.6,2745.3 1190.1,2711.3 1190.4,2729.3 1190.8,2708.2 1193.6,2642.1 1193.9,2639 1196.7,2518.7 1197.1,2510.9 1198.1,2483.8 1199.9,2523.2 1200.2,2536 1203,2661.6 1203.4,2660.7 1206.2,2723.7 1206.5,2729 1206.9,2716.3 1209.3,2757.5 1209.7,2757.5 1211.4,2778 1212.5,2775.6 1212.8,2784.5 1213.9,2771 1215.3,2777.9 1215.6,2779.7 1217.7,2777.3 1218.4,2790.6 1218.8,2791.5 1219.1,2782.2 1220.2,2800.1 1221.6,2787.8 1221.9,2786.6 1224.4,2798.8 1224.7,2798.5 1225.1,2788.5 1225.8,2807.4 1227.5,2786 1227.9,2794.4 1228.2,2796.6 1230,2803.2 1230.3,2788.8 1231,2800.6 1231.4,2798.3 1232.1,2789 1232.4,2807.3 1234.2,2800.7 1234.5,2803.5 1235.6,2803.6 1236.6,2796 1237.3,2798.1 1237.7,2797.8 1239.4,2794 1239.8,2810.4 1240.5,2795.7 1240.8,2788.8 1241.2,2804.5 1242.2,2782.7 1243.6,2793.7 1244,2793.8 1245,2797.1 1246.8,2784.3 1247.1,2786.4 1247.8,2779.1 1249.6,2789.7 1249.9,2783.4 1250.3,2787.9 1252,2805 1253.1,2802.8 1253.4,2801.1 1253.8,2796.3 1256.2,2809.2 1256.6,2792.3 1256.9,2815.7 1259,2799.5 1259.4,2798.6 1259.7,2809.1 1260.4,2794.4 1262.2,2803.8 1262.5,2811.4 1263.6,2805.6 1264.3,2813.2 1265.3,2810.2 1265.7,2803.5 1266.4,2810.5 1267.4,2796.4 1268.5,2804.4 1268.8,2809.5 1269.5,2803.1 1271.6,2817.1 1272,2806.1 1272.7,2815.2 1274.1,2801.9 1274.8,2815 1275.1,2811.8 1275.8,2816.2 1276.5,2805.6 1277.9,2811 1278.3,2803.9 1281.1,2819.6 1281.4,2814.4 1282.8,2801.7 1283.5,2819.2 1284.2,2804 1284.6,2811.8 1286,2819.4 1287,2802.9 1287.4,2814.1 1287.7,2820.3 1288.4,2804.9 1290.5,2814 1290.9,2809.7 1291.9,2803.7 1292.6,2822.9 1293.7,2815.2 1294,2817.4 1294.4,2807.5 1296.5,2817.9 1296.8,2810.6 1297.2,2824.2 1299.3,2807.5 1300,2810.2 1300.3,2811.2 1300.7,2803.2 1301.4,2828.7 1302.8,2815.3 1303.1,2809 1304.2,2800.2 1304.9,2821.1 1305.9,2813.7 1306.3,2799.1 1309.1,2823.3 1309.4,2811.4 1309.8,2810.4 1311.2,2822.2 1312.2,2810.4 1312.6,2801.4 1314,2825.5 1315.4,2809.9 1315.7,2816.1 1316.8,2826 1317.5,2809.1 1318.5,2814.8 1318.9,2814.6 1319.9,2822.8 1321,2807.5 1321.7,2809.6 1322,2817.2 1323.8,2820.2 1324.1,2804.1 1324.8,2807 1325.2,2806.9 1325.9,2819.5 1327.6,2804 1328,2815.2 1328.3,2806.2 1329,2820.3 1329.4,2795.7 1331.1,2812.5 1331.5,2808.3 1333.2,2826.3 1334.3,2803.4 1334.6,2806.2 1336.4,2819.8 1337.1,2802.8 1337.4,2818.2 1337.8,2804.7 1340.2,2819.7 1340.6,2801.3 1340.9,2813.5 1341.3,2804.2 1343.4,2818.6 1343.7,2812.6 1344.1,2815.4 1345.5,2798.5 1346.5,2805.2 1346.9,2814.5 1349.3,2795.4 1349.7,2803.5 1350,2813.3 1352.1,2792.6 1352.8,2799.5 1353.2,2800.2 1354.6,2785.4 1354.9,2801.7 1356,2790.6 1356.3,2791.4 1358.4,2784.4 1358.8,2799.4 1359.1,2789.7 1359.5,2784.7 1359.8,2779 1362.3,2795.8 1362.6,2806.7 1363.3,2791 1365.4,2811.4 1365.8,2804.2 1366.1,2793.6 1366.8,2808.6 1368.6,2794.8 1368.9,2821.1 1369.3,2799.5 1371.7,2800.4 1372.1,2810.2 1373.8,2799.1 1374.2,2817.9 1374.9,2811.2 1375.2,2801 1377,2820.8 1377.3,2800.4 1378,2801.8 1378.4,2808.8 1378.7,2814.8 1379.8,2801.1 1381.2,2810.1 1381.5,2805.3 1383.6,2826.6 1384,2794.7 1384.3,2808.4 1384.7,2809.2 1387.1,2801.6 1387.5,2815.7 1387.8,2809.5 1388.2,2817.2 1390.3,2807.3 1390.6,2814.3 1391.7,2807.6 1392.7,2815.4 1393.4,2812.7 1393.8,2807.7 1395.2,2819 1395.5,2803.2 1396.6,2812.9 1396.9,2822.8 1398,2802.6 1399.7,2810.5 1400.1,2807.7 1401.1,2796.7 1402.2,2814 1402.9,2801.2 1403.2,2814 1404.3,2817.2 1405,2801.2 1406,2805.3 1406.4,2796.6 1406.7,2811.6 1409.2,2788.8 1409.5,2796.6 1411.6,2807.9 1412.3,2788.8 1412.7,2805 1413.4,2792 1415.5,2798.5 1415.8,2797.3 1417.6,2803.5 1418.6,2793.7 1419,2791.7 1419.3,2803.2 1421.4,2776 1421.8,2787.9 1422.1,2779.1 1422.5,2785.8 1424.9,2748.3 1425.3,2743.5 1427.4,2722.4 1428.1,2731.6 1428.4,2734.1 1431.2,2773.6 1431.6,2784.5 1431.9,2772.4 1434.4,2798.3 1434.7,2792.3 1435.4,2790.5 1436.8,2806.2 1437.2,2802 1437.5,2809.7 1438.9,2814 1440.3,2799 1440.7,2809.6 1441,2801.6 1442.4,2819.1 1443.5,2813 1443.8,2805 1444.5,2818.6 1446.6,2806.8 1447,2818 1449.4,2804.8 1449.8,2816.5 1450.1,2811 1450.5,2801.3 1452.6,2824 1452.9,2817.2 1453.3,2815.2 1454,2826.3 1455.7,2799 1456.1,2812.4 1456.4,2811.8 1458.9,2827.2 1459.2,2820.3 1459.6,2820.1 1461,2803.1 1462.4,2813 1462.7,2811.5 1464.1,2807 1464.5,2825.9 1465.5,2811.5 1465.9,2821 1467.3,2821.3 1468.3,2809.3 1468.7,2811.2 1469,2809.5 1469.4,2818 1470.1,2796.5 1471.8,2817.6 1472.2,2809.1 1473.2,2795.8 1473.6,2817.5 1475,2810.8 1475.3,2810.4 1476.7,2811.8 1478.1,2801.9 1478.5,2803.5 1479.2,2818.1 1480.6,2801.8 1480.9,2808.1 1481.3,2796.7 1483.4,2818.9 1484.1,2808.6 1484.4,2796 1484.8,2816.4 1487.2,2815 1487.6,2817.1 1488.6,2824.7 1490.4,2805.9 1490.7,2815.6 1491.4,2824.4 1493.5,2809.3 1493.9,2810.6 1495.6,2821.8 1496.7,2812.1 1497,2824.8 1497.4,2807.4 1499.8,2811.6 1500.2,2819.6 1500.9,2825.3 1503,2807.1 1503.3,2808.9 1504.4,2826.3 1505.1,2808.6 1506.1,2812.2 1506.5,2814 1506.8,2803.7 1508.9,2822.7 1509.3,2811.8 1509.6,2828.2 1510.7,2831.9 1512.1,2809.8 1512.4,2824.4 1512.8,2817.4 1514.2,2821.2 1514.5,2801.2 1515.6,2812.9 1515.9,2815 1517,2821.8 1518,2798.6 1518.7,2816.3 1519.1,2816.5 1520.1,2819.6 1520.8,2798.2 1521.9,2815 1522.2,2808 1522.6,2813.4 1523.6,2806.9 1524.7,2810.5 1525,2798.8 1525.4,2807.7 1526.4,2785.5 1527.8,2799.4 1528.2,2792.2 1528.9,2784.8 1531,2808.5 1531.3,2793.9 1533.8,2816 1534.1,2806.9 1534.5,2808.7 1536.6,2807.6 1537.3,2819.6 1537.6,2807.8 1539,2803.8 1540.4,2820.1 1540.8,2800.5 1543.6,2821.2 1543.9,2818.1 1544.6,2801.3 1546.7,2829.2 1547.1,2818.2 1547.8,2827.3 1549.2,2811.6 1549.9,2823.3 1550.2,2815.9 1552.7,2811.4 1553,2825.3 1553.4,2816.6 1553.7,2814.1 1554.8,2828.3 1556.2,2818.2 1556.5,2821.3 1557.6,2807.4 1559.3,2822.9 1559.7,2817.3 1561.1,2814.5 1561.8,2820.5 1562.5,2818.9 1562.8,2825.6 1564.9,2812.1 1565.6,2819.9 1566,2822.3 1566.7,2831.4 1568.4,2806.5 1568.8,2820.9 1570.2,2815.2 1570.5,2823.2 1571.6,2815.7 1571.9,2815.4 1572.3,2826.1 1574,2811.6 1574.7,2816.7 1575.1,2814.7 1575.8,2832.2 1576.8,2812.1 1577.9,2823.7 1578.2,2824.4 1581,2809.2 1581.4,2808.6 1583.1,2833 1584.2,2817.9 1584.5,2821.9 1585.6,2811.3 1587,2822.5 1587.3,2817.3 1587.7,2817.3 1588.4,2814.3 1590.1,2822.5 1590.5,2819.5 1590.8,2817.3 1592.6,2811.9 1592.9,2830.7 1593.6,2828.9 1594,2810 1595.4,2803 1596.8,2819.8 1597.1,2815.6 1598.5,2811.8 1598.9,2820.4 1599.9,2816.2 1600.3,2817.3 1601.7,2826.7 1603.1,2811.7 1603.4,2829.9 1603.8,2809.7 1606.2,2815.1 1606.6,2820 1608.3,2822.3 1609,2811 1609.4,2820.4 1609.7,2819.8 1610.4,2825.6 1611.5,2803.2 1612.2,2824 1612.5,2811.5 1614.6,2805.4 1615.3,2822.5 1615.7,2818.3 1616,2807.9 1618.5,2823.1 1618.8,2812.6 1619.9,2828.4 1621.3,2809.8 1621.6,2821.5 1622,2824.5 1623,2809.2 1624.8,2818.5 1625.1,2821.6 1625.5,2813.3 1626.2,2826.3 1627.9,2820.4 1628.3,2812.9 1630.7,2822.7 1631.1,2819.3 1631.4,2813.3 1631.8,2824.1 1633.2,2807.9 1634.2,2814.7 1634.6,2814.9 1636,2809.6 1636.7,2818.3 1637.4,2815.5 1637.7,2813.5 1639.5,2808.8 1640.5,2822.7 1640.9,2814.1 1643,2809.4 1643.3,2824.3 1643.7,2822.4 1644,2817.7 1644.7,2819.8 1646.5,2809.1 1646.8,2816.6 1647.2,2817.7 1647.9,2806.9 1648.6,2827.8 1650,2807.6 1650.3,2815.3 1651,2825.6 1653.1,2805.5 1653.5,2815.8 1654.2,2814 1655.9,2823.5 1656.3,2816.1 1657.7,2807.8 1658.4,2818.7 1659.1,2815.2 1659.4,2818.8 1660.1,2825.5 1662.2,2801.7 1662.6,2817.7 1663.3,2822.2 1664,2806 1665.4,2813.4 1665.7,2821.2 1667.5,2831 1668.5,2804.2 1668.9,2805 1669.2,2820.8 1671.7,2811 1672,2823.7 1673.1,2807.5 1674.8,2818 1675.2,2821.1 1675.9,2812.4 1677.6,2824.5 1678,2817.5 1678.3,2814.4 1679,2822.9 1680.4,2811.7 1681.1,2812.3 1681.5,2811.5 1683.2,2808.2 1683.9,2817.3 1684.3,2812.2 1684.6,2823.6 1685,2826.4 1687.1,2803.6 1687.4,2816.4 1687.8,2818.7 1689.9,2819.2 1690.6,2805.2 1690.9,2811.7 1692.7,2809.3 1693,2818 1693.7,2816 1694.1,2809.6 1694.4,2803.7 1696.9,2819.6 1697.2,2820.6 1697.9,2822.1 1699.7,2799.1 1700,2820.1 1701.4,2805.5 1702.8,2805.7 1703.2,2813.9 1704.2,2820.3 1705.6,2804.5 1706,2807.1 1706.3,2812.3 1707.4,2796.8 1709.1,2817.3 1709.5,2813.2 1711.2,2821 1711.9,2809.5 1712.3,2817.8 1712.6,2815.9 1714,2803.8 1714.4,2816.2 1715.4,2805.8 1715.8,2811.7 1716.8,2819.3 1717.2,2796.3 1718.6,2796.6 1718.9,2809.3 1719.3,2825.4 1721,2803.1 1721.7,2820.4 1722.1,2816.6 1722.4,2807.4 1724.9,2811.4 1725.2,2810.4 1726.3,2801.2 1727.3,2811.3 1728,2810.8 1728.4,2808.6 1728.7,2801.1 1730.5,2811.3 1731.2,2809.8 1731.5,2807 1732.6,2796.1 1732.9,2817.3 1734.3,2807 1734.7,2807.7 1735.7,2798.7 1736.4,2810.7 1737.5,2805.3 1737.8,2804.5 1739.6,2798.6 1739.9,2805.4 1740.6,2798.7 1741,2798.2 1741.7,2794.6 1742.4,2812.3 1743.4,2809.6 1743.8,2797.8 1745.2,2812.3 1745.9,2789.1 1746.6,2796.9 1746.9,2790.5 1748,2809.6 1748.3,2788.1 1749.7,2804.2 1750.1,2797 1750.8,2789.9 1752.9,2808.6 1753.2,2795.2 1755,2786.5 1755.3,2800.8 1756,2798.8 1756.4,2785.2 1758.1,2802.2 1758.5,2782.3 1759.2,2798.2 1759.5,2784.6 1761.3,2781.9 1761.6,2793.4 1762.3,2786.4 1762.7,2790 1764.8,2791 1765.1,2777.7 1765.5,2785.1 1765.8,2783.1 1766.5,2801 1767.2,2777.9 1768.6,2786.1 1769,2790.6 1769.7,2781.2 1770.4,2798 1771.8,2787.7 1772.1,2788.1 1772.5,2797.3 1773.9,2785.7 1774.9,2788.6 1775.3,2783.9 1777.7,2796.9 1778.1,2795 1778.4,2797.4 1780.5,2804.5 1781.2,2785.8 1781.6,2795.9 1781.9,2803.1 1783,2788.8 1784.4,2795.6 1784.7,2791.3 1785.4,2789 1785.8,2809 1787.2,2800.6 1787.5,2795.1 1789.6,2794 1790,2808.9 1790.3,2802.2 1790.7,2801.6 1791.4,2797.7 1793.5,2813 1793.8,2800.3 1794.2,2796.2 1796.3,2815.2 1796.6,2805.5 1797,2804.3 1799.1,2800 1799.4,2818.2 1799.8,2803.7 1800.1,2807.2 1801.2,2816 1801.5,2794.4 1802.9,2812.5 1803.3,2811.1 1805.7,2793.7 1806.1,2818.9 1806.4,2807.5 1807.5,2814.5 1808.5,2802.1 1809.2,2804.5 1809.6,2808.8 1810.6,2814 1811.7,2799.4 1812.4,2805.5 1812.7,2808.3 1814.8,2806 1815.5,2817.4 1815.9,2811.7 1816.6,2816.6 1818.7,2800.3 1819,2805.1 1820.1,2818.6 1821.8,2799.3 1822.2,2802.6 1822.9,2794 1824.6,2812.2 1825,2810.7 1825.3,2806.8 1826,2811.2 1827.1,2803.4 1828.1,2806.2 1828.5,2798.6 1830.9,2813.4 1831.3,2806.6 1832.7,2798.9 1833.4,2809.3 1834.1,2804.1 1834.4,2811.3 1836.2,2788.1 1837.2,2800.8 1837.6,2800.9 1840,2785.3 1840.4,2791.7 1840.7,2782.1 1841.1,2784.7 1843.2,2749.9 1843.5,2753.7 1843.9,2742.1 1846,2724.5 1846.7,2725.7 1847,2735.2 1849.8,2771.5 1850.2,2767.6 1852.6,2795.1 1853,2792.3 1853.3,2790.1 1855.1,2804 1855.4,2787.9 1856.1,2799.5 1856.5,2798 1858.6,2812.5 1859.3,2811.2 1859.6,2798.8 1860.7,2813.9 1862.4,2802.8 1862.8,2818.1 1863.1,2805.2 1865.6,2810.1 1865.9,2816.7 1866.6,2802.8 1868.7,2806.8 1869.1,2813 1870.5,2801.2 1871.5,2822.6 1871.9,2807.9 1872.2,2814.7 1872.6,2804.1 1872.9,2823.5 1874.7,2805 1875,2815.1 1875.4,2799.9 1876.1,2821.7 1877.8,2810.2 1878.2,2808.9 1879.2,2807.1 1881,2824.5 1881.3,2797.2 1884.1,2819.8 1884.5,2823.5 1886.9,2804.3 1887.3,2815.6 1887.6,2805.9 1888.7,2822.3 1890.4,2808.8 1890.8,2812.2 1891.8,2816 1893.6,2806.3 1893.9,2818.2 1894.6,2803.5 1895.3,2823.8 1896.7,2805.1 1897.1,2819.3 1899.2,2821.6 1899.9,2811.1 1900.2,2815.8 1902.7,2804.8 1903,2804.9 1903.4,2817.1 1904.8,2801.2 1905.5,2828.2 1906.2,2807.7 1906.5,2806.3 1907.6,2806.2 1909,2824.1 1909.3,2810.1 1909.7,2809.3 1911.8,2807.1 1912.5,2822.8 1912.8,2810.8 1914.9,2806.3 1915.6,2817.8 1916,2812.3 1917.4,2818 1917.7,2811.1 1918.4,2811.9 1918.8,2805.3 1919.1,2802.9 1921.6,2822.2 1921.9,2813 1923.7,2818 1924,2802.2 1924.7,2813.9 1925.1,2814.7 1925.8,2802.2 1927.5,2818 1927.9,2809.5 1928.2,2813.9 1929.3,2817.2 1930,2806.1 1931,2811.3 1931.4,2811 1933.1,2817.8 1934.2,2814.1 1934.5,2816.9 1935.6,2820.5 1937.3,2805 1937.7,2813.8 1939.8,2805.3 1940.5,2822.5 1940.8,2805.7 1941.2,2803.7 1942.2,2823.5 1943.6,2813.8 1944,2808.5 1944.3,2817.7 1946.1,2806.4 1946.8,2810.2 1947.1,2818.6 1948.5,2807.3 1948.9,2823.2 1949.9,2818.7 1950.3,2809.3 1951,2804.5 1951.7,2818.4 1953.1,2810.5 1953.4,2808.8 1954.8,2815 1955.9,2802 1956.2,2813.2 1956.6,2818 1959,2803.4 1959.4,2815.6 1959.7,2809.5 1960.4,2814 1961.1,2801.2 1962.2,2807.9 1962.5,2813.9 1962.9,2814.6 1963.6,2803 1965.3,2812.9 1965.7,2816.8 1967.4,2801.3 1968.5,2808.6 1968.8,2803.3 1970.2,2812.7 1970.6,2801.5 1971.6,2810.2 1972,2806.2 1972.3,2813.8 1974.4,2800.6 1974.8,2805 1975.1,2799.6 1976.9,2814 1977.9,2810 1978.3,2808.2 1981.1,2798.9 1981.4,2809 1983.5,2796.8 1984.2,2804.8 1984.6,2802.3 1986.7,2805.8 1987,2790.9 1987.4,2803.2 1987.7,2802.9 1988.1,2794.1 1988.4,2813.1 1990.5,2809.5 1990.9,2803.6 1991.9,2798.8 1993,2809.2 1993.7,2798.9 1994,2815.6 1994.7,2794.1 1996.8,2805.2 1997.2,2799 1997.5,2792.5 1998.2,2810 2000,2796.3 2000.3,2796.5 2000.7,2812.6 2001.4,2790.4 2003.1,2803.3 2003.5,2806.4 2005.6,2781.7 2005.9,2792.8 2006.3,2786.6 2007,2789.2 2009.1,2765 2009.4,2767.7 2012.2,2728.4 2012.6,2721.4 2014.3,2700.9 2015.4,2711.5 2015.7,2711.1 2018.5,2766.1 2018.9,2764.2 2021.3,2790.6 2021.7,2784.2 2022,2783.5 2024.8,2800.4 2025.2,2801.7 2025.9,2793.8 2026.6,2805.4 2028,2801.5 2028.3,2798.7 2028.7,2794.2 2031.1,2810.9 2031.5,2800.5 2033.9,2814.9 2034.3,2803.5 2034.6,2806 2036.7,2812.9 2037.4,2797.7 2037.8,2808.3 2038.1,2804.3 2040.6,2822.4 2040.9,2815.7 2043,2799.6 2043.7,2812.5 2044.1,2808.1 2044.8,2800.6 2045.1,2818.2 2046.9,2805.5 2047.2,2804.6 2048.3,2815.5 2048.6,2798 2049.7,2813.6 2050,2807.7 2051.1,2816.9 2052.1,2802 2052.8,2810.7 2053.2,2807 2053.9,2802.6 2055.6,2819.7 2056,2811.7 2056.3,2808.9 2057.7,2817.8 2058.8,2802.8 2059.1,2813.8 2059.5,2822.5 2061.2,2803 2062.3,2810.1 2062.6,2809.5 2063,2813.5 2064.7,2802.1 2065.4,2810.7 2065.8,2819.2 2066.1,2819.2 2067.9,2804.9 2068.6,2809.6 2068.9,2819 2070.3,2823.4 2071.7,2803.7 2072.1,2801.4 2074.5,2826.2 2074.9,2824.6 2075.2,2813.4 2077.3,2822.3 2077.7,2807.8 2078,2809.4 2078.4,2805.7 2080.8,2819.4 2081.2,2813.8 2081.5,2819.4 2082.9,2803.6 2084.3,2808.4 2084.7,2802.5 2085,2817.2 2087.5,2813 2087.8,2814 2088.9,2801 2089.9,2815.2 2090.6,2805.3 2091,2802.1 2093.4,2818.8 2093.8,2813.4 2094.8,2808.4 2096.6,2819.5 2096.9,2809.6 2097.3,2802.3 2099,2821.1 2099.7,2813.4 2100.1,2812.1 2101.1,2820.7 2102.2,2800.6 2102.9,2814.1 2103.2,2811.5 2105,2819 2105.3,2799.9 2106,2814.8 2106.4,2808.8 2107.4,2803.1 2107.8,2822.1 2109.2,2815.4 2109.5,2810.6 2110.6,2798.1 2111.6,2820.9 2112.3,2810.4 2112.7,2809.1 2113.7,2807.3 2114.8,2817.4 2115.5,2815.9 2115.8,2812 2118.3,2817.5 2118.6,2804.2 2119,2825.4 2119.7,2807.9 2121.8,2823 2122.1,2816.9 2123.5,2827 2124.2,2808.1 2124.9,2813.4 2125.3,2812.5 2125.6,2802.6 2126.3,2815.6 2128.1,2812 2128.4,2816.3 2129.1,2810.8 2131.2,2813.2 2131.6,2803.3 2132.6,2822.2 2134.4,2820.9 2134.7,2808.5 2135.4,2819.6 2136.5,2799.3 2137.2,2807.2 2137.5,2820.1 2138.9,2821.2 2140.3,2811.8 2140.7,2816.7 2141,2801.3 2142.4,2821.3 2143.5,2818.6 2143.8,2810.8 2146.3,2820.6 2146.6,2818.6 2147,2812.9 2149.1,2819.2 2149.8,2806.5 2150.1,2813 2151.9,2804.4 2152.9,2818.7 2153.3,2817.7 2154.3,2809 2154.7,2820.8 2156.1,2814.6 2156.4,2811.6 2158.2,2818.2 2158.9,2803.9 2159.2,2815.6 2159.6,2813.9 2160.3,2825.8 2161.3,2804.1 2162.4,2821 2162.7,2802 2163.1,2822.3 2165.5,2815.5 2165.9,2808.3 2168,2821.6 2168.7,2802.5 2169,2808.1 2170.1,2819.8 2171.8,2816.6 2172.2,2819.7 2172.9,2822.1 2174.3,2807.9 2175,2816.9 2175.3,2824.7 2175.7,2812.1 2178.1,2820.1 2178.5,2820.8 2179.9,2805.9 2180.9,2815.2 2181.3,2815.9 2182.3,2825.9 2183,2811.9 2184.1,2820.3 2184.4,2815.9 2186.5,2809 2186.9,2825.5 2187.2,2814.2 2187.6,2811.9 2189.7,2808.1 2190.4,2824.9 2190.7,2812.7 2192.1,2812.3 2192.5,2829 2193.5,2812.6 2193.9,2808.9 2194.6,2826.7 2196.7,2816.6 2197,2826.1 2197.4,2811.4 2199.8,2820.2 2200.2,2810.3 2203,2823.9 2203.3,2809.5 2205.4,2828.7 2206.1,2821.5 2206.5,2824 2207.5,2811.2 2209.3,2821.9 2209.6,2816.5 2211.7,2813.2 2212.1,2827.6 2212.4,2819 2212.8,2817.5 2214.2,2813.8 2214.9,2828.3 2215.6,2814.1 2215.9,2823.1 2216.6,2814.1 2218.7,2826.2 2219.1,2823.1 2221.2,2809.3 2221.9,2821.6 2222.2,2819.1 2223.6,2832.8 2224.7,2816.4 2225,2817.8 2226.1,2805.3 2226.4,2818.9 2227.8,2818.1 2228.2,2818.5 2230.3,2811.1 2231,2826.4 2231.3,2813.6 2231.7,2823.5 2232.4,2812.8 2234.1,2820.1 2234.5,2819.5 2235.2,2815.3 2237.3,2823.3 2237.6,2818.3 2239,2828.3 2240.1,2814.4 2240.4,2814.4 2240.8,2816.3 2241.1,2815 2241.5,2827.4 2243.6,2816.1 2243.9,2816.7 2244.3,2827.7 2245.3,2803.5 2246.7,2814.9 2247.1,2815.8 2247.4,2828.3 2249.2,2809.6 2249.9,2819.9 2250.2,2828.6 2253,2812.9 2253.4,2820.9 2255.1,2811.4 2256.2,2823 2256.5,2818.3 2256.9,2811.3 2257.9,2820.3 2259.3,2814.9 2259.7,2816.4 2260.7,2828.1 2261.8,2808.5 2262.5,2814 2262.8,2808.5 2265.6,2825.4 2266,2812.3 2267,2811.6 2267.4,2818.4 2268.4,2813.4 2268.8,2823.3 2269.1,2807.4 2271.6,2811.7 2271.9,2811 2273.3,2808.7 2274.7,2824.3 2275.1,2812.6 2277.5,2822.8 2277.9,2809.3 2278.2,2820.6 2278.6,2814.9 2280.3,2821.6 2281,2818.6 2281.4,2822.3 2281.7,2809.5 2283.1,2825.3 2284.2,2819.3 2284.5,2820.9 2285.9,2806.8 2287,2821.3 2287.3,2820.4 2287.7,2820.9 2288,2812.1 2288.4,2821 2290.5,2819.6 2290.8,2816.8 2291.2,2825.6 2293.3,2809.5 2293.6,2817.6 2294,2818.9 2295.4,2808.4 2296.1,2824.9 2296.8,2812.7 2297.1,2812.5 2297.5,2822.2 2299.9,2811.5 2300.3,2823.3 2301.7,2810.3 2303.1,2813 2303.4,2819 2304.1,2813.7 2305.2,2825.4 2306.2,2821.2 2306.6,2818.8 2308.7,2811.1 2309.4,2823.3 2309.7,2808.9 2311.8,2822 2312.2,2815.3 2312.5,2809.1 2313.2,2824.5 2315.3,2821.8 2315.7,2818.6 2316,2822.4 2318.5,2807.6 2318.8,2815.5 2319.2,2806.5 2321.6,2826.8 2322,2817.7 2322.7,2808.6 2323,2818.3 2324.8,2811.6 2325.1,2821 2325.5,2821.3 2327.9,2799.6 2328.3,2817.5 2329.3,2820.2 2330.4,2805.7 2331.1,2813.3 2331.4,2817.5 2331.8,2819 2333.9,2811.8 2334.2,2814.1 2334.6,2822.3 2336.7,2806.1 2337.4,2815.6 2337.7,2812.3 2338.1,2806.8 2338.8,2821.2 2340.5,2816.1 2340.9,2819 2343.3,2809.1 2343.7,2812.5 2344,2809 2345.1,2818 2346.8,2814.7 2347.2,2812.4 2347.5,2800.2 2349.6,2816.2 2350,2811.1 2350.3,2806.9 2352.8,2822.9 2353.1,2802.5 2353.5,2801.2 2355.9,2813.9 2356.3,2815 2357,2818.7 2357.7,2802.5 2359.1,2813.6 2359.4,2804.4 2360.5,2800.6 2362.2,2812.1 2362.6,2813.4 2364.3,2816.3 2364.7,2803.1 2365.4,2810.4 2365.7,2804.1 2366.4,2813.9 2368.5,2797.1 2368.9,2806.8 2371,2801.8 2371.3,2812.4 2371.7,2807.7 2372,2812.3 2372.4,2800.3 2372.7,2816.3 2374.8,2811.2 2375.2,2808.2 2376.2,2803.9 2378,2821.5 2378.3,2813.6 2379,2802.6 2380.1,2816 2381.1,2814.4 2381.5,2819.7 2382.9,2803.5 2384.3,2813.7 2384.6,2813.8 2386.4,2822.6 2386.7,2806.1 2387.4,2813.3 2387.8,2803.5 2390.2,2815.9 2390.6,2810 2390.9,2808.3 2391.6,2807.1 2392.3,2817.3 2393.7,2809.5 2394.1,2815.5 2394.8,2819 2396.2,2799.8 2396.9,2805.2 2397.2,2813.3 2397.6,2809.4 2398.6,2815.1 2399.7,2813.5 2400,2824.5 2402.1,2807.3 2402.8,2815.9 2403.2,2803 2404.9,2821.9 2406,2812.4 2406.3,2807.3 2407.4,2819.9 2409.1,2819.1 2409.5,2819.3 2411.2,2804.2 2412.3,2812 2412.6,2827.9 2414,2809.5 2415.4,2815.2 2415.8,2813.9 2417.2,2821.7 2418.2,2809.8 2418.6,2815.8 2418.9,2802.3 2419.3,2818.7 2421.7,2816.5 2422.1,2817.7 2422.4,2810.3 2423.8,2824.3 2424.9,2815.4 2425.2,2832.2 2425.9,2810.4 2428,2823.3 2428.4,2823.1 2429.4,2826 2431.2,2812.4 2431.5,2823.7 2431.9,2816.5 2434,2825.2 2434.3,2823.9 2434.7,2821.9 2435,2813.7 2435.7,2825.7"/>
<polyline class="c" stroke="#A6A6A6" points="412.4,2843.6 412.8,2839 413.5,2804.2 414.5,2848.4 415.6,2847.3 415.9,2840.1 417,2856.6 418,2826.1 418.7,2831.8 419.1,2839.5 420.8,2817.6 421.5,2853.9 421.9,2825.5 422.2,2835.4 422.6,2874.6 423.3,2813.8 424.7,2819.5 425,2844.1 426.1,2810.2 427.8,2863.4 428.2,2854.1 430.6,2817.1 431,2822.5 431.3,2816.3 432.4,2852.9 434.1,2839.7 434.5,2827.9 435.5,2872.9 436.9,2802.9 437.3,2824.9 437.6,2849.6 438.3,2807.8 438.7,2851.9 440.4,2850.9 440.8,2820.9 443.2,2868.2 443.6,2836.5 443.9,2857.3 444.6,2826.2 446.7,2841.4 447.1,2852.6 447.8,2827 448.1,2862.8 449.9,2857.7 450.2,2842.4 451.3,2827.8 452.7,2877.4 453,2857.3 453.4,2857.5 453.7,2843.5 454.4,2876.4 456.2,2845.8 456.5,2865.6 456.9,2840.8 457.6,2874.4 459.3,2854.2 459.7,2870.8 462.1,2837.5 462.5,2865.2 462.8,2891.8 463.2,2839.8 465.6,2851.8 466,2870.9 466.3,2831.6 468.4,2876.3 468.8,2851.9 469.1,2857.7 470.5,2837.5 471.6,2852.2 471.9,2860.7 472.6,2832.8 474,2878.8 474.7,2852.8 475.1,2867.6 475.4,2872.8 476.8,2849.9 477.9,2856 478.2,2876.7 478.6,2822.1 479.3,2884.2 481,2854.5 481.4,2882.3 481.7,2836.6 484.2,2885.6 484.5,2871.2 485.6,2842.2 486.3,2889.8 487.3,2862.3 487.7,2856.2 488.4,2837.6 489.1,2883.8 490.5,2870.4 490.8,2877.9 492.2,2879.9 492.6,2852 493.6,2876.3 494,2874.7 495.7,2850.1 496.8,2852.8 497.1,2870.8 497.5,2855.6 499.9,2899.2 500.3,2889.2 503.1,2850.5 503.4,2840.3 505.9,2888.2 506.2,2873.7 506.6,2856.5 507.3,2885.3 509.4,2849.4 509.7,2861 511.1,2890.1 512.2,2859.6 512.5,2861.1 513.2,2889.3 513.9,2852.4 515.3,2857.7 515.7,2880 518.1,2858.8 518.5,2897.4 518.8,2900.6 521.6,2865.3 522,2858.6 522.3,2836.9 524.8,2878.9 525.1,2875.6 525.5,2861.4 527.6,2884 527.9,2875.3 528.3,2908.6 530.7,2843 531.1,2880.7 531.4,2874.9 532.5,2892.7 533.9,2863.7 534.2,2873.4 534.6,2854.7 536,2885.4 537.4,2879 537.7,2886.2 538.1,2890.2 539.8,2849.8 540.5,2877.1 540.9,2886.1 541.2,2887.2 543.3,2858.6 543.7,2873 544,2885.1 544.4,2902.2 545.8,2857.1 546.8,2861 547.2,2886.6 549.3,2845.5 550,2891.6 550.3,2885.6 552.1,2853 552.8,2896 553.1,2864 553.5,2891.5 554.5,2851.1 555.9,2871.5 556.3,2868.5 556.6,2856.1 558.7,2918.3 559.1,2872.3 559.4,2862.9 562.2,2891.2 562.6,2871.3 564,2867.5 565,2913.6 565.4,2878.2 565.7,2901 566.4,2901.7 567.5,2850.8 568.5,2886.7 568.9,2891.5 570.6,2897.8 571.3,2875.6 571.7,2882.2 572,2884.8 573.8,2867.8 574.8,2906.7 575.2,2907 578,2859.8 578.3,2905.8 578.7,2862.9 581.1,2884 581.5,2874.7 582.2,2857.2 582.5,2891.6 584.3,2888.2 584.6,2891.8 585,2899.2 586.4,2864 587.4,2887 587.8,2887.8 589.5,2845.2 589.9,2902.4 590.6,2875.5 590.9,2876.3 592,2892.7 592.3,2869.6 593.7,2879.7 594.1,2888.8 595.5,2905 595.8,2865.5 596.9,2882.7 597.2,2898.4 599.3,2923.8 599.7,2872.7 600,2864.1 601.1,2891.2 602.8,2860.7 603.2,2876.8 604.6,2909.5 606,2893.3 606.3,2908.7 608.8,2870.6 609.1,2878.3 609.5,2889.5 611.2,2902.9 612.3,2860 612.6,2890.9 614,2905 614.7,2869.3 615.4,2896.5 615.8,2878.7 616.1,2871.4 618.2,2911.1 618.6,2900 618.9,2877.1 619.3,2874.9 621,2902.6 621.7,2901 622.1,2875 622.8,2867 624.2,2892.3 624.9,2887.3 625.2,2909.1 626.6,2874.6 628,2878.4 628.4,2883.5 630.5,2917 631.2,2880.7 631.5,2878.2 632.6,2902.1 634.3,2872.3 634.7,2899.2 636.4,2929.4 637.1,2864.2 637.5,2874.7 637.8,2903.4 639.6,2872.1 640.3,2908.2 640.6,2880.2 641,2910.4 641.3,2928.1 642,2880.4 643.4,2917.7 643.8,2887.6 645.5,2866.6 646.6,2909.8 646.9,2886 648.3,2870.3 649.4,2919.5 649.7,2903.6 650.1,2905.3 650.8,2911.7 652.5,2870.3 652.9,2890.3 653.2,2889.3 653.6,2874.1 655.3,2909.2 656,2908.9 656.4,2905 657.1,2912.6 657.4,2871.1 659.2,2904.2 659.5,2906.6 660.6,2870.6 662.3,2897.7 662.7,2895.8 664.1,2906.9 664.8,2871.6 665.5,2899.7 665.8,2886 666.9,2895.8 667.9,2867.2 668.6,2888.3 669,2908.8 670.7,2867.3 671.8,2880.8 672.1,2884.2 673.5,2867 674.9,2893 675.3,2877.1 676,2847.5 676.7,2891.3 678.1,2850.5 678.4,2851.4 680.9,2816.6 681.2,2825.6 681.6,2824 684,2877.3 684.4,2858.4 684.7,2873.8 686.5,2892.9 687.2,2846.2 687.5,2888.4 689.3,2847.9 690.3,2887.9 690.7,2877.6 691.7,2894.8 693.1,2863.3 693.5,2885.8 693.8,2864.9 694.9,2843.6 695.2,2888.3 696.6,2877.9 697,2877.1 698,2887.3 699.1,2860.6 699.8,2884.4 700.1,2879.1 701.5,2887.9 702.2,2861 702.9,2883 703.3,2899.8 705,2867.4 706.1,2891.1 706.4,2873.2 706.8,2901.5 707.8,2862.7 709.2,2878.6 709.6,2871.8 710.6,2867.6 711.3,2908 712.4,2889.8 712.7,2865 713.1,2896.3 713.8,2862.3 715.5,2886.8 715.9,2851.8 718,2887.1 718.7,2879.4 719,2888.4 719.7,2842.6 721.8,2889.3 722.2,2883.1 724.3,2845.5 725,2906.6 725.3,2873 726,2847.4 726.4,2881.9 728.1,2871.6 728.5,2872.7 729.2,2851.4 729.5,2893.2 730.9,2860.7 731.3,2883.1 733,2892.8 733.7,2863.9 734.1,2880.5 734.4,2878 735.1,2897.4 735.5,2852 737.2,2890.9 737.6,2858.8 739,2888.3 739.7,2858.7 740.4,2882.9 740.7,2887 741.4,2850.8 743.5,2878.2 743.9,2844.4 745.6,2893.3 746.7,2882.9 747,2872.7 748.8,2880.5 749.5,2851.9 749.8,2871.3 750.2,2858.1 750.9,2836.7 752.6,2891.1 753,2867.8 753.3,2864.2 754.7,2887.5 755.8,2862.9 756.1,2876 756.5,2879.1 757.5,2897.2 758.6,2867.3 759.3,2872.2 759.6,2867.3 760.7,2882.4 761,2837.2 762.4,2871.6 762.8,2866 763.8,2888.7 765.6,2866.8 765.9,2856.3 768,2844 768.4,2897.3 768.7,2891.1 769.1,2887.4 770.1,2840.1 771.9,2885.4 772.2,2882.7 773.3,2902.5 774.7,2852.7 775,2836.8 777.1,2884.3 777.8,2857.2 778.2,2885.2 779.2,2860.6 779.6,2893.6 781,2876.6 781.3,2876.4 782,2895.6 784.1,2838.5 784.5,2879.1 785.2,2903.2 786.9,2866.6 787.3,2875 787.6,2849.6 789.7,2896.8 790.4,2870.1 790.8,2873.5 792.9,2902.2 793.6,2901.3 793.9,2876.5 796,2858.6 796.7,2900.5 797.1,2892.9 799.9,2861.1 800.2,2886.2 802,2863 802.7,2900.8 803,2898 803.4,2858.1 804.4,2891 806.2,2877.4 806.5,2880.1 807.2,2863.3 809,2895.7 809.3,2894 809.7,2901.5 811.4,2864.8 812.5,2887.5 812.8,2850.2 815.3,2896.6 815.6,2865.1 816,2887.3 816.3,2870.7 817,2899 818.4,2880.2 818.8,2897.1 819.1,2854.5 821.6,2898.9 821.9,2888.4 822.3,2920.1 823.3,2849.2 824.7,2882.3 825.1,2873.4 825.8,2892 827.9,2854.8 828.2,2878.2 828.6,2859.8 828.9,2920.4 831,2886.2 831.4,2868.2 832.1,2862.2 834.2,2914.9 834.5,2878.5 837.3,2895.5 837.7,2901.6 838.4,2903.8 839.1,2873.1 840.5,2887 840.8,2889.2 841.9,2881 843.3,2903.5 843.6,2885.7 844,2897.5 844.3,2905.6 845,2873.3 846.8,2892.4 847.1,2911.6 848.2,2864.8 849.9,2897.2 850.3,2905.5 851,2870 853.1,2871.6 853.4,2890 853.8,2859.3 854.5,2899.6 856.2,2885.6 856.6,2896.8 858.7,2911.3 859.4,2870.1 859.7,2891.5 861.1,2912 862.2,2885.6 862.5,2889.5 863.2,2917.7 865.3,2887 865.7,2905.4 866,2879.3 868.5,2880.8 868.8,2889.7 869.5,2926.3 869.9,2866.3 871.6,2903.3 872,2922.8 873,2878 874.8,2888.4 875.1,2888.1 876.9,2878.1 877.6,2919.7 877.9,2899.1 878.3,2890.9 879.3,2881.5 881.1,2908.4 881.4,2917.8 882.1,2934.5 882.8,2893 884.2,2909.4 884.6,2907.4 884.9,2917.4 886.7,2865.5 887.4,2893.4 887.7,2891.2 889.1,2926.5 890.5,2867.4 890.9,2913.9 891.2,2896.8 893,2930.3 893.7,2899.5 894,2913.9 894.7,2869.1 896.5,2927.6 896.8,2909.3 897.2,2896.9 898.6,2913.5 899.3,2896.7 900,2911.5 900.3,2890.9 901.7,2923 902.1,2889.4 903.1,2893.4 903.5,2914.8 904.9,2928.9 905.6,2878.8 905.9,2904.9 906.3,2879.6 909.1,2929.6 909.4,2911 911.5,2924.4 912.2,2886.9 912.6,2891.4 914,2927.8 915.4,2917.7 915.7,2916.6 917.1,2927.9 918.2,2881.9 918.5,2914.1 918.9,2903.3 919.6,2914.6 921.3,2894.1 921.7,2913.2 922,2925.2 922.7,2888 924.8,2897.9 925.2,2903.4 926.9,2928.7 927.6,2894.5 928,2921.9 928.3,2920.4 929.7,2920.5 930.8,2902.2 931.1,2916.1 931.5,2896.8 933.2,2885.8 934.3,2918.1 934.6,2909.6 935.3,2934.8 937.4,2908 937.8,2915.9 939.5,2887.4 940.2,2931.1 940.6,2929.6 940.9,2917.6 943,2934.7 943.4,2880.8 943.7,2915.4 944.1,2901.4 946.9,2928.2 947.2,2903.6 948.6,2896.6 949.7,2930.3 950,2918.3 950.7,2930.8 951.1,2890.5 952.8,2893.2 953.2,2905.6 953.5,2935.2 955.3,2903.2 956,2908.9 956.3,2925.1 957.7,2902.2 959.1,2922.5 959.5,2920.7 959.8,2932.2 961.9,2893.3 962.3,2908.9 962.6,2906.3 963,2900.6 964.7,2931.9 965.4,2920.6 965.8,2926.4 967.5,2932.1 968.6,2885.8 968.9,2924.2 969.6,2891.6 970.7,2925.8 971.7,2904.4 972.1,2933.2 974.2,2907.7 974.9,2917.9 975.2,2914.6 975.9,2925.3 977.7,2904 978,2919.9 978.4,2894.5 980.8,2932.7 981.2,2909.5 981.5,2901 982.9,2942.8 984.3,2910.9 984.7,2935.9 986.4,2892 987.5,2908.5 987.8,2919.6 989.2,2892.2 990.6,2924.3 991,2911.9 991.7,2895.2 993.4,2934.3 993.8,2927.2 995.2,2899.2 996.6,2931 996.9,2928.9 999,2894.7 999.4,2936.7 999.7,2896.7 1000.1,2919.4 1001.1,2907.2 1001.8,2955.5 1002.9,2909.4 1003.2,2922.8 1003.6,2897.4 1005.7,2928.8 1006,2905.6 1006.4,2921.2 1008.5,2943.7 1008.8,2888.6 1009.2,2939.4 1009.5,2915.2 1009.9,2924.4 1011.6,2886 1012.3,2911.2 1012.7,2914.9 1014.4,2895.9 1015.1,2935.1 1015.5,2916.5 1015.8,2928.1 1016.2,2901.7 1018.6,2920.4 1019,2919.5 1020.4,2935.5 1020.7,2899.3 1021.8,2922.5 1022.1,2901.7 1022.5,2897.1 1023.5,2922.5 1024.9,2899.8 1025.3,2925.4 1025.6,2931.7 1027,2887.9 1028.1,2926.7 1028.4,2897.7 1029.8,2877.9 1030.2,2920.9 1031.2,2894.3 1031.6,2895.7 1032.3,2904.6 1034.4,2859.6 1034.7,2860.3 1035.8,2851.8 1036.8,2874.8 1037.2,2862.4 1037.5,2879.2 1039.3,2874.4 1040.3,2896.5 1040.7,2916 1041,2884.9 1042.8,2919.9 1043.5,2892.8 1043.8,2927.2 1044.9,2896.9 1046.3,2932 1046.6,2907.7 1047,2912.9 1049.1,2915.6 1049.4,2891.2 1049.8,2909.6 1050.1,2924.4 1052.6,2900.8 1052.9,2932.6 1053.3,2921.2 1053.6,2894.9 1054,2927.8 1056.1,2910.3 1056.4,2939.2 1057.1,2904.3 1059.2,2947.6 1059.6,2899.9 1060.6,2948.1 1061.3,2899.6 1062.4,2927.4 1062.7,2906.7 1064.1,2951.7 1065.5,2915.9 1065.9,2926.7 1066.6,2883.5 1067.3,2946.9 1068.7,2915.5 1069,2918.4 1069.4,2881.9 1069.7,2942.2 1071.8,2912.3 1072.2,2930.8 1072.5,2899 1072.9,2931.3 1075,2914.6 1075.3,2921.9 1076.4,2936.6 1077.8,2907.1 1078.1,2925.1 1078.5,2909.6 1080.2,2901.9 1080.6,2930.8 1080.9,2908.9 1081.3,2908 1084.1,2935.9 1084.4,2921 1085.8,2944 1086.2,2904.7 1087.2,2923.7 1087.6,2912.7 1089.3,2944.1 1089.7,2907.1 1090.4,2914.2 1090.7,2939.5 1092.5,2905.2 1093.5,2914.6 1093.9,2912.2 1094.2,2905.3 1096.3,2935.2 1096.7,2921.4 1097,2900.5 1098.4,2896.1 1098.8,2928.7 1099.8,2919 1100.2,2919 1101.6,2950.4 1101.9,2906.7 1103,2910.5 1103.3,2918.1 1103.7,2901.2 1105.1,2929.9 1106.1,2917.5 1106.5,2934.7 1107.2,2909.7 1108.6,2937.9 1109.3,2910.7 1109.6,2931.9 1110,2909.5 1111.4,2944.1 1112.4,2935 1112.8,2921.8 1113.5,2892.5 1115.2,2945 1115.6,2927.7 1115.9,2919.1 1116.6,2888.9 1118,2945 1118.7,2908.8 1119.1,2891.8 1120.8,2924.7 1121.9,2915.1 1122.2,2905.1 1122.6,2890.7 1123.6,2935.3 1124.7,2909.6 1125,2919 1126.8,2891 1127.5,2942.2 1127.8,2904.4 1128.2,2928.1 1130.3,2942.8 1131,2897.4 1131.3,2940.2 1132,2941 1132.4,2908.1 1134.1,2911.1 1134.5,2957.2 1134.8,2908.6 1137.3,2949.1 1137.6,2904.2 1139,2933.7 1140.4,2916.3 1140.8,2923.1 1141.1,2905.3 1143.6,2932 1143.9,2897.7 1145,2942.7 1146.7,2925 1147.1,2927.1 1147.8,2938.4 1148.8,2912 1149.9,2930.4 1150.2,2948.6 1153,2891.5 1153.4,2937.6 1154.1,2902.1 1156.2,2902.5 1156.5,2907.1 1156.9,2927.9 1157.2,2902.4 1159.3,2918.3 1159.7,2921.1 1160.7,2930.2 1162.5,2888.7 1162.8,2943.5 1164.6,2899.5 1165.6,2947.2 1166,2934.8 1168.4,2894.9 1168.8,2917 1170.2,2924.3 1171.6,2892.6 1171.9,2926.8 1174.4,2891.6 1174.7,2929.6 1175.1,2918.8 1175.4,2923.4 1177.9,2875.3 1178.2,2921.7 1179.3,2923.5 1180,2890.3 1181,2912.4 1181.4,2907 1183.8,2889 1184.2,2892.7 1184.5,2883.1 1184.9,2900.5 1186.3,2869.1 1187.3,2872 1187.7,2881.1 1190.5,2828 1190.8,2837.2 1193.6,2757.8 1194,2746.2 1195.7,2722.4 1196.8,2737.1 1197.1,2742.4 1199.9,2805.8 1200.3,2819.9 1202.4,2866 1203.1,2858.8 1203.4,2885.2 1204.8,2863.1 1206.2,2909.3 1206.6,2879.1 1207.6,2906.6 1208,2871.5 1209.4,2905.9 1209.7,2890.4 1211.5,2874.2 1211.8,2910.4 1212.2,2904.6 1212.5,2883.8 1213.6,2933.3 1215,2882.5 1215.3,2900.9 1215.7,2898.9 1217.1,2935.4 1218.5,2899 1218.8,2903.8 1219.5,2931.7 1220.2,2895.2 1221.6,2919.6 1222,2917.1 1222.7,2926.6 1224.4,2883.4 1224.8,2908 1225.1,2918 1226.5,2930.4 1227.9,2894.6 1228.3,2925.9 1228.6,2934.5 1230.4,2890.9 1231.1,2921.3 1231.4,2906.8 1231.8,2900 1233.9,2936.3 1234.2,2906.4 1234.6,2923.4 1234.9,2939.6 1235.3,2909.3 1237.4,2913.9 1237.7,2911 1239.5,2932.1 1239.8,2886.8 1240.5,2924.7 1240.9,2913.2 1242.3,2946.3 1243.3,2909.5 1243.7,2937.5 1244,2935 1244.7,2935.6 1246.8,2919.2 1247.2,2922.8 1247.9,2942.3 1248.9,2908.3 1250,2926.4 1250.3,2926.5 1251,2904.2 1252.8,2935.7 1253.1,2928.9 1253.5,2932.3 1253.8,2916.3 1255.2,2933.2 1255.9,2925.5 1256.3,2924.4 1256.6,2942.6 1259.1,2913.1 1259.4,2929.7 1261.2,2954.2 1262.2,2906 1262.6,2934.5 1262.9,2904.2 1264.7,2936.7 1265.4,2924.6 1265.7,2915.1 1266.1,2899.6 1268.5,2946.3 1268.9,2911.7 1271.3,2903 1271.7,2949.8 1272,2936.7 1272.7,2924 1273.1,2946.8 1274.8,2927.8 1275.2,2918.9 1277.3,2959.1 1278,2907.6 1278.3,2893.6 1280.4,2949.7 1281.1,2919.2 1281.5,2926.8 1282.5,2906.5 1283.6,2942.4 1284.3,2937.2 1284.6,2916.5 1286,2909.7 1287.1,2947.1 1287.4,2916 1287.8,2928.7 1289.9,2956.6 1290.6,2914.5 1290.9,2939 1292,2946.8 1292.7,2915.2 1293.7,2939.1 1294.1,2911.6 1296.9,2957.5 1297.2,2932.7 1298.3,2950 1299.7,2901.5 1300,2925.4 1301.1,2954.7 1302.5,2906.3 1302.8,2931 1303.2,2942.7 1303.5,2965.6 1303.9,2913.7 1306,2924.3 1306.3,2928.4 1307,2949.1 1308.8,2915.6 1309.1,2928.4 1309.5,2930 1310.9,2908.1 1311.9,2941.9 1312.3,2920.2 1312.6,2924.6 1313.3,2915.5 1315.4,2944.1 1315.8,2917.9 1318.2,2945.6 1318.6,2924.1 1318.9,2936.4 1319.6,2956.3 1321,2893.3 1321.7,2929 1322.1,2915.7 1324.5,2941.6 1324.9,2928.4 1325.2,2946.3 1325.6,2950.1 1327,2896.7 1328,2918.2 1328.4,2899.3 1329.1,2942.4 1331.2,2922.7 1331.5,2925 1332.9,2941.6 1334.3,2894.7 1334.7,2909.2 1335.7,2902.3 1337.1,2951.6 1337.5,2921.2 1337.8,2934.3 1338.9,2916.2 1340.3,2938.8 1340.6,2919.7 1341,2921 1342,2918.3 1342.7,2950.1 1343.4,2936.8 1343.8,2941.7 1344.5,2952.7 1345.5,2925.1 1346.6,2938.4 1346.9,2922.8 1349.4,2944.3 1349.7,2901.7 1350.1,2911.6 1352.5,2942 1352.9,2914.5 1353.2,2920.4 1354.3,2918.5 1354.6,2952.2 1356,2919.8 1356.4,2930.7 1357.4,2931.5 1358.1,2909.4 1359.2,2920.1 1359.5,2938.4 1359.9,2944.8 1361.6,2910.4 1362.3,2934.2 1362.7,2943.9 1364.4,2911.3 1365.5,2942.1 1365.8,2932.2 1366.5,2914.7 1366.9,2937.7 1368.6,2927 1369,2928.5 1369.3,2938.2 1370.7,2914.3 1371.8,2931.3 1372.1,2915.2 1373.9,2948.3 1374.9,2920.5 1375.3,2922 1376,2921.6 1377,2961.9 1378.1,2935.6 1378.4,2931.3 1379.1,2903.3 1379.8,2942.1 1381.2,2929.5 1381.6,2939.9 1382.6,2919.7 1383.7,2957.2 1384.4,2943.9 1384.7,2924.8 1385.1,2904.8 1385.8,2929.6 1387.2,2925 1387.5,2920.7 1387.9,2945.6 1389.3,2904.2 1390.3,2934.9 1390.7,2910.7 1391.7,2932.7 1392.8,2910.6 1393.5,2916.5 1393.8,2923.5 1395.6,2912.5 1396.6,2941.4 1397,2899.6 1398,2963.4 1399.8,2908.6 1400.1,2917.9 1400.8,2917.1 1401.9,2940.7 1402.9,2924.4 1403.3,2916.5 1403.6,2909.4 1404.7,2939.3 1406.1,2929.7 1406.4,2918.7 1408.2,2899.6 1409.2,2931.6 1409.6,2939.6 1410.6,2945.2 1411,2905.3 1412.4,2922.5 1412.7,2932.9 1413.8,2951.1 1415.2,2895.2 1415.5,2900.5 1415.9,2913.6 1416.2,2903.4 1418.7,2933.2 1419,2895.6 1419.4,2914.9 1420.4,2883.7 1421.8,2890.5 1422.2,2903.1 1423.9,2882.1 1425,2882.2 1425.3,2889.2 1426.4,2884.7 1427.8,2901 1428.1,2888.9 1428.5,2896.3 1429.2,2883.6 1430.9,2920.9 1431.3,2909.3 1431.6,2899.1 1433.4,2927.8 1434.1,2917.2 1434.4,2916.6 1435.8,2930 1437.2,2893.8 1437.6,2937.8 1438.3,2940.9 1439,2897.5 1440.4,2935.1 1440.7,2942.3 1441.4,2957.6 1442.1,2905 1443.5,2919.1 1443.9,2931.2 1444.6,2909.4 1446,2952.7 1446.7,2945.7 1447,2935.3 1447.4,2909.5 1448.1,2939.3 1449.8,2934 1450.2,2924.1 1452.6,2906.8 1453,2962.1 1453.3,2939.7 1455.1,2924.6 1455.4,2942.9 1456.1,2929 1456.5,2923.8 1457.2,2962.1 1458.6,2923.5 1459.3,2930 1459.6,2961.1 1460.3,2915 1462.4,2948.3 1462.8,2921.8 1463.1,2962.5 1465.6,2941 1465.9,2923.1 1466.6,2906 1468.7,2958.7 1469.1,2955.9 1471.5,2917.5 1471.9,2928.4 1473.3,2919.9 1474,2946.7 1474.7,2934.8 1475,2923.9 1475.7,2950.1 1477.8,2915.9 1478.2,2949.7 1478.5,2957.5 1480.3,2920.3 1481,2936.7 1481.3,2943.8 1481.7,2957.7 1483.1,2928.1 1484.1,2944.1 1484.5,2944.3 1486.9,2919.7 1487.3,2945.6 1487.6,2948.5 1488.3,2955.3 1490.1,2932.9 1490.4,2944.4 1490.8,2946.8 1492.2,2912.2 1493.2,2957.1 1493.6,2919.3 1493.9,2923.7 1494.3,2923.3 1495.7,2947.5 1496.7,2927.9 1497.1,2932.6 1497.8,2962.4 1499.9,2919.5 1500.2,2923.6 1501.3,2954.9 1502,2917.8 1503,2944.4 1503.4,2926.4 1504.1,2945.6 1506.2,2924.1 1506.5,2919.7 1506.9,2955.4 1507.2,2918 1509.3,2952.3 1509.7,2928.2 1510.4,2916.9 1511.1,2945.9 1512.5,2931.3 1512.8,2945 1514.2,2931.9 1514.6,2959.8 1515.3,2957.6 1515.6,2939.4 1516.7,2945.8 1518.4,2929.8 1518.8,2928.3 1519.5,2913.6 1521.6,2944.9 1521.9,2923.8 1524,2912.3 1524.4,2956.7 1524.7,2919.4 1525.1,2923.2 1525.8,2919.6 1526.8,2954.4 1527.9,2937.7 1528.2,2950.6 1530.3,2911.4 1531,2916.6 1531.4,2917.4 1532.4,2908.1 1533.5,2950.4 1534.2,2921.9 1534.5,2937.9 1535.9,2928.1 1537,2957.8 1537.3,2934.8 1537.7,2937.1 1538,2917.5 1539.1,2953.3 1540.5,2939.1 1540.8,2907.5 1541.9,2966.1 1543.6,2938.1 1544,2920.6 1546.1,2954.2 1546.4,2904.1 1546.8,2920.5 1547.1,2938.2 1547.8,2961.4 1549.9,2917.9 1550.3,2925.6 1551.7,2957.4 1552,2925.2 1553.1,2951.1 1553.4,2927.8 1554.5,2924.8 1555.5,2948.1 1556.2,2934 1556.6,2951.3 1556.9,2954.2 1558.7,2907.8 1559,2910.7 1559.4,2950.6 1560.8,2929.9 1562.2,2935.9 1562.5,2939.6 1563.2,2922.2 1563.9,2944.2 1565.3,2931.8 1565.7,2952.8 1567.8,2917.1 1568.5,2932.4 1568.8,2931.1 1569.5,2946.5 1571.3,2913.5 1571.6,2924.1 1572,2951.5 1573.4,2915.1 1574.4,2955.9 1574.8,2951.3 1575.1,2945.3 1575.5,2922.3 1577.9,2944.9 1578.3,2910.1 1579.3,2948 1581.1,2932.2 1581.4,2929.8 1582.1,2949.5 1584.2,2926.7 1584.6,2951.5 1586.3,2965.3 1587.4,2920.2 1587.7,2942.2 1588.1,2965.7 1588.8,2917 1590.5,2945.8 1590.9,2927.5 1592.3,2957.2 1593,2912.5 1593.7,2935.8 1594,2945.7 1595.4,2954.5 1595.8,2913.3 1596.8,2943 1597.2,2919.4 1598.2,2943.5 1600,2938.5 1600.3,2955.4 1601.7,2955.9 1602.1,2930.9 1602.8,2934.5 1603.1,2925.4 1603.5,2922.5 1604.9,2954.2 1605.9,2927.9 1606.3,2934.3 1607,2920.7 1608.4,2962.1 1609.1,2920.8 1609.4,2938.4 1609.8,2952.7 1611.5,2920.7 1612.2,2950.4 1612.6,2940.2 1612.9,2950.1 1614.3,2930.5 1615.4,2932.6 1615.7,2924.2 1618.2,2958.2 1618.5,2924.4 1618.9,2901.3 1620.3,2954.9 1621.7,2938.5 1622,2928.3 1623.4,2950.1 1624.8,2935.4 1625.2,2946 1625.9,2953.9 1627.3,2919.3 1628,2932.1 1628.3,2915.9 1629.4,2910.6 1631.1,2955.3 1631.5,2938.9 1633.9,2931.9 1634.3,2949 1634.6,2942.4 1635.3,2948.4 1635.7,2927.6 1637.4,2933.3 1637.8,2934.5 1638.5,2911.1 1639.5,2956.3 1640.6,2944.1 1640.9,2938.5 1641.3,2929.9 1642,2950.4 1643.7,2933.3 1644.1,2947.7 1644.4,2922.7 1646.2,2958.6 1646.5,2949.5 1646.9,2928.2 1647.2,2924 1648.3,2940.5 1649.7,2938.9 1650,2944.3 1652.1,2964.2 1652.8,2926.5 1653.2,2922.9 1654.6,2952.4 1654.9,2912.9 1656,2942.1 1656.3,2940.6 1656.7,2913.6 1659.1,2952.5 1659.5,2925.1 1661.9,2922.1 1662.3,2956.7 1662.6,2927.9 1664,2913.6 1665.4,2945.2 1665.8,2939 1666.8,2965.6 1668.6,2924.9 1668.9,2948.3 1669.3,2950.4 1669.6,2925.6 1671.7,2926.5 1672.1,2937.6 1673.5,2911.2 1674.5,2948.7 1674.9,2916.1 1675.2,2939.8 1675.9,2953.8 1678,2917.1 1678.4,2961.6 1678.7,2920 1681.2,2964.8 1681.5,2960.6 1682.9,2915.3 1684.3,2935.8 1684.7,2948.8 1686.4,2949.5 1687.1,2918.8 1687.5,2942.5 1687.8,2935.6 1688.5,2947.7 1689.9,2928 1690.3,2938.4 1690.6,2922.7 1691.3,2919.9 1692.4,2947.6 1693.4,2938.9 1693.8,2946.2 1695.5,2910.3 1696.6,2914.6 1696.9,2926 1698,2919.9 1698.3,2948.9 1699.7,2946.8 1700.1,2933.6 1701.8,2921.5 1702.5,2960.3 1702.9,2926.3 1703.2,2933.7 1703.9,2929.4 1706,2957.9 1706.4,2962.1 1708.5,2916.6 1709.2,2929.6 1709.5,2931.4 1710.9,2912.3 1711.6,2950.8 1712.3,2942.9 1712.7,2923 1714.8,2942.2 1715.5,2925.2 1715.8,2933.8 1716.2,2924.6 1717.6,2957.1 1718.6,2927.6 1719,2938.8 1719.3,2971.2 1720.4,2932.5 1721.8,2939.4 1722.1,2932.8 1722.5,2963.3 1724.9,2925.9 1725.3,2923.8 1726.3,2904.7 1727.4,2957.5 1728.1,2915.9 1728.4,2960.2 1730.5,2914.8 1731.2,2931.5 1731.6,2940.6 1731.9,2947.2 1734,2909.7 1734.4,2938.2 1734.7,2949.6 1736.8,2922.9 1737.2,2944.4 1737.5,2965.4 1740.3,2909.7 1740.7,2930.6 1741.4,2969.8 1743.5,2943 1743.8,2943.5 1744.5,2947.6 1746.6,2926.8 1747,2940.4 1747.3,2905.2 1747.7,2947 1749.8,2927.6 1750.1,2944.3 1751.9,2970.5 1752.9,2917.8 1753.3,2931.6 1754.7,2959.2 1756.1,2923.2 1756.4,2933.7 1757.8,2959.4 1758.2,2923.3 1759.2,2942 1759.6,2926.3 1759.9,2960.4 1762.4,2931.5 1762.7,2923.3 1763.1,2946.4 1764.8,2921.1 1765.5,2938.3 1765.9,2932.7 1766.9,2948.8 1768.3,2905.7 1768.7,2915.2 1769,2933.3 1770.8,2954.1 1771.1,2925.2 1771.8,2938.6 1772.2,2923.4 1773.9,2952.6 1774.3,2918.2 1775,2933.2 1775.3,2944 1776,2919.2 1777.4,2947.1 1777.8,2941.9 1778.1,2909.7 1779.9,2943.7 1780.9,2933.4 1781.3,2942.1 1781.6,2957.4 1782,2927.4 1784.1,2942.1 1784.4,2912.4 1785.5,2959.4 1787.2,2929.1 1787.6,2955.7 1790,2913.4 1790.4,2931 1790.7,2934.2 1791.1,2920.8 1791.8,2948.2 1793.5,2942.7 1793.9,2915 1794.9,2914.5 1795.3,2959.5 1796.7,2937.1 1797,2927.6 1798.4,2948.8 1799.5,2922.7 1799.8,2943 1800.2,2951.7 1803,2923.8 1803.3,2940 1804.4,2925.5 1805.1,2951.6 1806.1,2940.7 1806.5,2931.1 1806.8,2943.3 1808.2,2908.2 1809.3,2935.1 1809.6,2935.2 1811.7,2923.1 1812.4,2954.5 1812.8,2948 1813.8,2954.3 1814.2,2913.1 1815.6,2941.2 1815.9,2932.4 1817.3,2914.5 1817.7,2960.7 1818.7,2934.9 1819.1,2928.4 1820.8,2924.9 1821.2,2937.4 1821.5,2935.5 1821.9,2936.3 1822.2,2915.8 1822.9,2953 1824.7,2947.2 1825,2928.2 1825.7,2957.7 1827.8,2903 1828.2,2933.4 1829.2,2907.3 1829.6,2942.3 1831,2927 1831.3,2910.9 1832,2952.9 1834.1,2930.6 1834.5,2932.8 1836.2,2943.9 1836.9,2898.8 1837.3,2912.1 1837.6,2907.5 1838,2915.8 1840.4,2881 1840.8,2869.7 1842.9,2857.9 1843.6,2876.9 1843.9,2882.7 1844.3,2882.3 1846.7,2915.1 1847.1,2901.9 1848.5,2889.2 1848.8,2936.4 1849.9,2918.6 1850.2,2921.9 1850.6,2912 1852,2939.5 1853,2933.3 1853.4,2932.9 1854.8,2906 1855.8,2944.7 1856.2,2934.2 1856.5,2943.4 1856.9,2948.1 1857.6,2915.9 1859.3,2925 1859.7,2939.8 1860.4,2916.3 1862.5,2941.1 1862.8,2942.5 1863.9,2917.3 1864.6,2949.9 1865.3,2939.2 1865.6,2967.8 1868.4,2919.4 1868.8,2928.4 1870.2,2943.1 1870.5,2916.6 1871.6,2937.5 1871.9,2924 1873.3,2970.3 1874.7,2937 1875.1,2924.8 1876.8,2944.7 1877.9,2933.2 1878.2,2927 1878.9,2925.4 1880.7,2949.1 1881,2946 1881.4,2934.8 1881.7,2921.9 1884.2,2945.5 1884.5,2957.9 1885.6,2958.4 1886.3,2926.8 1887.3,2953.3 1887.7,2926.6 1889.4,2909.7 1890.5,2950.3 1890.8,2934.7 1893.3,2912.4 1893.6,2961.2 1894,2936.1 1895.7,2927.6 1896.4,2951.9 1896.8,2938.9 1897.1,2932.7 1898.5,2941 1899.9,2913.6 1900.3,2936.1 1902,2957.9 1902.4,2923.2 1903.1,2932 1903.4,2938 1904.5,2913.3 1905.9,2956.3 1906.2,2931.6 1906.6,2927.3 1909,2945.2 1909.4,2942.6 1911.1,2915.8 1911.8,2959.6 1912.2,2935.5 1912.5,2936.8 1913.6,2913.7 1914.6,2954.8 1915.3,2933.6 1915.7,2932.4 1916,2916.6 1917.4,2946 1918.5,2941.2 1918.8,2920.9 1919.2,2959.1 1919.5,2918.9 1921.6,2933.5 1922,2931.2 1922.7,2950.7 1924.4,2916.8 1924.8,2949.1 1925.1,2924 1926.2,2961.4 1927.9,2921.6 1928.3,2912.7 1931.1,2952.4 1931.4,2951.8 1932.8,2917.3 1934.2,2923 1934.6,2940.8 1934.9,2957.3 1936.3,2918.1 1937.4,2932 1937.7,2942.9 1938.1,2917.7 1938.4,2953.4 1940.5,2934.1 1940.9,2916.9 1941.9,2914.2 1943.3,2951.6 1943.7,2929.2 1944,2925.7 1945.1,2947.9 1946.8,2926.2 1947.2,2948.3 1947.5,2917.3 1950,2932.6 1950.3,2954.6 1952.4,2933 1952.8,2941.5 1953.1,2928.7 1953.8,2916.4 1954.2,2943.2 1955.9,2927.4 1956.3,2928.2 1957,2909.1 1959.1,2957.2 1959.4,2924.5 1961.2,2911.7 1962.2,2942.9 1962.6,2939.1 1962.9,2915.4 1964.7,2958.1 1965.4,2916.3 1965.7,2956.8 1966.8,2931.6 1967.5,2964.9 1968.5,2934.5 1968.9,2937.4 1969.2,2911.3 1971.3,2953.8 1971.7,2941 1972,2925.5 1974.8,2965.2 1975.2,2954.8 1977.6,2910.3 1978,2935.8 1978.3,2930.9 1979.7,2927.3 1980.4,2967 1981.1,2932.5 1981.5,2920 1981.8,2951.5 1982.5,2919.1 1984.3,2934.1 1984.6,2937.4 1985.3,2948.9 1986.7,2919 1987.4,2934.9 1987.8,2946.6 1988.1,2963.3 1989.5,2916.3 1990.6,2946.7 1990.9,2921.2 1991.3,2948 1993.4,2915.2 1993.7,2933.6 1994.1,2926.5 1994.4,2904.1 1995.5,2957.8 1996.5,2926.5 1996.9,2935.1 1998.3,2908 1999,2954.3 1999.7,2944.1 2000,2899 2001.4,2950.2 2002.8,2921 2003.2,2898 2003.9,2922.9 2006,2889.9 2006.3,2919.1 2008.8,2870.6 2009.1,2872.9 2009.5,2881.2 2010.9,2862.5 2012.3,2871.3 2012.6,2867.5 2015.1,2900.8 2015.4,2893.9 2015.8,2901.1 2018.6,2936.8 2018.9,2912.6 2021,2906.8 2021.4,2929.8 2021.7,2915.7 2022.1,2923 2023.8,2941.7 2024.5,2894.3 2024.9,2931.7 2025.2,2954.5 2025.6,2904.6 2028,2927.6 2028.4,2938 2030.1,2908 2031.2,2940.4 2031.5,2923.4 2032.6,2949.5 2034.3,2929.2 2034.7,2951.4 2035.4,2924.5 2036.4,2953 2037.5,2950.2 2037.8,2925.6 2039.2,2919.6 2039.6,2958 2040.3,2945.2 2040.6,2940.1 2042.7,2902.9 2043.4,2950 2043.8,2944.4 2044.5,2955.6 2046.6,2918.7 2046.9,2938.1 2048.7,2920.3 2049.4,2963.4 2049.7,2940.9 2050.1,2941.2 2050.4,2921.2 2051.5,2971.3 2052.9,2933.7 2053.2,2941.4 2053.6,2929.9 2055,2957.1 2056,2931.7 2056.4,2928.2 2058.1,2924.4 2059.2,2956.1 2059.5,2946.6 2060.6,2923.6 2062.3,2952 2062.7,2936.8 2063.4,2953.1 2065.1,2917.5 2065.5,2920.9 2065.8,2945.7 2066.5,2924.7 2067.9,2960.1 2068.6,2934.2 2069,2942.2 2070,2922.2 2071.8,2952.2 2072.1,2925.2 2073.2,2923.2 2073.5,2959 2074.9,2948.9 2075.3,2936.8 2075.6,2951 2076,2921.2 2078.1,2945 2078.4,2937.4 2078.8,2948.5 2080.5,2912.9 2081.2,2937.6 2081.6,2927.3 2082.6,2925.9 2083,2945 2084,2943.1 2084.4,2953.8 2085.4,2955.8 2086.5,2921.2 2087.2,2937.7 2087.5,2961.2 2088.6,2918 2090.3,2946 2090.7,2931.2 2091,2913 2093.5,2956.3 2093.8,2972.3 2094.9,2972.3 2096.3,2919.4 2096.6,2925.4 2097,2943 2099.1,2918 2099.8,2964.1 2100.1,2960.1 2101.2,2920.5 2101.9,2961.9 2102.9,2948 2103.3,2951.9 2104.7,2911.1 2106.1,2942.4 2106.4,2916.5 2107.5,2946.5 2109.2,2943.3 2109.6,2929.5 2111,2956.1 2112.4,2912.5 2112.7,2931.9 2114.5,2931.5 2115.5,2957 2115.9,2930.4 2116.9,2940.8 2117.3,2908.4 2118.7,2934.1 2119,2926.2 2120.4,2956.9 2120.8,2922.8 2121.8,2942.6 2122.2,2921.3 2122.5,2963.6 2125,2956.5 2125.3,2937.9 2127.4,2967.5 2127.8,2931.3 2128.1,2948.4 2130.9,2928.8 2131.3,2915 2131.6,2957 2134.1,2935 2134.4,2962.7 2136.2,2965.4 2137.2,2922.6 2137.6,2924.7 2139.7,2950.1 2140.4,2940.3 2140.7,2940 2141.4,2928.3 2143.5,2954.6 2143.9,2953.7 2146.7,2922.7 2147,2926.7 2149.8,2950.3 2150.2,2927.7 2152.3,2956.3 2153,2948.5 2153.3,2943.7 2154,2917.7 2156.1,2962.9 2156.5,2930.2 2157.5,2953.5 2158.6,2922.1 2159.3,2933.9 2159.6,2917.9 2161.7,2945.8 2162.4,2926.4 2162.8,2945.5 2163.8,2946 2165.6,2917.8 2165.9,2951.9 2167,2917.6 2167.3,2964.2 2168.7,2941.9 2169.1,2932.5 2169.8,2957.7 2170.5,2930.2 2171.5,2934.7 2171.9,2955.1 2172.2,2917.3 2174.7,2928 2175,2929.4 2176.4,2947.9 2177.1,2915 2177.8,2936.3 2178.2,2946.1 2178.5,2972.3 2179.6,2922.1 2181,2952.1 2181.3,2932.9 2181.7,2960.3 2183.8,2929.5 2184.1,2939.4 2184.5,2942.5 2185.9,2951.6 2186.6,2916.5 2187.3,2933.2 2187.6,2924.1 2189,2948.3 2190.4,2923.7 2190.8,2940.9 2191.1,2927 2193.6,2961.4 2193.9,2938.9 2196,2942.8 2196.7,2904.5 2197.1,2943.1 2198.1,2961.5 2198.5,2923 2199.9,2945.5 2200.2,2932.4 2200.6,2950.4 2200.9,2913.7 2203,2929.7 2203.4,2943 2204.1,2944.2 2205.5,2929.4 2206.2,2936 2206.5,2943 2208.3,2912 2208.6,2964.4 2209.3,2928.2 2209.7,2963.3 2210,2927 2212.5,2955.6 2212.8,2944.5 2213.2,2933.8 2213.9,2959.9 2215.3,2937.8 2215.6,2919.6 2218.1,2954.7 2218.4,2940.6 2218.8,2964.3 2219.1,2917.9 2219.8,2972.3 2221.6,2943.8 2221.9,2952.2 2222.3,2922.8 2224,2952.6 2224.7,2927.5 2225.1,2935.1 2226.1,2948.7 2227.2,2925.9 2227.9,2935.5 2228.2,2949 2228.6,2904.6 2231,2926.6 2231.4,2947.9 2232.8,2909.7 2233.1,2963.1 2234.2,2936.7 2234.5,2948.5 2235.9,2958.8 2237,2924.4 2237.3,2951.2 2237.7,2927.8 2238.7,2921.3 2240.1,2951 2240.5,2921.4 2240.8,2931.2 2243.3,2957.6 2243.6,2913.7 2244,2938.3 2245,2911.2 2245.7,2965.1 2246.8,2926.6 2247.1,2938 2247.5,2952.8 2247.8,2921.6 2249.9,2939.9 2250.3,2927.3 2251.3,2960.2 2253.1,2921.1 2253.4,2938.3 2254.1,2954.1 2255.2,2919 2256.2,2935.6 2256.6,2944.6 2257.3,2918.7 2258,2963.7 2259,2929.4 2259.4,2927.8 2259.7,2914.8 2261.5,2954.2 2262.2,2941.5 2262.5,2945.4 2262.9,2957.1 2265,2917.2 2265.3,2929.9 2265.7,2932 2267.8,2960.4 2268.5,2915.9 2268.8,2924.6 2271.6,2952.1 2272,2928.8 2273,2951.8 2273.4,2913.4 2274.8,2932.5 2275.1,2935.6 2275.8,2934.7 2277.6,2951.6 2277.9,2939.3 2278.3,2928.7 2278.6,2911.9 2280.7,2949.4 2281.1,2919.6 2281.4,2958.1 2282.1,2923 2284.2,2932.1 2284.6,2943.7 2285.6,2956.5 2287,2930.2 2287.4,2937.5 2287.7,2948.7 2288.1,2914 2290.5,2920.8 2290.9,2946.1 2291.9,2916.8 2292.3,2946.7 2293.7,2921.9 2294,2924.8 2295.8,2913.9 2296.8,2951.8 2297.2,2934.8 2298.9,2915.7 2299.3,2953.2 2300,2929.2 2300.3,2940.3 2302.4,2955.6 2302.8,2921.2 2303.1,2930.6 2304.9,2920.9 2305.2,2953.6 2305.9,2950.1 2306.3,2948 2308.4,2918.4 2308.7,2954.1 2309.1,2950.1 2309.4,2915.8 2312.2,2955.8 2312.6,2948.8 2313.6,2933.6 2314.7,2954.4 2315.4,2934.9 2315.7,2937.5 2317.1,2958.4 2318.2,2928 2318.5,2946.2 2318.9,2940.3 2320.6,2957.6 2321,2933.1 2321.7,2942 2322,2940.9 2322.7,2952.1 2324.5,2910.9 2324.8,2929.4 2325.2,2962.1 2325.9,2971.8 2326.2,2909.7 2328,2957.4 2328.3,2940.8 2330.8,2924.4 2331.1,2955.5 2331.5,2941.2 2333.6,2930.5 2334.3,2946.6 2334.6,2907.9 2335.3,2945 2337.4,2941.5 2337.8,2922.5 2338.5,2957.5 2339.2,2919.9 2340.6,2935.6 2340.9,2942.5 2342,2950.2 2343,2914.6 2343.7,2935.3 2344.1,2947.8 2345.1,2926.5 2346.5,2960.7 2346.9,2948.2 2347.2,2961.5 2349.3,2920.2 2349.7,2921.5 2350,2934.6 2351.1,2960.3 2351.8,2923.9 2352.8,2934.5 2353.2,2944.5 2354.2,2957.6 2356,2913.4 2356.3,2938 2357,2947.1 2358.1,2923.9 2359.1,2941 2359.5,2960.6 2360.5,2926.3 2362.3,2951 2362.6,2935 2363.7,2930.2 2364.4,2956.1 2365.4,2935.6 2365.8,2936.1 2366.5,2971.1 2366.8,2921.9 2368.6,2945.4 2368.9,2940.2 2369.6,2907.5 2371,2950.9 2371.7,2942.3 2372.1,2926.8 2372.4,2913.2 2374.5,2954.6 2374.9,2932.2 2375.2,2919.6 2377.3,2951.1 2378,2937.6 2378.4,2919.7 2379.1,2950 2381.2,2941 2381.5,2931.4 2383.3,2963.6 2384,2925.2 2384.3,2941.5 2384.7,2971.2 2385.7,2926.2 2387.5,2926.9 2387.8,2934.6 2388.9,2913.2 2389.2,2954.8 2390.3,2940.9 2390.6,2938.9 2392,2917.2 2392.7,2965.4 2393.4,2925.7 2393.8,2932.6 2394.1,2942.4 2396.2,2911.3 2396.6,2928.8 2396.9,2962.6 2398.3,2914 2399.7,2918.9 2400.1,2943.1 2400.4,2924.2 2401.8,2960.9 2402.9,2926.3 2403.2,2934.3 2405,2959 2406,2926.9 2406.4,2951.1 2407.8,2953.3 2409.2,2916.1 2409.5,2926.2 2410.9,2914.7 2411.3,2949.7 2412.3,2922.1 2412.7,2938.1 2414.1,2911.5 2414.4,2950.9 2415.5,2919.8 2415.8,2945.5 2418.3,2915.1 2418.6,2938.4 2419,2935.3 2419.7,2930.5 2421.8,2949.9 2422.1,2923.7 2422.8,2962.5 2424.9,2916.5 2425.3,2919.6 2425.6,2945.1 2427.4,2914.6 2428.1,2934.7 2428.4,2945 2429.1,2921.3 2430.9,2957.4 2431.2,2940.3 2431.6,2925.1 2433,2924.8 2433.3,2958.2 2434,2950.1 2434.4,2949.8 2436.8,2930.3 2437.2,2957.3 2437.5,2936.4 2437.9,2918 2438.2,2957 2440.3,2944 2440.7,2954.1 2441,2926.3 2443.5,2940.5 2443.8,2940.8 2444.5,2932.3 2445.9,2949.4 2446.6,2935.5 2447,2926.1 2447.7,2943.1"/>
<polyline class="c" stroke="#FFC000" points="412.4,2430.3 412.8,2416.2 414.9,2393.4 415.2,2424.8 415.6,2395.5 415.9,2408.6 417.3,2436 418,2397.8 418.7,2399.4 419.1,2417.1 421.2,2429.8 421.9,2381.3 422.2,2391.4 422.9,2438 424.7,2405.2 425,2426.2 426.1,2432.1 427.1,2389.7 427.8,2419 428.2,2423.4 429.6,2423.9 431,2361.8 431.3,2355.6 434.1,2414.9 434.5,2402.1 435.2,2399.2 436.9,2415.4 437.3,2406.7 437.6,2419.3 439,2434.4 440.1,2388.9 440.4,2399.8 440.8,2389.3 441.8,2434.8 443.6,2401.1 443.9,2413.4 445,2422.1 445.3,2393.7 446.7,2398.9 447.1,2424.3 449.2,2456.1 449.5,2378.9 449.9,2428.6 450.2,2428.4 451.6,2441.6 452.7,2417.1 453,2423.5 453.4,2442.1 454.4,2385.5 456.2,2429.1 456.5,2426.2 457.2,2390.2 458.3,2433.2 459.3,2411.7 459.7,2419.7 461.1,2440.4 462.1,2381.4 462.5,2423 462.8,2432.5 463.2,2435.8 465.6,2404.9 466,2414.8 467.4,2409.2 468.4,2441.5 468.8,2421.3 469.8,2446.1 470.2,2402.6 471.6,2417.3 471.9,2414.3 474.4,2411.6 474.7,2455 475.1,2430.7 475.4,2388.1 475.8,2433.9 477.9,2427.4 478.2,2421.9 480.3,2412.1 481,2449.1 481.4,2449.4 483.5,2404.2 484.2,2430.3 484.5,2433.9 486.3,2389.3 487.3,2435.9 487.7,2415.3 488.4,2390.1 488.7,2445.7 490.5,2424.4 490.8,2429.6 491.5,2440.1 493.6,2410.9 494,2439.2 494.3,2412.3 496.4,2454.3 496.8,2424.9 497.1,2437.2 498.5,2456.8 499.2,2407.2 499.9,2427.1 500.3,2430.5 501,2454.2 503.1,2452.6 503.4,2425.9 505.9,2459 506.2,2406.3 506.6,2448.7 508.7,2422.5 509,2453.3 509.4,2427.9 509.7,2441 510.4,2408.5 511.5,2456.9 512.2,2421.7 512.5,2429.7 514.6,2451 515.3,2410 515.7,2430.4 516,2456.9 518.5,2429.9 518.8,2420.2 520.2,2469.9 521.6,2453.4 522,2451.8 523.7,2457.3 524.8,2413.8 525.1,2451.6 527.2,2415.8 527.9,2462.3 528.3,2430 529.7,2462.6 531.1,2437.3 531.4,2467.4 534.2,2406.7 534.6,2437.2 534.9,2474.5 536.7,2432.7 537.4,2435.9 537.7,2453.9 539.1,2425.5 540.5,2482.7 540.9,2441.1 541.9,2472.2 543,2431.1 543.7,2452.9 544,2459.6 545.1,2460.5 546.5,2431.6 546.8,2440.2 547.2,2438.9 547.9,2484.2 550,2467.8 550.3,2479.6 553.1,2441.1 553.5,2454.8 554.5,2469.3 555.6,2437.5 555.9,2447.3 556.3,2443.3 557.7,2436.9 559.1,2479.2 559.4,2422.2 559.8,2466 562.2,2446.6 562.6,2446.8 562.9,2477 563.3,2441.5 565.4,2459 565.7,2438.8 566.1,2438.4 567.8,2475.4 568.5,2442.8 568.9,2470 570.3,2440.8 571.7,2453.8 572,2477.8 573.8,2423.9 574.8,2430.6 575.2,2461.7 576.6,2472 577.6,2440.5 578,2467.1 578.3,2456.2 580.1,2468.4 581.1,2439.7 581.5,2479.5 582.5,2435.8 584.3,2471.7 584.6,2451 585.3,2428.8 586,2478.5 587.4,2448.2 587.8,2469.9 589.2,2438.6 590.2,2481.9 590.6,2449.3 590.9,2453.4 591.3,2478 593.4,2443.4 593.7,2458.3 594.1,2444.5 595.1,2489.6 595.8,2433.7 596.9,2448.1 597.2,2441.8 597.9,2433.5 598.3,2480.7 599.7,2451.6 600,2446.5 601.1,2480 601.4,2434.9 602.8,2457.5 603.2,2459.1 603.5,2448 606,2466.3 606.3,2465.9 608.8,2441.5 609.1,2482 609.5,2443.1 610.5,2483.8 612.3,2458.3 612.6,2444.2 613.3,2475.9 615.4,2460.5 615.8,2465.5 616.8,2453.1 617.2,2484.7 618.6,2467.1 618.9,2455.3 620,2487.9 620.3,2439.9 621.7,2455.1 622.1,2456.1 623.1,2441.2 623.5,2480 624.9,2450.4 625.2,2463.6 625.6,2483.7 626.6,2449.8 628,2468.3 628.4,2462.1 630.5,2456.3 630.8,2491.4 631.2,2471.9 631.5,2463.5 632.6,2444.9 634,2484.5 634.3,2458.5 634.7,2466.1 636.4,2480.3 636.8,2452.3 637.5,2477.8 637.8,2491.3 640.3,2444.6 640.6,2467 641,2462.1 641.3,2431.7 643.1,2481.6 643.4,2480.7 643.8,2459.7 644.1,2448.6 644.8,2483.3 646.6,2462.7 646.9,2463.3 647.6,2450 648,2485.6 649.7,2466.9 650.1,2471.1 650.4,2488.7 651.8,2444.3 652.9,2474 653.2,2458.9 654.3,2451.4 655.7,2489.4 656,2465.3 656.4,2474.9 659.2,2445.5 659.5,2467.6 660.2,2445 660.9,2479 662.3,2457.4 662.7,2466.9 663,2475.8 665.5,2444.9 665.8,2472.2 666.9,2477.2 667.9,2449.8 668.6,2470 669,2443.5 669.7,2432.2 670.7,2464.7 671.8,2447.8 672.1,2459.5 672.5,2437.2 673.9,2465.5 674.9,2452.4 675.3,2416.2 676,2447.8 678.1,2429.8 678.4,2424.5 679.1,2427.6 680.9,2404.5 681.2,2409.7 681.6,2416.5 681.9,2411.5 682.6,2424.5 684.4,2421.5 684.7,2443.1 685.8,2464 686.5,2425.1 687.2,2432.8 687.5,2460.4 687.9,2431.1 688.6,2465.2 690.3,2441.8 690.7,2444.4 691.7,2421.3 692.4,2469.2 693.5,2465.8 693.8,2463.3 694.9,2472.7 695.6,2444.4 696.6,2466.3 697,2466.3 699.1,2445.7 699.8,2470.1 700.1,2451.6 701.2,2448.4 701.5,2480.8 702.9,2450.9 703.3,2463.1 705.7,2466 706.1,2437 706.4,2454 707.5,2473.5 707.8,2441.9 709.2,2461.7 709.6,2458 709.9,2476.7 711.3,2441.4 712.4,2451.3 712.7,2445.4 713.1,2467.2 713.4,2435 715.5,2457.2 715.9,2478.9 718.3,2435.4 718.7,2478.7 719,2480.1 719.7,2439.5 721.8,2476.9 722.2,2445 723.2,2468.4 724.6,2432.9 725,2446 725.3,2456 725.7,2434.9 726.7,2476.1 728.1,2463.3 728.5,2443.4 729.9,2459.3 730.2,2435.3 730.9,2456.6 731.3,2441.9 731.6,2423.8 732.3,2476.7 734.1,2430.9 734.4,2446.1 736.5,2424.8 736.9,2462 737.2,2434.9 737.6,2435.5 738.6,2443.7 739,2404.1 740.4,2441.7 740.7,2432.6 742.8,2447.5 743.5,2412.6 743.9,2390 744.6,2427.2 746.7,2420.4 747,2419.7 747.4,2436.7 748.1,2381.7 749.8,2391.5 750.2,2383.5 750.5,2387.6 753,2355.1 753.3,2341.6 754,2353.9 756.1,2255.6 756.5,2251.9 759.3,2080.2 759.6,2054.5 762.4,1902.9 762.8,1916.7 763.1,1912.8 765.6,2076.9 765.9,2094.3 768.7,2261.9 769.1,2273.3 771.9,2348.9 772.2,2347.6 774.7,2397.5 775,2385.5 776.1,2417.2 777.8,2402.4 778.2,2399.5 780.3,2432 781,2408.6 781.3,2432.2 781.7,2406 783.4,2455 784.1,2418.5 784.5,2423.4 785.2,2415.5 786.2,2450.1 787.3,2426.4 787.6,2448.7 789,2428.1 789.7,2454.5 790.4,2441 790.8,2442.7 791.5,2460.1 793.2,2435.1 793.6,2440.7 793.9,2436.3 795.3,2463.3 796.7,2451.1 797.1,2447.7 798.1,2469.8 799.2,2429.9 799.9,2451.6 800.2,2425.8 803,2466.4 803.4,2457 804.1,2437 806.2,2473.1 806.5,2456 807.2,2484.9 808.3,2435.6 809.3,2441.7 809.7,2439.5 810.7,2462.6 812.5,2444.9 812.8,2460.1 813.5,2469.3 814.2,2439.6 815.6,2460.3 816,2452.1 817,2438 817.7,2475.6 818.4,2448 818.8,2453.9 819.5,2434.2 821.2,2489.9 821.6,2463.6 821.9,2475.2 823.3,2432.6 824.7,2447.4 825.1,2464.4 826.1,2442.8 827.5,2480.3 827.9,2442.8 828.2,2473.2 829.6,2452.7 830,2485.2 831,2471.5 831.4,2452.4 831.7,2437 833.5,2478.8 834.2,2470.6 834.5,2451.9 835.2,2443.9 836.3,2473.1 837.3,2469.5 837.7,2445.4 838.4,2493.4 839.8,2442.7 840.5,2450.6 840.8,2462.8 842.9,2441.3 843.6,2480.1 844,2457.6 846.1,2443.1 846.4,2479.2 846.8,2462.9 847.1,2461.4 847.8,2479.3 849.2,2451 849.9,2472.9 850.3,2479.2 852,2457.4 853.1,2466.3 853.4,2481.1 855.5,2441 856.2,2468.8 856.6,2453.2 856.9,2446.9 857.6,2490.3 859.4,2462.9 859.7,2468.3 860.4,2476.7 861.8,2457.8 862.2,2460.7 862.5,2460.8 863.6,2451.6 864.6,2487.6 865.3,2454 865.7,2457.1 868.1,2470.3 868.5,2451 868.8,2463.9 869.2,2456.3 871.6,2481.5 872,2475.2 872.3,2478.5 873,2444.3 874.8,2447.2 875.1,2456.8 875.8,2448.7 877.9,2490.4 878.3,2456.2 879.3,2450.9 881.1,2488.2 881.4,2471.1 881.8,2456.8 882.8,2489.6 884.2,2485 884.6,2439.3 887.4,2477.6 887.7,2475.3 889.5,2489 890.2,2455.5 890.5,2472.1 890.9,2472 891.9,2485.8 893.3,2460.9 893.7,2473.4 894,2456.4 895.8,2482.3 896.8,2469.7 897.2,2485 899.6,2456.4 900,2474.6 900.3,2472.2 901.4,2446.1 901.7,2483.5 903.1,2477.2 903.5,2492.9 903.8,2451.4 905.9,2481.8 906.3,2467 907,2455.3 908,2474.7 909.1,2468.9 909.4,2463.2 909.8,2474.2 910.8,2450.3 912.2,2465.5 912.6,2455.1 914,2482.4 915.4,2458.1 915.7,2465.5 916.4,2486.7 917.1,2450.1 918.5,2468.9 918.9,2463.5 919.6,2483 920.6,2460.9 921.7,2463.2 922,2482.3 922.7,2491.4 923.4,2454.1 924.8,2475.8 925.2,2478.3 925.9,2459.9 926.2,2482.6 928,2471.1 928.3,2477.5 928.7,2463.2 930.4,2480.6 931.1,2468.3 931.5,2486.6 931.8,2456.5 934.3,2466.9 934.6,2454.6 935.3,2482.3 937.4,2470.7 937.8,2474.9 939.2,2488.3 939.5,2460.5 940.6,2467.7 940.9,2481.3 941.3,2461.5 942.3,2487 943.7,2468.3 944.1,2467.5 944.8,2454.2 946.2,2475.3 946.9,2464.1 947.2,2485.6 947.9,2466.3 949,2496.2 949.7,2477.4 950,2481.1 952.5,2502.4 952.8,2455.2 953.2,2473.4 953.9,2461.6 955.6,2492.1 956,2469.3 956.3,2464.8 958.1,2457 959.1,2493.4 959.5,2459 960.2,2506 962.3,2485.1 962.6,2466.7 963,2459.1 963.7,2490.3 965.4,2477.8 965.8,2470.2 966.5,2455.5 968.2,2494.1 968.6,2461.6 968.9,2483.2 971.7,2457.8 972.1,2457.7 973.8,2455.5 974.5,2490.9 974.9,2478.1 975.2,2484.2 976.3,2465.3 977.3,2485.3 978,2470.5 978.4,2486.9 980.1,2488.5 980.8,2471.3 981.2,2484.6 981.5,2466.4 983.3,2454.4 984.3,2492.8 984.7,2478.4 985.7,2455 987.5,2499.4 987.8,2467.2 988.5,2464.4 990.6,2494.4 991,2493.5 992.7,2465.8 993.4,2507.9 993.8,2474.8 995.5,2490.7 996.6,2488.1 996.9,2500.3 998,2463 999.7,2489.5 1000.1,2470.3 1001.8,2495.1 1002.9,2482.3 1003.2,2471.4 1003.6,2462.7 1005.7,2495.9 1006,2487.3 1006.4,2482.7 1007.8,2494.9 1008.1,2468.2 1009.2,2477.5 1009.5,2489.4 1010.9,2477.3 1011.6,2501.2 1012.3,2499.2 1012.7,2477.6 1014.8,2494.8 1015.5,2468.8 1015.8,2464.9 1018.3,2461.5 1018.6,2487.7 1019,2471.7 1019.3,2496.7 1020,2468.4 1021.8,2470 1022.1,2473.9 1023.5,2482.8 1024.6,2451 1024.9,2474.2 1025.3,2459.9 1026,2446.2 1027,2475.9 1028.1,2464 1028.4,2457 1029.1,2457.5 1030.9,2436.4 1031.2,2449.6 1031.6,2432.4 1034.4,2413.1 1034.7,2416.6 1036.1,2436.6 1037.2,2430.3 1037.5,2439.7 1038.2,2435.1 1040,2461.6 1040.3,2461.4 1040.7,2459.8 1041.7,2438.9 1042.4,2475 1043.5,2469.5 1043.8,2469.6 1045.2,2464.8 1045.9,2491.6 1046.6,2477.6 1047,2482 1047.3,2467.4 1048,2485.9 1049.8,2485.6 1050.1,2492.8 1052.6,2463 1052.9,2486.5 1053.3,2472.7 1054.7,2466.2 1055.4,2504.2 1056.1,2479.7 1056.4,2478.6 1057.8,2510.3 1059.2,2502.2 1059.6,2483.5 1061,2473.3 1062,2499.8 1062.4,2485.5 1062.7,2483.1 1064.1,2505.6 1064.5,2471.7 1065.5,2482.1 1065.9,2483.9 1068,2509.1 1068.3,2474.6 1068.7,2489.1 1069,2489.2 1069.7,2496.4 1071.8,2468.1 1072.2,2497.3 1073.9,2477.5 1075,2498.6 1075.3,2497.7 1076.7,2473.7 1078.1,2477.3 1078.5,2489.5 1078.8,2472.4 1080.6,2500.3 1080.9,2493.9 1081.3,2494.4 1083,2495.4 1083.4,2456.8 1084.1,2479.7 1084.4,2493 1085.5,2479.7 1086.2,2503.9 1087.2,2492.4 1087.6,2470.4 1088.3,2500.3 1090.4,2470.3 1090.7,2481.7 1092.5,2475.9 1092.8,2495.6 1093.5,2492.8 1093.9,2475.8 1094.9,2462.9 1096.3,2513.2 1096.7,2490.3 1097,2489.5 1098.8,2481 1099.5,2496 1099.8,2482.7 1100.2,2484.5 1101.6,2510.9 1103,2480 1103.3,2476 1104.4,2474.9 1105.1,2511.7 1106.1,2480.7 1106.5,2480.9 1107.9,2472.7 1108.6,2505.5 1109.3,2476.6 1109.6,2491.6 1111.7,2475.2 1112.1,2504.9 1112.4,2498.3 1112.8,2491.1 1114.5,2510.9 1114.9,2482.4 1115.6,2496.7 1115.9,2487.9 1117,2518 1118.7,2494.1 1119.1,2484.2 1119.8,2514.4 1121.9,2464.3 1122.2,2494.9 1123.3,2468.6 1124.7,2507.7 1125,2489.8 1126.1,2480.9 1127.5,2505.8 1127.8,2496 1128.2,2492.7 1130.6,2505.5 1131,2476.8 1131.3,2471.1 1131.7,2510.8 1134.1,2494 1134.5,2484.2 1134.8,2456.8 1136.6,2500.5 1137.3,2494.8 1137.6,2493.3 1138.3,2475.9 1139.7,2517.4 1140.4,2485.2 1140.8,2472.5 1143.6,2501.8 1143.9,2484.9 1144.3,2497.8 1145.3,2478.8 1146.7,2497.4 1147.1,2468.3 1147.8,2505.1 1149.2,2465.5 1149.9,2504.3 1150.2,2490.7 1151.6,2515.1 1152.3,2465.2 1153,2481 1153.4,2476.8 1153.7,2450.5 1155.1,2500.7 1156.2,2490.1 1156.5,2462.9 1158.6,2478.6 1159.3,2464.5 1159.7,2470.3 1161.1,2476.1 1162.5,2457.2 1162.8,2453.5 1163.2,2464 1165.3,2423.6 1165.6,2428 1166,2411.2 1166.3,2428.8 1168.1,2410.9 1168.4,2419.9 1168.8,2420.9 1170.9,2417.6 1171.2,2436.3 1171.6,2430.5 1171.9,2435.5 1172.3,2432.7 1174,2479 1174.7,2457.7 1175.1,2466.7 1177.2,2488 1177.9,2447 1178.2,2451.2 1179.3,2495.8 1181,2474.7 1181.4,2480.5 1183.8,2466.5 1184.2,2498.7 1184.5,2474.2 1185.2,2454.4 1185.6,2497.1 1187.3,2481.8 1187.7,2486.2 1190.5,2435.2 1190.8,2457.2 1193.6,2387.8 1194,2365 1194.3,2365.5 1196.8,2305.9 1197.1,2324.6 1197.5,2323.6 1199.6,2396.6 1199.9,2396.3 1200.3,2394.3 1202.7,2477.1 1203.1,2457.7 1203.4,2460.4 1204.5,2443.8 1205.9,2475.9 1206.2,2467.5 1206.6,2472.3 1206.9,2460.1 1209.4,2499 1209.7,2489.6 1210.8,2505.2 1211.5,2473.4 1212.2,2489.9 1212.5,2475.4 1212.9,2499.4 1215.3,2472 1215.7,2465.6 1216.4,2504.9 1218.5,2484.6 1218.8,2494.1 1220.2,2502.2 1220.9,2468.1 1221.6,2488.5 1222,2483.6 1222.7,2492.9 1223,2476.5 1224.8,2485.9 1225.1,2500.5 1225.5,2509.8 1226.2,2484.1 1227.9,2502.9 1228.3,2492.8 1228.6,2502.2 1231.1,2471.8 1231.4,2492.2 1232.1,2476.4 1233.5,2501.6 1234.2,2490.5 1234.6,2488.1 1235.6,2510.8 1237,2472.1 1237.4,2490.8 1237.7,2483.9 1238.1,2498.2 1240.2,2477.5 1240.5,2485.5 1240.9,2500.2 1243,2505.3 1243.3,2478.5 1243.7,2494 1244,2471.2 1245.4,2504.1 1246.1,2466.9 1246.8,2493 1247.2,2468.3 1248.6,2510.5 1250,2504.7 1250.3,2482.9 1250.7,2471.8 1251.4,2523.3 1253.1,2493.8 1253.5,2493.8 1253.8,2477.6 1255.6,2519.1 1255.9,2490.7 1256.3,2492.8 1257,2470.6 1259.1,2508.1 1259.4,2507.5 1260.8,2490.7 1261.2,2518.4 1262.2,2498.5 1262.6,2485.5 1263.3,2469.8 1265.4,2505.7 1265.7,2492.6 1266.8,2510.9 1267.8,2473.6 1268.5,2479 1268.9,2495.7 1270.6,2516 1271.7,2481.4 1272,2511.9 1273.4,2477.2 1274.8,2489.8 1275.2,2494.5 1275.9,2478 1278,2508.7 1278.3,2496.6 1278.7,2476.1 1280.1,2513.8 1281.1,2505.9 1281.5,2501.1 1282.2,2482 1283.2,2510.1 1284.3,2506 1284.6,2509.9 1286.4,2481.4 1286.7,2514 1287.4,2496.7 1287.8,2483.8 1288.8,2509.7 1290.6,2504.4 1290.9,2501.2 1291.3,2484.1 1292.7,2517.4 1293.7,2489.3 1294.1,2502.8 1295.8,2484.1 1296.5,2505.6 1296.9,2500.7 1297.2,2508.9 1298.6,2485.2 1299.7,2513.1 1300,2505.6 1301.1,2487.3 1302.8,2498.7 1303.2,2503.1 1306,2479.3 1306.3,2518.3 1307.7,2480 1309.1,2507.1 1309.5,2495.9 1310.2,2511.9 1310.9,2485 1312.3,2501 1312.6,2483 1313.3,2513.5 1315.4,2497.2 1315.8,2502.5 1316.8,2508.8 1317.2,2482.9 1318.6,2490.9 1318.9,2478.1 1320.7,2474.3 1321.7,2518.6 1322.1,2485.2 1324.2,2515.8 1324.9,2502 1325.2,2501.7 1327,2515.9 1327.7,2487.5 1328,2503.9 1328.4,2501.4 1329.4,2503.5 1330.1,2489.9 1331.2,2495.7 1331.5,2508.5 1332.2,2508.9 1333.3,2491.7 1334.3,2507.1 1334.7,2506.8 1335.7,2487.1 1337.5,2497.3 1337.8,2485.3 1338.5,2480.4 1340.6,2514.4 1341,2470.1 1342.4,2509.9 1343.4,2485.8 1343.8,2480 1344.1,2510.3 1346.6,2493.1 1346.9,2498.7 1348.3,2513 1349.4,2472.4 1349.7,2478.2 1350.1,2500 1351.1,2510.8 1351.5,2485.5 1352.9,2488.9 1353.2,2495.5 1355,2509.8 1356,2465.4 1356.4,2497.9 1356.7,2511.1 1357.8,2483.2 1359.2,2497.5 1359.5,2504.2 1360.2,2486.3 1360.6,2518.2 1362.3,2495.9 1362.7,2493 1363,2517.7 1364.8,2475.5 1365.5,2511.3 1365.8,2515.2 1366.5,2485.4 1368.6,2496.3 1369,2499.2 1369.7,2470.3 1371.4,2520.8 1371.8,2491.9 1372.1,2499.9 1373.2,2486.1 1373.5,2520.8 1374.9,2507 1375.3,2496.5 1377,2507.2 1377.7,2485.6 1378.1,2497 1378.4,2497.6 1380.5,2516 1381.2,2486.8 1381.6,2483.1 1382.3,2516.8 1384,2472.7 1384.4,2488.2 1384.7,2478.6 1386.1,2478.5 1386.5,2503.7 1387.2,2486.7 1387.5,2486.4 1388.9,2502.7 1390.3,2463.6 1390.7,2497.6 1391.4,2474 1392.1,2503.3 1393.5,2486 1393.8,2495.4 1394.5,2508.8 1395.9,2470.1 1396.6,2498.3 1397,2499.5 1398.4,2480 1399.4,2509.1 1399.8,2491.6 1400.1,2484.2 1400.5,2523.7 1402.9,2478.9 1403.3,2488.5 1404,2460 1405,2508.9 1406.1,2498.5 1406.4,2495.7 1409.2,2483.2 1409.6,2489.5 1410.3,2497.5 1411.7,2463.3 1412.4,2473 1412.7,2469.4 1414.5,2492.5 1415.5,2472.7 1415.9,2469.6 1416.9,2475.9 1417.3,2452.6 1418.7,2455.8 1419,2457 1419.7,2464.6 1421.5,2448.7 1421.8,2455.8 1422.2,2460.1 1424.3,2461.4 1424.6,2446.6 1425,2454.3 1425.3,2447.5 1426.7,2478.2 1428.1,2464.1 1428.5,2459.9 1430.2,2458 1430.6,2483.1 1430.9,2473.8 1431.3,2487.6 1431.6,2466.9 1434.1,2493.8 1434.4,2481.2 1435.5,2465.1 1437.2,2511 1437.6,2486.2 1437.9,2508.4 1439.3,2478.9 1440.4,2499.8 1440.7,2495.5 1442.1,2477.7 1443.2,2504.1 1443.5,2486.3 1443.9,2486.8 1444.9,2472.8 1445.6,2512.8 1446.7,2512.4 1447,2491.9 1447.4,2511 1448.4,2483.6 1449.8,2496.1 1450.2,2505.7 1450.5,2476.1 1452.3,2519.1 1453,2481.9 1453.3,2484.4 1453.7,2512.6 1456.1,2501.3 1456.5,2506.7 1457.9,2511.1 1459.3,2469.9 1459.6,2505.4 1462.4,2474.4 1462.8,2508.3 1464.2,2527.3 1465.2,2480.6 1465.6,2497.3 1465.9,2482.9 1467.7,2513 1468.7,2505.4 1469.1,2500.6 1471.2,2487.6 1471.5,2506.2 1471.9,2477.8 1472.6,2512.4 1474.7,2489.5 1475,2516.4 1476.1,2486.4 1477.8,2494.6 1478.2,2491.1 1479.6,2517.5 1480.3,2476.6 1481,2500.8 1481.3,2495.3 1482,2509.3 1483.1,2491.7 1484.1,2503.8 1484.5,2500.8 1485.9,2475 1487.3,2515.7 1487.6,2507.8 1488.3,2517 1490.1,2490.2 1490.4,2493.6 1490.8,2501.7 1493.2,2521.9 1493.6,2484.7 1493.9,2499.9 1494.6,2524 1495.7,2494.7 1496.7,2502.4 1497.1,2493.8 1498.5,2520.8 1499.2,2474.5 1499.9,2493 1500.2,2513.3 1501.6,2488.9 1502,2523.3 1503,2510.1 1503.4,2491.5 1505.1,2513.4 1505.5,2482.9 1506.2,2488.6 1506.5,2487.8 1506.9,2484.3 1509.3,2514.1 1509.7,2486.8 1510,2508.4 1512.5,2493 1512.8,2518.8 1514.6,2473.3 1515.3,2492 1515.6,2497 1516.7,2516.9 1518.1,2494.4 1518.4,2499.2 1518.8,2493.4 1519.1,2469.1 1520.5,2509.8 1521.6,2481.9 1521.9,2490.6 1524.4,2507.8 1524.7,2486.7 1525.1,2504.4 1525.4,2484.2 1527.5,2509.8 1527.9,2502.9 1528.2,2498.8 1528.6,2521.9 1529.3,2483.1 1531,2499.4 1531.4,2497.8 1531.7,2483.4 1533.1,2511.6 1534.2,2492.4 1534.5,2492.7 1535.6,2506.7 1537.3,2501.7 1537.7,2493.4 1538.7,2519 1539.8,2483 1540.5,2496.5 1540.8,2511.9 1541.9,2470.2 1543.6,2502.3 1544,2484.4 1544.3,2484 1545,2522.3 1546.8,2506.2 1547.1,2485.4 1548.9,2526.5 1549.9,2475.4 1550.3,2494.5 1551.7,2488.7 1552,2504.5 1553.1,2492.4 1553.4,2492.1 1554.1,2487.1 1555.9,2505.1 1556.2,2492.4 1556.6,2501.9 1557.6,2515.1 1559,2474.8 1559.4,2489.9 1561.5,2515.6 1562.2,2496.3 1562.5,2506 1563.6,2511.4 1565,2490.1 1565.3,2505.5 1565.7,2489.5 1567.1,2513.8 1568.5,2508.1 1568.8,2500.8 1569.9,2515.4 1570.9,2471.6 1571.6,2499.9 1572,2504.7 1574.1,2486.8 1574.8,2519.6 1575.1,2502.9 1577.6,2507.2 1577.9,2494.4 1578.3,2503.5 1580,2495.4 1580.4,2525.7 1581.1,2496.2 1581.4,2498.7 1582.1,2478.7 1584.2,2511 1584.6,2497.6 1586,2519.7 1586.3,2486.5 1587.4,2493.6 1587.7,2512.6 1589.1,2482.6 1590.5,2509.2 1590.9,2514.7 1591.6,2487.2 1593.7,2503.3 1594,2498.9 1594.4,2513.1 1596.1,2491.1 1596.8,2504.5 1597.2,2499.2 1599.3,2491.9 1600,2510.9 1600.3,2497.2 1601.7,2511.5 1602.8,2490.3 1603.1,2492.5 1603.8,2469.7 1605.9,2504.9 1606.3,2503.4 1607.7,2504.7 1608.4,2490.4 1609.1,2494.8 1609.4,2498.7 1610.5,2509.9 1611.9,2486.9 1612.2,2509.6 1612.6,2504.4 1614.7,2485.2 1615.4,2496.8 1615.7,2490.2 1616.1,2481.5 1617.8,2524.1 1618.5,2486.7 1618.9,2490.8 1619.6,2521.6 1621,2471.2 1621.7,2485.4 1622,2512.5 1623.1,2476.2 1623.8,2516.4 1624.8,2506.2 1625.2,2515.5 1625.5,2475.4 1628,2495.3 1628.3,2484.4 1629,2511.6 1630.1,2473.9 1631.1,2486.1 1631.5,2501.2 1632.5,2491.9 1633.6,2502.4 1634.3,2499 1634.6,2504.2 1636.4,2512.6 1637.4,2480.6 1637.8,2493.5 1639.9,2504.5 1640.2,2483.5 1640.6,2499.4 1640.9,2515.4 1643.7,2472.8 1644.1,2510 1644.4,2489.8 1644.8,2512.9 1646.5,2506.5 1646.9,2485.3 1647.2,2480.1 1648.3,2514.8 1649.7,2506.9 1650,2493.5 1652.5,2481.8 1652.8,2513 1653.2,2522.3 1653.5,2489.7 1656,2516 1656.3,2511.8 1657.4,2517.6 1657.7,2484.6 1659.1,2507.2 1659.5,2495.5 1660.2,2506.7 1662.3,2490.9 1662.6,2473.4 1664,2518.7 1665.4,2491.1 1665.8,2486.2 1667.2,2485.3 1668.2,2501.8 1668.6,2497.7 1668.9,2491.5 1670.3,2485.6 1671,2519.5 1671.7,2510.5 1672.1,2503.6 1673.8,2482.5 1674.5,2507.3 1674.9,2493.4 1675.2,2496.3 1676.6,2513.7 1678,2472.9 1678.4,2509.5 1678.7,2512.5 1679.8,2486.2 1681.2,2490.9 1681.5,2508 1682.2,2476 1683.3,2508.2 1684.3,2502.6 1684.7,2510.1 1686.4,2480.8 1687.5,2496 1687.8,2501.9 1688.2,2513.7 1688.9,2477.1 1690.3,2490.7 1690.6,2502.6 1691,2483.8 1693.4,2514.5 1693.8,2512.7 1694.1,2488.6 1696.6,2497 1696.9,2519.6 1697.6,2519.8 1699.4,2476.3 1699.7,2505.7 1700.1,2506.6 1702.9,2476.8 1703.2,2503 1705,2484.8 1706,2501.4 1706.4,2506.4 1707.1,2486 1708.5,2509.5 1709.2,2498.8 1709.5,2498.8 1710.2,2510.7 1710.6,2486.5 1712.3,2495.2 1712.7,2492.1 1713.7,2503.5 1715.5,2486.6 1715.8,2487.8 1716.2,2505.5 1717.9,2486.4 1718.6,2488 1719,2494.9 1719.7,2487.9 1720,2506.2 1721.8,2504.9 1722.1,2477.3 1724.2,2516.1 1724.9,2496.2 1725.3,2499.8 1726.7,2517.4 1727.4,2486.5 1728.1,2492.3 1728.4,2483.5 1729.5,2511.3 1731.2,2501.7 1731.6,2504.6 1732.3,2517.4 1734,2491.8 1734.4,2490.9 1735.4,2503.8 1736.5,2464.5 1737.2,2488.2 1737.5,2499.5 1737.9,2469.3 1739.3,2508.7 1740.3,2473.4 1740.7,2508.6 1742.8,2473.8 1743.5,2499.6 1743.8,2484.9 1744.2,2478.9 1745.2,2508.1 1746.6,2491.7 1747,2499 1748,2479 1748.4,2501.3 1749.8,2499.5 1750.1,2469.3 1751.2,2463.3 1752.9,2502.1 1753.3,2485.3 1755,2471.1 1756.1,2495.8 1756.4,2493.4 1756.8,2493.4 1758.2,2470.8 1759.2,2492.9 1759.6,2471.6 1760.3,2488.4 1762.4,2468.4 1762.7,2485.2 1764.1,2474.7 1764.8,2500.2 1765.5,2497.3 1765.9,2498.9 1768.7,2470.5 1769,2502.2 1770.1,2460.6 1771.8,2496.8 1772.2,2483.9 1773.6,2493.8 1774.6,2459.2 1775,2478.7 1775.3,2489.3 1775.7,2496 1777.1,2456.3 1777.8,2471.5 1778.1,2480.1 1779.5,2471.1 1780.2,2493.7 1780.9,2483.2 1781.3,2474.7 1783,2464.2 1784.1,2502.6 1784.4,2482 1784.8,2511.5 1785.1,2475 1787.2,2489.7 1787.6,2491.3 1788.6,2508.3 1789.3,2480.4 1790.4,2492.5 1790.7,2498.7 1791.4,2503.6 1793.5,2476.7 1793.9,2499.3 1794.2,2522.6 1796,2469.1 1796.7,2493.8 1797,2498 1798.8,2500.7 1799.1,2476.8 1799.8,2495.3 1800.2,2491.9 1800.5,2473 1800.9,2505.1 1803,2485 1803.3,2500.1 1804.4,2512.8 1804.7,2476.8 1806.1,2496.2 1806.5,2498.5 1808.6,2479.9 1809.3,2489.5 1809.6,2492.8 1810.3,2483.4 1812.4,2509.9 1812.8,2494.6 1814.2,2508.8 1815.6,2482.2 1815.9,2477.8 1816.3,2503.3 1818.7,2491.9 1819.1,2502.2 1820.8,2471 1821.5,2490.5 1821.9,2511.4 1822.2,2482 1824.7,2502.5 1825,2495.1 1825.4,2504.5 1827.8,2488.6 1828.2,2509.1 1829.9,2476.6 1831,2494.7 1831.3,2508 1831.7,2477 1832.4,2512.5 1834.1,2492.1 1834.5,2500.1 1834.8,2483.4 1836.2,2508.2 1837.3,2505 1837.6,2482.3 1838,2505.3 1838.7,2474 1840.4,2485 1840.8,2474.8 1841.1,2482.7 1843.6,2463.3 1843.9,2470.1 1846,2450.2 1846.7,2455.2 1847.1,2443.9 1849.9,2459.5 1850.2,2473.6 1851.3,2457 1852.3,2478.3 1853,2459.6 1853.4,2484.2 1853.7,2500.4 1855.5,2472.5 1856.2,2488.9 1856.5,2488.6 1857.2,2512.6 1858.3,2460.8 1859.3,2491.8 1859.7,2501.5 1861.8,2510.9 1862.5,2474.5 1862.8,2510.1 1863.5,2479.3 1865.3,2502 1865.6,2509.1 1867,2481.7 1868.4,2497.3 1868.8,2487 1870.2,2511.4 1871.2,2475.1 1871.6,2497.1 1871.9,2482.5 1872.3,2523.1 1874.7,2498.8 1875.1,2508.3 1875.8,2479.2 1877.2,2508.9 1877.9,2502.8 1878.2,2508.3 1878.9,2515.1 1880.7,2482.3 1881,2514.2 1881.4,2496.1 1881.7,2472.2 1883.1,2513.9 1884.2,2492.2 1884.5,2505.2 1886.3,2487.2 1887,2510.5 1887.3,2505 1887.7,2500.9 1890.1,2514.9 1890.5,2481.6 1890.8,2497.1 1891.9,2509.8 1893.6,2489.7 1894,2507.9 1894.3,2482.5 1896.8,2492.9 1897.1,2509.6 1898.9,2510.2 1899.2,2486.9 1899.9,2501.8 1900.3,2481.6 1901.7,2478.3 1902,2524.5 1903.1,2482.3 1903.4,2486.8 1903.8,2520.6 1905.5,2483.1 1906.2,2509 1906.6,2499.8 1908,2520.3 1909,2483.1 1909.4,2503.8 1911.1,2489.2 1911.5,2513.5 1912.2,2496.3 1912.5,2486.2 1913.9,2502.9 1915,2476 1915.3,2501.6 1915.7,2522.4 1918.5,2484.9 1918.8,2489.3 1919.5,2518.7 1920.2,2487.1 1921.6,2496.2 1922,2506.4 1922.7,2483.1 1923.4,2514.9 1924.8,2493.1 1925.1,2513.3 1925.8,2483 1926.5,2517.7 1927.9,2507.9 1928.3,2492.5 1929.3,2484.7 1929.7,2514 1931.1,2491.4 1931.4,2490.5 1932.1,2477.2 1932.5,2512 1934.2,2502.3 1934.6,2506.4 1935.3,2514.9 1937,2480.9 1937.4,2490.1 1937.7,2503.5 1939.8,2511.6 1940.5,2477.7 1940.9,2497.6 1941.2,2487.6 1942.6,2525.9 1943.7,2490.9 1944,2484.5 1944.7,2518.9 1946.8,2497.7 1947.2,2476.3 1948.2,2523 1950,2485 1950.3,2511.2 1952.4,2497.7 1952.8,2499.6 1953.1,2502.4 1954.2,2502.5 1955.9,2482.8 1956.3,2489.4 1957,2513.7 1959.1,2489.8 1959.4,2512.4 1961.9,2512.5 1962.2,2486.3 1962.6,2490.7 1962.9,2478.2 1964,2515.9 1965.4,2493.6 1965.7,2491.8 1966.4,2515.7 1968.5,2490.7 1968.9,2496.8 1969.2,2509.1 1971.7,2485.6 1972,2501.7 1972.7,2507.8 1974.5,2478.4 1974.8,2487.8 1975.2,2489.5 1976.6,2507.2 1976.9,2475 1978,2480.8 1978.3,2497.8 1979,2506.6 1980.1,2481.5 1981.1,2498.6 1981.5,2493.6 1983.2,2496.5 1983.6,2475.4 1984.3,2490 1984.6,2477.6 1985.3,2493.9 1987.4,2474.2 1987.8,2477.8 1988.1,2482.7 1990.2,2465.7 1990.6,2480.7 1990.9,2467.3 1992.7,2466.2 1993.4,2493.9 1993.7,2484.1 1994.1,2498.1 1994.8,2476.1 1996.5,2482.1 1996.9,2480.3 1997.2,2475.4 1997.6,2498 1999.7,2490.2 2000,2488.9 2000.7,2494.5 2001.4,2468.2 2002.8,2481.2 2003.2,2476.1 2003.9,2467 2005.3,2501.2 2006,2468.8 2006.3,2458.9 2007,2457 2007.4,2474 2009.1,2457.4 2009.5,2454.7 2010.9,2462.2 2012.3,2442.2 2012.6,2451.8 2013,2440.7 2015.4,2464 2015.8,2453.3 2017.2,2484.3 2018.6,2469.7 2018.9,2474.9 2019.3,2473.7 2019.6,2499.2 2021.7,2481.2 2022.1,2470.9 2022.4,2467.7 2022.8,2504.1 2024.9,2502.3 2025.2,2491.1 2026.3,2489.9 2028,2519.6 2028.4,2519 2030.8,2485.4 2031.2,2487.1 2031.5,2476.5 2032.9,2474.5 2034.3,2507.2 2034.7,2505.9 2036.1,2479.7 2037.5,2492 2037.8,2503.8 2038.9,2487.2 2039.2,2517.6 2040.3,2505.4 2040.6,2498.6 2041,2510.4 2041.3,2484.8 2043.4,2496.2 2043.8,2495.3 2044.5,2507.6 2046.6,2486.3 2046.9,2502.2 2047.3,2527 2049.7,2495.7 2050.1,2498.2 2051.1,2485.3 2051.8,2513.6 2052.9,2491 2053.2,2501.4 2053.9,2516.7 2054.3,2495.5 2056,2497.2 2056.4,2504.5 2058.5,2486.2 2058.8,2521.4 2059.2,2503.9 2059.5,2505 2061.3,2478.8 2062,2509.6 2062.3,2498.3 2062.7,2507.5 2063.7,2502.6 2064.1,2515.9 2065.5,2504.7 2065.8,2516.9 2066.2,2477.9 2068.6,2518 2069,2495.9 2069.7,2518.7 2071.8,2473.9 2072.1,2519 2074.6,2486.3 2074.9,2509.2 2075.3,2507.9 2076.3,2524.1 2078.1,2499.1 2078.4,2508 2080.5,2516.9 2080.9,2489.4 2081.2,2492.1 2081.6,2504.1 2081.9,2481.3 2083.3,2522.9 2084,2496.2 2084.4,2488.6 2084.7,2507.4 2085.8,2485.7 2087.2,2495.8 2087.5,2496.6 2087.9,2519.1 2088.9,2480.2 2090.3,2500.1 2090.7,2506.8 2091.4,2492.3 2092.1,2523.3 2093.5,2513.1 2093.8,2495.4 2095.9,2482 2096.6,2516.7 2097,2507.1 2098.7,2494.2 2099.1,2519 2099.8,2498.3 2100.1,2499.4 2100.5,2482.4 2102.6,2512.7 2102.9,2499.7 2103.3,2494.5 2104,2486.7 2106.1,2524.4 2106.4,2503.9 2107.5,2482.2 2108.9,2525.1 2109.2,2483 2109.6,2508.3 2111,2529.7 2111.7,2486.8 2112.4,2517.5 2112.7,2502.8 2113.8,2490.4 2114.5,2512.7 2115.5,2510.8 2115.9,2499.7 2116.9,2481.6 2118.3,2514.6 2118.7,2484 2119,2510.1 2121.1,2516.5 2121.8,2496.4 2122.2,2506.1 2123.9,2498.1 2124.3,2508.1 2125,2505.4 2125.3,2502.1 2126.7,2485.8 2127.8,2509.7 2128.1,2501.1 2129.9,2488 2130.9,2510.9 2131.3,2502.5 2132,2512.9 2133,2490.9 2134.1,2501.1 2134.4,2494.7 2134.8,2518.1 2135.8,2493.6 2137.2,2516.7 2137.6,2505.1 2138.6,2493.8 2140.4,2520 2140.7,2497.3 2141.1,2481 2143.5,2520.1 2143.9,2505.3 2144.6,2516.7 2146,2488.1 2146.7,2511.8 2147,2484.4 2148.4,2483.9 2149.1,2518.3 2149.8,2497.9 2150.2,2508.4 2151.2,2483.7 2151.6,2527.5 2153,2490.7 2153.3,2501.6 2155.1,2530.9 2155.8,2486.3 2156.1,2521.6 2156.5,2514.3 2157.2,2483.7 2157.5,2521 2159.3,2501.1 2159.6,2500.9 2161.4,2499.6 2161.7,2512.8 2162.4,2504.9 2162.8,2517.9 2163.1,2472.5 2165.6,2502.5 2165.9,2490.9 2166.3,2472.3 2168.4,2520.9 2168.7,2513.2 2169.1,2520.1 2170.5,2483.7 2171.5,2486.9 2171.9,2506.4 2172.2,2484.6 2172.6,2518.6 2174.7,2518.4 2175,2503.9 2176.8,2490 2177.1,2511.6 2177.8,2491.1 2178.2,2491.7 2178.9,2485.1 2180.6,2515.8 2181,2497.5 2181.3,2501.4 2182,2515.1 2184.1,2491.7 2184.5,2498.9 2185.2,2515.8 2186.9,2492.9 2187.3,2499.3 2187.6,2493.8 2188.7,2519 2190.4,2504.5 2190.8,2487.6 2191.1,2516.3 2193.6,2502.9 2193.9,2494.8 2194.3,2526.9 2196.7,2485.8 2197.1,2488 2198.8,2526.5 2199.9,2507 2200.2,2514.4 2202,2474.3 2203,2489.5 2203.4,2518.9 2205.5,2479.9 2206.2,2504.3 2206.5,2517 2209,2479.3 2209.3,2497.8 2209.7,2514.1 2212.1,2488.5 2212.5,2509.7 2212.8,2491.8 2213.5,2513.5 2215.3,2492.1 2215.6,2503.7 2218.1,2522.3 2218.4,2483.6 2218.8,2529.3 2220.2,2488.2 2221.6,2507.5 2221.9,2511.9 2223,2482.8 2223.3,2514.4 2224.7,2509.9 2225.1,2514.5 2226.8,2477.6 2227.9,2514.6 2228.2,2507.5 2228.9,2508.4 2229.3,2491.3 2231,2493.3 2231.4,2520.6 2233.5,2492.6 2234.2,2523.6 2234.5,2510.8 2235.2,2487.8 2236.6,2518.9 2237.3,2497.9 2237.7,2515.2 2238.7,2516.1 2239.1,2486.5 2240.5,2492.3 2240.8,2482.6 2241.5,2523.6 2242.2,2482.6 2243.6,2498.9 2244,2494 2244.3,2511.1 2246.8,2479.9 2247.1,2511.6 2249.6,2496.7 2249.9,2507.8 2250.3,2507.6 2251.3,2530.9 2252.4,2474.9 2253.1,2489.4 2253.4,2523.1 2254.5,2472.5 2256.2,2508.5 2256.6,2500.8 2257.3,2515.6 2259,2491.4 2259.4,2510.4 2260.1,2513.7 2260.8,2495.7 2262.2,2505 2262.5,2509 2262.9,2492.6 2264.3,2513.6 2265.3,2506.6 2265.7,2495.4 2267.8,2474.8 2268.5,2521.7 2268.8,2505.5 2270.9,2491.9 2271.6,2514.7 2272,2487.9 2272.3,2484.6 2273.4,2516.2 2274.8,2498.9 2275.1,2509.2 2275.5,2490.9 2276.5,2510.1 2277.9,2502 2278.3,2504.9 2279.3,2484.7 2280.7,2508 2281.1,2501.8 2281.4,2515.3 2283.2,2483.4 2283.5,2523 2284.2,2507.9 2284.6,2511.8 2284.9,2489.8 2287.4,2499.2 2287.7,2503.6 2289.1,2483.3 2289.5,2521.9 2290.5,2487 2290.9,2498.8 2291.2,2510.5 2291.9,2486.3 2293.7,2497.7 2294,2496.8 2294.7,2519.2 2296.1,2487.3 2296.8,2514.5 2297.2,2486.6 2299.3,2510.6 2300,2495 2300.3,2504.3 2301.4,2504.5 2301.7,2477.4 2302.8,2501.7 2303.1,2495.5 2303.5,2481.2 2304.9,2524.3 2305.9,2511.7 2306.3,2508.6 2307.7,2516.6 2309.1,2477.4 2309.4,2526.7 2311.9,2500.3 2312.2,2502.8 2312.6,2515.1 2313.6,2495.4 2314.7,2521.6 2315.4,2504.8 2315.7,2499.8 2317.5,2481.4 2318.2,2509.5 2318.5,2492.2 2318.9,2506.1 2319.2,2487.6 2320.3,2517.5 2321.7,2489.3 2322,2506.7 2322.4,2481.8 2324.8,2515.5 2325.2,2500.2 2326.2,2481.9 2327.3,2509 2328,2494.2 2328.3,2494.4 2329,2519.4 2331.1,2486.2 2331.5,2498.5 2333.6,2516.7 2334.3,2497.5 2334.6,2495.5 2336.7,2511 2337.4,2498.4 2337.8,2493.8 2338.5,2530.8 2340.6,2510.3 2340.9,2490.7 2343.4,2518.5 2343.7,2515.5 2344.1,2506.6 2345.1,2524.1 2346.5,2501 2346.9,2501.5 2348.3,2520 2348.6,2488.5 2349.7,2498.8 2350,2502.7 2350.4,2512.5 2351.8,2493 2352.8,2504.9 2353.2,2472.6 2354.9,2511.3 2356,2507.1 2356.3,2496.1 2356.7,2510.1 2357.4,2488.5 2359.1,2491 2359.5,2503.3 2360.2,2530.3 2360.5,2483 2362.3,2522.5 2362.6,2520.5 2365.4,2495.3 2365.8,2503.8 2366.8,2484.7 2367.2,2511.2 2368.6,2503.4 2368.9,2504.6 2370,2508.7 2371.4,2488.9 2371.7,2502.6 2372.1,2498 2373.5,2521.6 2374.9,2484.9 2375.2,2506 2375.9,2519.1 2377.3,2492.8 2378,2517.8 2378.4,2521.7 2379.8,2483.5 2381.2,2510.7 2381.5,2504.6 2383.6,2529.1 2384.3,2487.2 2384.7,2499.9 2386.1,2479.6 2386.4,2516 2387.5,2502.2 2387.8,2493.4 2389.9,2489.4 2390.3,2513.2 2390.6,2506.9 2391.7,2490.9 2392.4,2518.2 2393.4,2509.1 2393.8,2498.2 2395.2,2512.8 2395.5,2488 2396.6,2494.6 2396.9,2494.7 2398.3,2518.1 2399.4,2482.9 2399.7,2507.4 2400.1,2489.3 2401.1,2506.6 2401.5,2485 2402.9,2504 2403.2,2516.9 2404.6,2520.9 2405.7,2499.3 2406,2519.1 2406.4,2503.2 2407.1,2522.5 2407.4,2486.3 2409.2,2505.7 2409.5,2512 2411.3,2488 2412.3,2493.9 2412.7,2497.1 2413.4,2493.7 2415.5,2513.7 2415.8,2495.2 2417.2,2480.9 2417.6,2518.5 2418.6,2496 2419,2493 2420.7,2517.5 2421.8,2477.9 2422.1,2512.5 2423.9,2488.5 2424.9,2508.1 2425.3,2494.8 2426.3,2516.8 2427,2484.2 2428.1,2505.1 2428.4,2495.4 2429.1,2476.8 2429.8,2514.9 2431.2,2513.1 2431.6,2508.9 2431.9,2514.9 2432.3,2493.4 2434,2497.3 2434.4,2478.3 2435.1,2521.5 2437.2,2478 2437.5,2502.6 2438.2,2489.9 2440.3,2494.3 2440.7,2495.9 2441,2472.9 2441.4,2521.9 2443.5,2484.8 2443.8,2502.8 2445.6,2485.1 2446.6,2513.2 2447,2509 2447.3,2511.4 2447.7,2502.4"/>
</g>
<text class="t" x="351.5" y="3178.5" text-anchor="end">0</text>
<text class="t" x="351.5" y="2899.3" text-anchor="end">500</text>
<text class="t" x="351.5" y="2620.1" text-anchor="end">1000</text>
<text class="t" x="351.5" y="2340.9" text-anchor="end">1500</text>
<text class="t" x="351.5" y="2061.7" text-anchor="end">2000</text>
<text class="t" x="351.5" y="1782.5" text-anchor="end">2500</text>
<text class="t" x="424.4" y="3277" text-anchor="middle">10</text>
<text class="t" x="999.1" y="3277" text-anchor="middle">30</text>
<text class="t" x="1573.7" y="3277" text-anchor="middle">50</text>
<text class="t" x="2148.4" y="3277" text-anchor="middle">70</text>
<text class="t b" x="1490.3" y="3387" text-anchor="middle" style="font-size:85px">2Θ (degree)</text>
<text class="t b" transform="translate(139.5 2574.5) rotate(-90)" text-anchor="middle">intensity (a.u.)</text>
<text class="b" x="545.5" y="1922.5" font-size="94">(b)</text>
<path class="m" d="M756.3 1773.7L778.0 1816.0L734.6 1816.0Z"/>
<circle class="m" cx="757.0" cy="1852.3" r="22.0"/>
<rect class="m" x="654.0" y="2366.2" width="44.0" height="42.7"/>
<path class="m" d="M1058.9 2372.5L1080.8 2415.1L1037.0 2415.1Z"/>
<path class="m" d="M1161.5 2362.7L1183.0 2405.0L1140.0 2405.0Z"/>
<rect class="m" x="1173.1" y="2167.9" width="43.8" height="42.9"/>
<circle class="m" cx="1193.9" cy="2245.6" r="21.7"/>
<path class="m" d="M1444.3 2386.9L1466.1 2429.3L1422.5 2429.3Z"/>
<rect class="m" x="1823.9" y="2390.5" width="44.4" height="43.5"/>
<rect class="m" x="1991.2" y="2317.9" width="43.8" height="42.9"/>
<circle class="m" cx="2012.7" cy="2399.5" r="21.8"/>
<path class="m" d="M2258.8 1815.0L2280.8 1857.2L2236.8 1857.2Z"/>
<circle class="m" cx="2255.1" cy="1933.4" r="21.8"/>
<rect class="m" x="2242.8" y="2026.8" width="44.5" height="43.0"/>
<text x="2014.5" y="1860" font-size="74.3">SiO<tspan dy="18" font-size="50">2</tspan></text>
<text x="2012" y="1960.8" font-size="74.3">MnO<tspan dy="23" font-size="64">2</tspan></text>
<text x="2013.5" y="2066.5" font-size="74.3">Co<tspan dy="18" font-size="50">3</tspan><tspan dy="-18">O</tspan><tspan dy="22" font-size="64">4</tspan></text>
</svg></body></html>
